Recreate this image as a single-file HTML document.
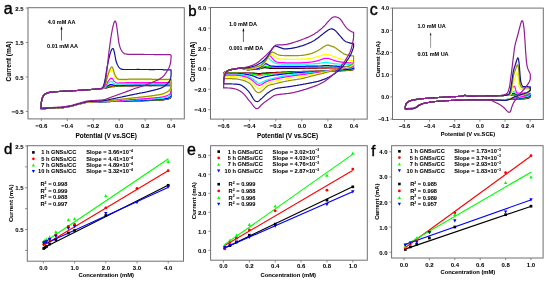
<!DOCTYPE html>
<html><head><meta charset="utf-8"><style>
html,body{margin:0;padding:0;background:#fff;width:550px;height:282px;overflow:hidden}
svg{display:block;font-family:"Liberation Sans", sans-serif;will-change:transform}
text{stroke:#000;stroke-width:0.04px}
</style></head><body>
<svg width="550" height="282" viewBox="0 0 550 282">
<rect width="550" height="282" fill="#fff"/>
<g fill="none" stroke-width="1.20" stroke-linejoin="round">
<path d="M41.0 108.6L41.2 103.9L41.5 101.6L41.7 100.4L41.8 100.2L42.0 99.0L42.2 98.2L42.4 97.7L42.5 97.4L43.1 96.2L43.8 95.2L44.5 94.6L45.2 94.1L45.9 93.7L46.6 93.3L47.3 93.0L48.0 92.8L48.7 92.6L49.4 92.4L50.1 92.3L50.8 92.2L51.5 92.1L52.2 92.0L52.9 92.0L53.6 91.9L54.3 91.9L55.0 91.8L55.7 91.7L56.4 91.7L57.1 91.6L57.8 91.6L58.5 91.5L59.2 91.5L59.9 91.4L60.6 91.4L61.3 91.3L62.0 91.3L62.7 91.2L63.4 91.2L64.1 91.2L64.8 91.1L65.5 91.1L66.2 91.1L66.9 91.1L67.6 91.0L68.3 91.0L69.0 91.0L69.7 90.9L70.4 90.9L71.1 90.8L71.8 90.8L72.5 90.8L73.2 90.7L73.9 90.7L74.6 90.6L75.3 90.6L76.0 90.6L76.7 90.5L77.4 90.5L78.1 90.4L78.8 90.4L79.5 90.3L80.2 90.3L80.9 90.2L81.6 90.2L82.3 90.1L83.0 90.1L83.7 90.1L84.4 90.0L85.1 90.0L85.8 89.9L86.5 89.9L87.2 89.8L87.9 89.8L88.6 89.7L89.3 89.7L90.0 89.6L90.7 89.5L91.4 89.5L92.1 89.4L92.8 89.4L93.5 89.3L94.2 89.2L94.9 89.2L95.6 89.1L96.3 89.1L97.0 89.0L97.7 88.9L98.4 88.9L99.1 88.8L99.8 88.8L100.5 88.7L101.2 88.7L101.9 88.6L102.6 88.5L103.3 88.5L104.0 88.4L104.7 88.2L105.4 88.1L106.1 87.9L106.8 87.8L107.5 87.6L108.2 87.4L108.9 87.2L109.6 87.0L110.3 86.9L111.0 86.8L111.7 86.7L112.4 86.7L113.1 86.6L113.8 86.6L114.5 86.6L115.2 86.5L115.9 86.5L116.6 86.4L117.3 86.3L118.0 86.3L118.7 86.2L119.4 86.1L120.1 86.1L120.8 86.1L121.5 86.0L122.2 86.0L122.9 86.0L123.6 85.9L124.3 85.9L125.0 85.9L125.7 85.9L126.4 85.9L127.1 85.9L127.8 85.8L128.5 85.8L129.2 85.8L129.9 85.8L130.6 85.8L131.3 85.8L132.0 85.8L132.7 85.8L133.4 85.8L134.1 85.7L134.8 85.7L135.5 85.7L136.2 85.7L136.9 85.7L137.6 85.7L138.3 85.7L139.0 85.7L139.7 85.7L140.4 85.7L141.1 85.7L141.8 85.7L142.5 85.7L143.2 85.7L143.9 85.7L144.6 85.7L145.3 85.7L146.0 85.7L146.7 85.7L147.4 85.7L148.1 85.7L148.8 85.7L149.5 85.7L150.2 85.7L150.9 85.7L151.6 85.7L152.3 85.7L153.0 85.7L153.7 85.7L154.4 85.7L155.1 85.7L155.8 85.6L156.5 85.6L157.2 85.6L157.9 85.6L158.6 85.6L159.3 85.6L160.0 85.6L160.7 85.6L161.4 85.6L162.1 85.6L162.8 85.6L163.5 85.6L164.2 85.6L164.9 85.6L165.6 85.6L166.3 85.6L167.0 85.6L167.7 85.6L168.4 85.6L169.1 85.6L169.6 85.6L169.8 85.6L169.8 85.6L170.1 85.6L170.3 85.6L170.5 85.6L170.6 85.6L170.8 85.6L171.1 85.6L171.1 96.1L170.8 97.3L170.6 97.7L170.5 97.8L170.3 98.0L170.1 98.2L169.8 98.4L169.8 98.4L169.6 98.5L169.1 98.7L168.4 99.0L167.7 99.1L167.0 99.2L166.3 99.4L165.6 99.5L164.9 99.6L164.2 99.7L163.5 99.8L162.8 99.9L162.1 99.9L161.4 100.0L160.7 100.0L160.0 100.1L159.3 100.1L158.6 100.2L157.9 100.2L157.2 100.2L156.5 100.3L155.8 100.3L155.1 100.3L154.4 100.4L153.7 100.4L153.0 100.4L152.3 100.4L151.6 100.5L150.9 100.5L150.2 100.5L149.5 100.5L148.8 100.6L148.1 100.6L147.4 100.6L146.7 100.6L146.0 100.7L145.3 100.7L144.6 100.7L143.9 100.7L143.2 100.8L142.5 100.8L141.8 100.8L141.1 100.8L140.4 100.8L139.7 100.9L139.0 100.9L138.3 100.9L137.6 100.9L136.9 100.9L136.2 101.0L135.5 101.0L134.8 101.0L134.1 101.0L133.4 101.0L132.7 101.0L132.0 101.0L131.3 101.1L130.6 101.1L129.9 101.1L129.2 101.1L128.5 101.1L127.8 101.1L127.1 101.2L126.4 101.2L125.7 101.2L125.0 101.2L124.3 101.2L123.6 101.2L122.9 101.3L122.2 101.3L121.5 101.3L120.8 101.3L120.1 101.3L119.4 101.3L118.7 101.4L118.0 101.4L117.3 101.4L116.6 101.4L115.9 101.4L115.2 101.4L114.5 101.5L113.8 101.5L113.1 101.5L112.4 101.5L111.7 101.5L111.0 101.5L110.3 101.6L109.6 101.6L108.9 101.6L108.2 101.6L107.5 101.6L106.8 101.6L106.1 101.7L105.4 101.7L104.7 101.7L104.0 101.7L103.3 101.7L102.6 101.8L101.9 101.8L101.2 101.8L100.5 101.8L99.8 101.9L99.1 101.9L98.4 101.9L97.7 101.9L97.0 101.9L96.3 102.0L95.6 102.0L94.9 102.0L94.2 102.0L93.5 102.1L92.8 102.1L92.1 102.1L91.4 102.1L90.7 102.2L90.0 102.2L89.3 102.2L88.6 102.3L87.9 102.3L87.2 102.4L86.5 102.4L85.8 102.5L85.1 102.7L84.4 102.8L83.7 102.9L83.0 103.1L82.3 103.3L81.6 103.4L80.9 103.6L80.2 103.7L79.5 103.9L78.8 104.1L78.1 104.3L77.4 104.5L76.7 104.7L76.0 104.9L75.3 105.1L74.6 105.3L73.9 105.5L73.2 105.7L72.5 105.9L71.8 106.1L71.1 106.3L70.4 106.4L69.7 106.5L69.0 106.7L68.3 106.8L67.6 106.9L66.9 107.1L66.2 107.2L65.5 107.3L64.8 107.4L64.1 107.5L63.4 107.6L62.7 107.7L62.0 107.8L61.3 107.9L60.6 107.9L59.9 108.0L59.2 108.0L58.5 108.1L57.8 108.1L57.1 108.1L56.4 108.2L55.7 108.2L55.0 108.2L54.3 108.2L53.6 108.3L52.9 108.3L52.2 108.3L51.5 108.3L50.8 108.4L50.1 108.4L49.4 108.4L48.7 108.4L48.0 108.5L47.3 108.5L46.6 108.5L45.9 108.6L45.2 108.6L44.5 108.6L43.8 108.6L43.1 108.6L42.5 108.6L42.4 108.6L42.2 108.6L42.0 108.6L41.8 108.6L41.7 108.6L41.5 108.6L41.2 108.6L41.0 108.6Z" stroke="#000000"/>
<path d="M41.0 108.6L41.2 103.9L41.5 101.6L41.7 100.4L41.8 100.2L42.0 99.0L42.2 98.2L42.4 97.7L42.5 97.4L43.1 96.2L43.8 95.2L44.5 94.6L45.2 94.1L45.9 93.7L46.6 93.3L47.3 93.0L48.0 92.8L48.7 92.6L49.4 92.4L50.1 92.3L50.8 92.2L51.5 92.1L52.2 92.0L52.9 92.0L53.6 91.9L54.3 91.9L55.0 91.8L55.7 91.7L56.4 91.7L57.1 91.6L57.8 91.6L58.5 91.5L59.2 91.5L59.9 91.4L60.6 91.4L61.3 91.3L62.0 91.3L62.7 91.2L63.4 91.2L64.1 91.2L64.8 91.1L65.5 91.1L66.2 91.1L66.9 91.1L67.6 91.0L68.3 91.0L69.0 91.0L69.7 90.9L70.4 90.9L71.1 90.8L71.8 90.8L72.5 90.8L73.2 90.7L73.9 90.7L74.6 90.6L75.3 90.6L76.0 90.6L76.7 90.5L77.4 90.5L78.1 90.4L78.8 90.4L79.5 90.3L80.2 90.3L80.9 90.2L81.6 90.2L82.3 90.1L83.0 90.1L83.7 90.1L84.4 90.0L85.1 90.0L85.8 89.9L86.5 89.9L87.2 89.8L87.9 89.8L88.6 89.7L89.3 89.7L90.0 89.6L90.7 89.5L91.4 89.5L92.1 89.4L92.8 89.4L93.5 89.3L94.2 89.2L94.9 89.2L95.6 89.1L96.3 89.1L97.0 89.0L97.7 88.9L98.4 88.9L99.1 88.8L99.8 88.8L100.5 88.7L101.2 88.7L101.9 88.6L102.6 88.5L103.3 88.4L104.0 88.3L104.7 88.1L105.4 87.9L106.1 87.7L106.8 87.4L107.5 87.2L108.2 87.0L108.9 86.7L109.6 86.5L110.3 86.4L111.0 86.3L111.7 86.2L112.4 86.2L113.1 86.3L113.8 86.3L114.5 86.3L115.2 86.3L115.9 86.3L116.6 86.2L117.3 86.2L118.0 86.1L118.7 86.0L119.4 86.0L120.1 85.9L120.8 85.9L121.5 85.9L122.2 85.8L122.9 85.8L123.6 85.8L124.3 85.8L125.0 85.7L125.7 85.7L126.4 85.7L127.1 85.7L127.8 85.7L128.5 85.7L129.2 85.7L129.9 85.6L130.6 85.6L131.3 85.6L132.0 85.6L132.7 85.6L133.4 85.6L134.1 85.6L134.8 85.6L135.5 85.6L136.2 85.6L136.9 85.6L137.6 85.6L138.3 85.5L139.0 85.5L139.7 85.5L140.4 85.5L141.1 85.5L141.8 85.5L142.5 85.5L143.2 85.5L143.9 85.5L144.6 85.5L145.3 85.5L146.0 85.5L146.7 85.5L147.4 85.5L148.1 85.5L148.8 85.5L149.5 85.6L150.2 85.6L150.9 85.6L151.6 85.6L152.3 85.5L153.0 85.5L153.7 85.5L154.4 85.5L155.1 85.5L155.8 85.5L156.5 85.5L157.2 85.5L157.9 85.5L158.6 85.5L159.3 85.5L160.0 85.5L160.7 85.5L161.4 85.5L162.1 85.5L162.8 85.5L163.5 85.5L164.2 85.5L164.9 85.5L165.6 85.5L166.3 85.5L167.0 85.5L167.7 85.5L168.4 85.5L169.1 85.5L169.6 85.5L169.8 85.5L169.8 85.5L170.1 85.5L170.3 85.5L170.5 85.5L170.6 85.5L170.8 85.5L171.1 85.5L171.1 95.8L170.8 97.0L170.6 97.4L170.5 97.6L170.3 97.7L170.1 97.9L169.8 98.1L169.8 98.2L169.6 98.3L169.1 98.5L168.4 98.7L167.7 98.9L167.0 99.0L166.3 99.1L165.6 99.3L164.9 99.4L164.2 99.5L163.5 99.6L162.8 99.7L162.1 99.8L161.4 99.8L160.7 99.9L160.0 99.9L159.3 100.0L158.6 100.0L157.9 100.0L157.2 100.1L156.5 100.1L155.8 100.1L155.1 100.2L154.4 100.2L153.7 100.2L153.0 100.3L152.3 100.3L151.6 100.3L150.9 100.4L150.2 100.4L149.5 100.4L148.8 100.4L148.1 100.5L147.4 100.5L146.7 100.5L146.0 100.5L145.3 100.6L144.6 100.6L143.9 100.6L143.2 100.6L142.5 100.7L141.8 100.7L141.1 100.7L140.4 100.7L139.7 100.8L139.0 100.8L138.3 100.8L137.6 100.8L136.9 100.8L136.2 100.8L135.5 100.9L134.8 100.9L134.1 100.9L133.4 100.9L132.7 100.9L132.0 101.0L131.3 101.0L130.6 101.0L129.9 101.0L129.2 101.0L128.5 101.0L127.8 101.1L127.1 101.1L126.4 101.1L125.7 101.1L125.0 101.1L124.3 101.2L123.6 101.2L122.9 101.2L122.2 101.2L121.5 101.2L120.8 101.2L120.1 101.3L119.4 101.3L118.7 101.3L118.0 101.3L117.3 101.3L116.6 101.4L115.9 101.4L115.2 101.4L114.5 101.4L113.8 101.4L113.1 101.4L112.4 101.5L111.7 101.5L111.0 101.5L110.3 101.5L109.6 101.5L108.9 101.6L108.2 101.6L107.5 101.6L106.8 101.6L106.1 101.6L105.4 101.7L104.7 101.7L104.0 101.7L103.3 101.7L102.6 101.7L101.9 101.8L101.2 101.8L100.5 101.8L99.8 101.8L99.1 101.9L98.4 101.9L97.7 101.9L97.0 101.9L96.3 102.0L95.6 102.0L94.9 102.0L94.2 102.0L93.5 102.1L92.8 102.1L92.1 102.1L91.4 102.1L90.7 102.1L90.0 102.2L89.3 102.2L88.6 102.2L87.9 102.3L87.2 102.3L86.5 102.4L85.8 102.5L85.1 102.7L84.4 102.8L83.7 102.9L83.0 103.1L82.3 103.3L81.6 103.4L80.9 103.6L80.2 103.7L79.5 103.9L78.8 104.1L78.1 104.3L77.4 104.5L76.7 104.7L76.0 104.9L75.3 105.1L74.6 105.3L73.9 105.5L73.2 105.7L72.5 105.9L71.8 106.1L71.1 106.3L70.4 106.4L69.7 106.5L69.0 106.7L68.3 106.8L67.6 106.9L66.9 107.1L66.2 107.2L65.5 107.3L64.8 107.4L64.1 107.5L63.4 107.6L62.7 107.7L62.0 107.8L61.3 107.9L60.6 107.9L59.9 108.0L59.2 108.0L58.5 108.1L57.8 108.1L57.1 108.1L56.4 108.2L55.7 108.2L55.0 108.2L54.3 108.2L53.6 108.3L52.9 108.3L52.2 108.3L51.5 108.3L50.8 108.4L50.1 108.4L49.4 108.4L48.7 108.4L48.0 108.5L47.3 108.5L46.6 108.5L45.9 108.6L45.2 108.6L44.5 108.6L43.8 108.6L43.1 108.6L42.5 108.6L42.4 108.6L42.2 108.6L42.0 108.6L41.8 108.6L41.7 108.6L41.5 108.6L41.2 108.6L41.0 108.6Z" stroke="#ff0000"/>
<path d="M41.0 108.6L41.2 103.9L41.5 101.6L41.7 100.4L41.8 100.2L42.0 99.0L42.2 98.2L42.4 97.7L42.5 97.4L43.1 96.2L43.8 95.2L44.5 94.6L45.2 94.1L45.9 93.7L46.6 93.3L47.3 93.0L48.0 92.8L48.7 92.6L49.4 92.4L50.1 92.3L50.8 92.2L51.5 92.1L52.2 92.0L52.9 92.0L53.6 91.9L54.3 91.9L55.0 91.8L55.7 91.7L56.4 91.7L57.1 91.6L57.8 91.6L58.5 91.5L59.2 91.5L59.9 91.4L60.6 91.4L61.3 91.3L62.0 91.3L62.7 91.2L63.4 91.2L64.1 91.2L64.8 91.1L65.5 91.1L66.2 91.1L66.9 91.1L67.6 91.0L68.3 91.0L69.0 91.0L69.7 90.9L70.4 90.9L71.1 90.8L71.8 90.8L72.5 90.8L73.2 90.7L73.9 90.7L74.6 90.6L75.3 90.6L76.0 90.6L76.7 90.5L77.4 90.5L78.1 90.4L78.8 90.4L79.5 90.3L80.2 90.3L80.9 90.2L81.6 90.2L82.3 90.1L83.0 90.1L83.7 90.1L84.4 90.0L85.1 90.0L85.8 89.9L86.5 89.9L87.2 89.8L87.9 89.8L88.6 89.7L89.3 89.7L90.0 89.6L90.7 89.5L91.4 89.5L92.1 89.4L92.8 89.4L93.5 89.3L94.2 89.2L94.9 89.2L95.6 89.1L96.3 89.1L97.0 89.0L97.7 88.9L98.4 88.9L99.1 88.8L99.8 88.8L100.5 88.7L101.2 88.7L101.9 88.6L102.6 88.5L103.3 88.4L104.0 88.2L104.7 87.9L105.4 87.6L106.1 87.3L106.8 87.0L107.5 86.6L108.2 86.3L108.9 86.0L109.6 85.8L110.3 85.6L111.0 85.5L111.7 85.5L112.4 85.6L113.1 85.8L113.8 85.8L114.5 85.9L115.2 86.0L115.9 86.1L116.6 86.0L117.3 86.0L118.0 85.9L118.7 85.9L119.4 85.8L120.1 85.8L120.8 85.7L121.5 85.7L122.2 85.7L122.9 85.7L123.6 85.6L124.3 85.6L125.0 85.6L125.7 85.6L126.4 85.6L127.1 85.5L127.8 85.5L128.5 85.5L129.2 85.5L129.9 85.5L130.6 85.5L131.3 85.5L132.0 85.5L132.7 85.4L133.4 85.4L134.1 85.4L134.8 85.4L135.5 85.4L136.2 85.4L136.9 85.4L137.6 85.4L138.3 85.4L139.0 85.4L139.7 85.4L140.4 85.4L141.1 85.4L141.8 85.4L142.5 85.4L143.2 85.4L143.9 85.4L144.6 85.4L145.3 85.4L146.0 85.4L146.7 85.4L147.4 85.4L148.1 85.4L148.8 85.4L149.5 85.4L150.2 85.4L150.9 85.4L151.6 85.4L152.3 85.4L153.0 85.4L153.7 85.4L154.4 85.4L155.1 85.4L155.8 85.4L156.5 85.3L157.2 85.3L157.9 85.3L158.6 85.3L159.3 85.3L160.0 85.3L160.7 85.3L161.4 85.3L162.1 85.3L162.8 85.3L163.5 85.3L164.2 85.3L164.9 85.3L165.6 85.3L166.3 85.3L167.0 85.3L167.7 85.3L168.4 85.3L169.1 85.3L169.6 85.3L169.8 85.3L169.8 85.3L170.1 85.3L170.3 85.3L170.5 85.3L170.6 85.3L170.8 85.3L171.1 85.3L171.1 95.3L170.8 96.5L170.6 97.0L170.5 97.1L170.3 97.3L170.1 97.5L169.8 97.7L169.8 97.8L169.6 97.9L169.1 98.1L168.4 98.4L167.7 98.5L167.0 98.7L166.3 98.8L165.6 99.0L164.9 99.1L164.2 99.2L163.5 99.3L162.8 99.4L162.1 99.5L161.4 99.5L160.7 99.6L160.0 99.7L159.3 99.7L158.6 99.7L157.9 99.8L157.2 99.8L156.5 99.9L155.8 99.9L155.1 99.9L154.4 100.0L153.7 100.0L153.0 100.0L152.3 100.1L151.6 100.1L150.9 100.1L150.2 100.2L149.5 100.2L148.8 100.2L148.1 100.3L147.4 100.3L146.7 100.3L146.0 100.4L145.3 100.4L144.6 100.4L143.9 100.4L143.2 100.5L142.5 100.5L141.8 100.5L141.1 100.5L140.4 100.6L139.7 100.6L139.0 100.6L138.3 100.6L137.6 100.6L136.9 100.7L136.2 100.7L135.5 100.7L134.8 100.7L134.1 100.7L133.4 100.8L132.7 100.8L132.0 100.8L131.3 100.8L130.6 100.9L129.9 100.9L129.2 100.9L128.5 100.9L127.8 100.9L127.1 101.0L126.4 101.0L125.7 101.0L125.0 101.0L124.3 101.0L123.6 101.1L122.9 101.1L122.2 101.1L121.5 101.1L120.8 101.2L120.1 101.2L119.4 101.2L118.7 101.2L118.0 101.2L117.3 101.3L116.6 101.3L115.9 101.3L115.2 101.3L114.5 101.3L113.8 101.4L113.1 101.4L112.4 101.4L111.7 101.4L111.0 101.4L110.3 101.5L109.6 101.5L108.9 101.5L108.2 101.5L107.5 101.6L106.8 101.6L106.1 101.6L105.4 101.6L104.7 101.7L104.0 101.7L103.3 101.7L102.6 101.7L101.9 101.7L101.2 101.8L100.5 101.8L99.8 101.8L99.1 101.8L98.4 101.9L97.7 101.9L97.0 101.9L96.3 101.9L95.6 102.0L94.9 102.0L94.2 102.0L93.5 102.0L92.8 102.1L92.1 102.1L91.4 102.1L90.7 102.1L90.0 102.2L89.3 102.2L88.6 102.2L87.9 102.3L87.2 102.3L86.5 102.4L85.8 102.5L85.1 102.6L84.4 102.8L83.7 102.9L83.0 103.1L82.3 103.2L81.6 103.4L80.9 103.6L80.2 103.7L79.5 103.9L78.8 104.1L78.1 104.3L77.4 104.4L76.7 104.7L76.0 104.9L75.3 105.1L74.6 105.3L73.9 105.5L73.2 105.7L72.5 105.9L71.8 106.1L71.1 106.2L70.4 106.4L69.7 106.5L69.0 106.7L68.3 106.8L67.6 106.9L66.9 107.1L66.2 107.2L65.5 107.3L64.8 107.4L64.1 107.5L63.4 107.6L62.7 107.7L62.0 107.8L61.3 107.9L60.6 107.9L59.9 108.0L59.2 108.0L58.5 108.1L57.8 108.1L57.1 108.1L56.4 108.2L55.7 108.2L55.0 108.2L54.3 108.2L53.6 108.3L52.9 108.3L52.2 108.3L51.5 108.3L50.8 108.3L50.1 108.4L49.4 108.4L48.7 108.4L48.0 108.5L47.3 108.5L46.6 108.5L45.9 108.5L45.2 108.6L44.5 108.6L43.8 108.6L43.1 108.6L42.5 108.6L42.4 108.6L42.2 108.6L42.0 108.6L41.8 108.6L41.7 108.6L41.5 108.6L41.2 108.6L41.0 108.6Z" stroke="#00ff00"/>
<path d="M41.0 108.6L41.2 103.9L41.5 101.6L41.7 100.4L41.8 100.2L42.0 99.0L42.2 98.2L42.4 97.7L42.5 97.4L43.1 96.2L43.8 95.2L44.5 94.6L45.2 94.1L45.9 93.7L46.6 93.3L47.3 93.0L48.0 92.8L48.7 92.6L49.4 92.4L50.1 92.3L50.8 92.2L51.5 92.1L52.2 92.0L52.9 92.0L53.6 91.9L54.3 91.9L55.0 91.8L55.7 91.7L56.4 91.7L57.1 91.6L57.8 91.6L58.5 91.5L59.2 91.5L59.9 91.4L60.6 91.4L61.3 91.3L62.0 91.3L62.7 91.2L63.4 91.2L64.1 91.2L64.8 91.1L65.5 91.1L66.2 91.1L66.9 91.1L67.6 91.0L68.3 91.0L69.0 91.0L69.7 90.9L70.4 90.9L71.1 90.8L71.8 90.8L72.5 90.8L73.2 90.7L73.9 90.7L74.6 90.6L75.3 90.6L76.0 90.6L76.7 90.5L77.4 90.5L78.1 90.4L78.8 90.4L79.5 90.3L80.2 90.3L80.9 90.2L81.6 90.2L82.3 90.1L83.0 90.1L83.7 90.1L84.4 90.0L85.1 90.0L85.8 89.9L86.5 89.9L87.2 89.8L87.9 89.8L88.6 89.7L89.3 89.7L90.0 89.6L90.7 89.5L91.4 89.5L92.1 89.4L92.8 89.4L93.5 89.3L94.2 89.2L94.9 89.2L95.6 89.1L96.3 89.1L97.0 89.0L97.7 88.9L98.4 88.9L99.1 88.8L99.8 88.8L100.5 88.7L101.2 88.7L101.9 88.6L102.6 88.5L103.3 88.3L104.0 88.1L104.7 87.7L105.4 87.3L106.1 86.8L106.8 86.4L107.5 86.0L108.2 85.6L108.9 85.2L109.6 84.9L110.3 84.6L111.0 84.5L111.7 84.5L112.4 84.7L113.1 85.0L113.8 85.2L114.5 85.3L115.2 85.5L115.9 85.6L116.6 85.6L117.3 85.6L118.0 85.6L118.7 85.5L119.4 85.5L120.1 85.5L120.8 85.4L121.5 85.4L122.2 85.4L122.9 85.3L123.6 85.3L124.3 85.3L125.0 85.3L125.7 85.3L126.4 85.2L127.1 85.2L127.8 85.2L128.5 85.2L129.2 85.2L129.9 85.2L130.6 85.2L131.3 85.2L132.0 85.1L132.7 85.1L133.4 85.1L134.1 85.1L134.8 85.1L135.5 85.1L136.2 85.1L136.9 85.1L137.6 85.1L138.3 85.1L139.0 85.1L139.7 85.1L140.4 85.1L141.1 85.1L141.8 85.1L142.5 85.1L143.2 85.1L143.9 85.1L144.6 85.1L145.3 85.1L146.0 85.1L146.7 85.1L147.4 85.1L148.1 85.1L148.8 85.1L149.5 85.1L150.2 85.1L150.9 85.1L151.6 85.1L152.3 85.1L153.0 85.1L153.7 85.1L154.4 85.1L155.1 85.1L155.8 85.1L156.5 85.0L157.2 85.0L157.9 85.0L158.6 85.0L159.3 85.0L160.0 85.0L160.7 85.0L161.4 85.0L162.1 85.0L162.8 85.0L163.5 85.0L164.2 85.0L164.9 85.0L165.6 85.0L166.3 85.0L167.0 85.0L167.7 85.0L168.4 85.0L169.1 85.0L169.6 85.0L169.8 85.0L169.8 85.0L170.1 85.0L170.3 85.0L170.5 85.0L170.6 85.0L170.8 85.0L171.1 85.0L171.1 94.7L170.8 96.0L170.6 96.5L170.5 96.6L170.3 96.8L170.1 97.0L169.8 97.2L169.8 97.3L169.6 97.4L169.1 97.6L168.4 97.9L167.7 98.1L167.0 98.3L166.3 98.4L165.6 98.6L164.9 98.7L164.2 98.9L163.5 99.0L162.8 99.1L162.1 99.1L161.4 99.2L160.7 99.3L160.0 99.3L159.3 99.4L158.6 99.4L157.9 99.5L157.2 99.5L156.5 99.6L155.8 99.6L155.1 99.7L154.4 99.7L153.7 99.7L153.0 99.8L152.3 99.8L151.6 99.8L150.9 99.9L150.2 99.9L149.5 99.9L148.8 100.0L148.1 100.0L147.4 100.0L146.7 100.1L146.0 100.1L145.3 100.1L144.6 100.2L143.9 100.2L143.2 100.2L142.5 100.3L141.8 100.3L141.1 100.3L140.4 100.3L139.7 100.4L139.0 100.4L138.3 100.4L137.6 100.4L136.9 100.5L136.2 100.5L135.5 100.5L134.8 100.5L134.1 100.6L133.4 100.6L132.7 100.6L132.0 100.6L131.3 100.7L130.6 100.7L129.9 100.7L129.2 100.7L128.5 100.8L127.8 100.8L127.1 100.8L126.4 100.8L125.7 100.9L125.0 100.9L124.3 100.9L123.6 100.9L122.9 101.0L122.2 101.0L121.5 101.0L120.8 101.0L120.1 101.1L119.4 101.1L118.7 101.1L118.0 101.1L117.3 101.2L116.6 101.2L115.9 101.2L115.2 101.2L114.5 101.3L113.8 101.3L113.1 101.3L112.4 101.3L111.7 101.4L111.0 101.4L110.3 101.4L109.6 101.4L108.9 101.5L108.2 101.5L107.5 101.5L106.8 101.6L106.1 101.6L105.4 101.6L104.7 101.6L104.0 101.7L103.3 101.7L102.6 101.7L101.9 101.7L101.2 101.7L100.5 101.8L99.8 101.8L99.1 101.8L98.4 101.8L97.7 101.9L97.0 101.9L96.3 101.9L95.6 101.9L94.9 102.0L94.2 102.0L93.5 102.0L92.8 102.0L92.1 102.1L91.4 102.1L90.7 102.1L90.0 102.1L89.3 102.2L88.6 102.2L87.9 102.2L87.2 102.3L86.5 102.4L85.8 102.5L85.1 102.6L84.4 102.8L83.7 102.9L83.0 103.1L82.3 103.2L81.6 103.4L80.9 103.6L80.2 103.7L79.5 103.9L78.8 104.1L78.1 104.2L77.4 104.4L76.7 104.6L76.0 104.9L75.3 105.1L74.6 105.3L73.9 105.5L73.2 105.7L72.5 105.9L71.8 106.1L71.1 106.2L70.4 106.4L69.7 106.5L69.0 106.7L68.3 106.8L67.6 106.9L66.9 107.0L66.2 107.2L65.5 107.3L64.8 107.4L64.1 107.5L63.4 107.6L62.7 107.7L62.0 107.8L61.3 107.9L60.6 107.9L59.9 108.0L59.2 108.0L58.5 108.0L57.8 108.1L57.1 108.1L56.4 108.1L55.7 108.2L55.0 108.2L54.3 108.2L53.6 108.2L52.9 108.3L52.2 108.3L51.5 108.3L50.8 108.3L50.1 108.4L49.4 108.4L48.7 108.4L48.0 108.4L47.3 108.5L46.6 108.5L45.9 108.5L45.2 108.6L44.5 108.6L43.8 108.6L43.1 108.6L42.5 108.6L42.4 108.6L42.2 108.6L42.0 108.6L41.8 108.6L41.7 108.6L41.5 108.6L41.2 108.6L41.0 108.6Z" stroke="#0000ff"/>
<path d="M41.0 108.6L41.2 103.9L41.5 101.6L41.7 100.4L41.8 100.2L42.0 99.0L42.2 98.2L42.4 97.7L42.5 97.4L43.1 96.2L43.8 95.2L44.5 94.6L45.2 94.1L45.9 93.7L46.6 93.3L47.3 93.0L48.0 92.8L48.7 92.6L49.4 92.4L50.1 92.3L50.8 92.2L51.5 92.1L52.2 92.0L52.9 92.0L53.6 91.9L54.3 91.9L55.0 91.8L55.7 91.7L56.4 91.7L57.1 91.6L57.8 91.6L58.5 91.5L59.2 91.5L59.9 91.4L60.6 91.4L61.3 91.3L62.0 91.3L62.7 91.2L63.4 91.2L64.1 91.2L64.8 91.1L65.5 91.1L66.2 91.1L66.9 91.1L67.6 91.0L68.3 91.0L69.0 91.0L69.7 90.9L70.4 90.9L71.1 90.8L71.8 90.8L72.5 90.8L73.2 90.7L73.9 90.7L74.6 90.6L75.3 90.6L76.0 90.6L76.7 90.5L77.4 90.5L78.1 90.4L78.8 90.4L79.5 90.3L80.2 90.3L80.9 90.2L81.6 90.2L82.3 90.1L83.0 90.1L83.7 90.1L84.4 90.0L85.1 90.0L85.8 89.9L86.5 89.9L87.2 89.8L87.9 89.8L88.6 89.7L89.3 89.7L90.0 89.6L90.7 89.5L91.4 89.5L92.1 89.4L92.8 89.4L93.5 89.3L94.2 89.2L94.9 89.2L95.6 89.1L96.3 89.1L97.0 89.0L97.7 88.9L98.4 88.9L99.1 88.8L99.8 88.8L100.5 88.7L101.2 88.7L101.9 88.6L102.6 88.5L103.3 88.4L104.0 88.2L104.7 87.8L105.4 87.1L106.1 86.2L106.8 85.2L107.5 84.3L108.2 83.5L108.9 82.8L109.6 82.2L110.3 81.8L111.0 81.5L111.7 81.6L112.4 82.1L113.1 82.9L113.8 83.4L114.5 83.7L115.2 84.0L115.9 84.2L116.6 84.3L117.3 84.3L118.0 84.2L118.7 84.2L119.4 84.1L120.1 84.1L120.8 84.0L121.5 84.0L122.2 84.0L122.9 84.0L123.6 83.9L124.3 83.9L125.0 83.9L125.7 83.9L126.4 83.9L127.1 83.8L127.8 83.8L128.5 83.8L129.2 83.8L129.9 83.8L130.6 83.8L131.3 83.8L132.0 83.8L132.7 83.8L133.4 83.8L134.1 83.7L134.8 83.7L135.5 83.7L136.2 83.7L136.9 83.7L137.6 83.7L138.3 83.7L139.0 83.7L139.7 83.7L140.4 83.7L141.1 83.7L141.8 83.7L142.5 83.7L143.2 83.7L143.9 83.7L144.6 83.7L145.3 83.7L146.0 83.7L146.7 83.7L147.4 83.8L148.1 83.8L148.8 83.8L149.5 83.8L150.2 83.8L150.9 83.8L151.6 83.8L152.3 83.8L153.0 83.8L153.7 83.8L154.4 83.7L155.1 83.7L155.8 83.7L156.5 83.7L157.2 83.7L157.9 83.7L158.6 83.7L159.3 83.7L160.0 83.7L160.7 83.7L161.4 83.7L162.1 83.7L162.8 83.7L163.5 83.7L164.2 83.7L164.9 83.7L165.6 83.7L166.3 83.7L167.0 83.7L167.7 83.7L168.4 83.7L169.1 83.7L169.6 83.7L169.8 83.7L169.8 83.7L170.1 83.7L170.3 83.7L170.5 83.7L170.6 83.7L170.8 83.7L171.1 83.7L171.1 93.1L170.8 94.4L170.6 95.0L170.5 95.1L170.3 95.3L170.1 95.6L169.8 95.8L169.8 95.9L169.6 96.0L169.1 96.3L168.4 96.6L167.7 96.9L167.0 97.1L166.3 97.3L165.6 97.5L164.9 97.7L164.2 97.8L163.5 98.0L162.8 98.1L162.1 98.2L161.4 98.3L160.7 98.4L160.0 98.4L159.3 98.5L158.6 98.6L157.9 98.6L157.2 98.7L156.5 98.7L155.8 98.8L155.1 98.8L154.4 98.9L153.7 98.9L153.0 99.0L152.3 99.0L151.6 99.1L150.9 99.1L150.2 99.2L149.5 99.2L148.8 99.3L148.1 99.3L147.4 99.4L146.7 99.4L146.0 99.4L145.3 99.5L144.6 99.5L143.9 99.6L143.2 99.6L142.5 99.6L141.8 99.7L141.1 99.7L140.4 99.7L139.7 99.8L139.0 99.8L138.3 99.8L137.6 99.9L136.9 99.9L136.2 99.9L135.5 100.0L134.8 100.0L134.1 100.0L133.4 100.1L132.7 100.1L132.0 100.1L131.3 100.2L130.6 100.2L129.9 100.3L129.2 100.3L128.5 100.3L127.8 100.4L127.1 100.4L126.4 100.4L125.7 100.5L125.0 100.5L124.3 100.5L123.6 100.6L122.9 100.6L122.2 100.6L121.5 100.7L120.8 100.7L120.1 100.8L119.4 100.8L118.7 100.8L118.0 100.9L117.3 100.9L116.6 100.9L115.9 101.0L115.2 101.0L114.5 101.0L113.8 101.1L113.1 101.1L112.4 101.1L111.7 101.2L111.0 101.2L110.3 101.2L109.6 101.3L108.9 101.3L108.2 101.4L107.5 101.4L106.8 101.4L106.1 101.5L105.4 101.5L104.7 101.5L104.0 101.6L103.3 101.6L102.6 101.6L101.9 101.6L101.2 101.7L100.5 101.7L99.8 101.7L99.1 101.7L98.4 101.8L97.7 101.8L97.0 101.8L96.3 101.8L95.6 101.9L94.9 101.9L94.2 101.9L93.5 101.9L92.8 102.0L92.1 102.0L91.4 102.0L90.7 102.0L90.0 102.1L89.3 102.1L88.6 102.1L87.9 102.2L87.2 102.3L86.5 102.3L85.8 102.5L85.1 102.6L84.4 102.7L83.7 102.9L83.0 103.0L82.3 103.2L81.6 103.4L80.9 103.5L80.2 103.7L79.5 103.9L78.8 104.0L78.1 104.2L77.4 104.4L76.7 104.6L76.0 104.8L75.3 105.0L74.6 105.2L73.9 105.5L73.2 105.7L72.5 105.8L71.8 106.0L71.1 106.2L70.4 106.4L69.7 106.5L69.0 106.6L68.3 106.8L67.6 106.9L66.9 107.0L66.2 107.1L65.5 107.3L64.8 107.4L64.1 107.5L63.4 107.6L62.7 107.7L62.0 107.7L61.3 107.8L60.6 107.9L59.9 107.9L59.2 108.0L58.5 108.0L57.8 108.0L57.1 108.1L56.4 108.1L55.7 108.1L55.0 108.2L54.3 108.2L53.6 108.2L52.9 108.2L52.2 108.3L51.5 108.3L50.8 108.3L50.1 108.3L49.4 108.4L48.7 108.4L48.0 108.4L47.3 108.4L46.6 108.5L45.9 108.5L45.2 108.5L44.5 108.5L43.8 108.5L43.1 108.5L42.5 108.6L42.4 108.6L42.2 108.6L42.0 108.6L41.8 108.6L41.7 108.6L41.5 108.6L41.2 108.6L41.0 108.6Z" stroke="#00ffff"/>
<path d="M41.0 108.6L41.2 103.9L41.5 101.6L41.7 100.4L41.8 100.2L42.0 99.0L42.2 98.2L42.4 97.7L42.5 97.4L43.1 96.2L43.8 95.2L44.5 94.6L45.2 94.1L45.9 93.7L46.6 93.3L47.3 93.0L48.0 92.8L48.7 92.6L49.4 92.4L50.1 92.3L50.8 92.2L51.5 92.1L52.2 92.0L52.9 92.0L53.6 91.9L54.3 91.9L55.0 91.8L55.7 91.7L56.4 91.7L57.1 91.6L57.8 91.6L58.5 91.5L59.2 91.5L59.9 91.4L60.6 91.4L61.3 91.3L62.0 91.3L62.7 91.2L63.4 91.2L64.1 91.2L64.8 91.1L65.5 91.1L66.2 91.1L66.9 91.1L67.6 91.0L68.3 91.0L69.0 91.0L69.7 90.9L70.4 90.9L71.1 90.8L71.8 90.8L72.5 90.8L73.2 90.7L73.9 90.7L74.6 90.6L75.3 90.6L76.0 90.6L76.7 90.5L77.4 90.5L78.1 90.4L78.8 90.4L79.5 90.3L80.2 90.3L80.9 90.2L81.6 90.2L82.3 90.1L83.0 90.1L83.7 90.1L84.4 90.0L85.1 90.0L85.8 89.9L86.5 89.9L87.2 89.8L87.9 89.8L88.6 89.7L89.3 89.7L90.0 89.6L90.7 89.5L91.4 89.5L92.1 89.4L92.8 89.4L93.5 89.3L94.2 89.2L94.9 89.2L95.6 89.1L96.3 89.1L97.0 89.0L97.7 88.9L98.4 88.9L99.1 88.8L99.8 88.8L100.5 88.7L101.2 88.7L101.9 88.6L102.6 88.5L103.3 88.4L104.0 88.1L104.7 87.5L105.4 86.4L106.1 85.2L106.8 83.7L107.5 82.4L108.2 81.3L108.9 80.3L109.6 79.4L110.3 78.7L111.0 78.3L111.7 78.2L112.4 78.7L113.1 79.8L113.8 80.9L114.5 81.6L115.2 82.1L115.9 82.5L116.6 82.8L117.3 83.0L118.0 83.0L118.7 83.0L119.4 82.9L120.1 82.9L120.8 82.9L121.5 82.9L122.2 82.9L122.9 82.8L123.6 82.8L124.3 82.8L125.0 82.8L125.7 82.7L126.4 82.7L127.1 82.7L127.8 82.7L128.5 82.7L129.2 82.7L129.9 82.7L130.6 82.7L131.3 82.7L132.0 82.6L132.7 82.6L133.4 82.6L134.1 82.6L134.8 82.6L135.5 82.6L136.2 82.6L136.9 82.6L137.6 82.6L138.3 82.6L139.0 82.6L139.7 82.6L140.4 82.6L141.1 82.6L141.8 82.6L142.5 82.6L143.2 82.6L143.9 82.6L144.6 82.6L145.3 82.6L146.0 82.6L146.7 82.6L147.4 82.6L148.1 82.6L148.8 82.6L149.5 82.7L150.2 82.7L150.9 82.7L151.6 82.7L152.3 82.7L153.0 82.7L153.7 82.7L154.4 82.7L155.1 82.7L155.8 82.6L156.5 82.6L157.2 82.6L157.9 82.6L158.6 82.6L159.3 82.6L160.0 82.6L160.7 82.6L161.4 82.6L162.1 82.6L162.8 82.6L163.5 82.6L164.2 82.6L164.9 82.6L165.6 82.6L166.3 82.6L167.0 82.6L167.7 82.6L168.4 82.6L169.1 82.6L169.6 82.6L169.8 82.6L169.8 82.6L170.1 82.6L170.3 82.6L170.5 82.6L170.6 82.6L170.8 82.6L171.1 82.6L171.1 91.0L170.8 92.4L170.6 93.1L170.5 93.3L170.3 93.5L170.1 93.8L169.8 94.1L169.8 94.1L169.6 94.3L169.1 94.6L168.4 95.0L167.7 95.3L167.0 95.6L166.3 95.8L165.6 96.1L164.9 96.3L164.2 96.5L163.5 96.7L162.8 96.8L162.1 97.0L161.4 97.1L160.7 97.2L160.0 97.3L159.3 97.4L158.6 97.5L157.9 97.5L157.2 97.6L156.5 97.7L155.8 97.7L155.1 97.8L154.4 97.9L153.7 97.9L153.0 98.0L152.3 98.1L151.6 98.1L150.9 98.2L150.2 98.2L149.5 98.3L148.8 98.4L148.1 98.4L147.4 98.5L146.7 98.5L146.0 98.6L145.3 98.6L144.6 98.7L143.9 98.8L143.2 98.8L142.5 98.8L141.8 98.9L141.1 98.9L140.4 99.0L139.7 99.0L139.0 99.1L138.3 99.1L137.6 99.2L136.9 99.2L136.2 99.2L135.5 99.3L134.8 99.3L134.1 99.4L133.4 99.4L132.7 99.5L132.0 99.5L131.3 99.6L130.6 99.6L129.9 99.7L129.2 99.7L128.5 99.8L127.8 99.8L127.1 99.9L126.4 99.9L125.7 100.0L125.0 100.0L124.3 100.1L123.6 100.1L122.9 100.2L122.2 100.2L121.5 100.3L120.8 100.3L120.1 100.4L119.4 100.4L118.7 100.5L118.0 100.5L117.3 100.5L116.6 100.6L115.9 100.6L115.2 100.7L114.5 100.7L113.8 100.8L113.1 100.8L112.4 100.9L111.7 100.9L111.0 101.0L110.3 101.0L109.6 101.1L108.9 101.1L108.2 101.2L107.5 101.2L106.8 101.3L106.1 101.3L105.4 101.4L104.7 101.4L104.0 101.5L103.3 101.5L102.6 101.5L101.9 101.6L101.2 101.6L100.5 101.6L99.8 101.6L99.1 101.7L98.4 101.7L97.7 101.7L97.0 101.7L96.3 101.8L95.6 101.8L94.9 101.8L94.2 101.8L93.5 101.9L92.8 101.9L92.1 101.9L91.4 101.9L90.7 102.0L90.0 102.0L89.3 102.0L88.6 102.1L87.9 102.1L87.2 102.2L86.5 102.3L85.8 102.4L85.1 102.5L84.4 102.7L83.7 102.8L83.0 103.0L82.3 103.2L81.6 103.3L80.9 103.5L80.2 103.7L79.5 103.8L78.8 104.0L78.1 104.2L77.4 104.4L76.7 104.6L76.0 104.8L75.3 105.0L74.6 105.2L73.9 105.4L73.2 105.6L72.5 105.8L71.8 106.0L71.1 106.2L70.4 106.3L69.7 106.4L69.0 106.6L68.3 106.7L67.6 106.8L66.9 107.0L66.2 107.1L65.5 107.2L64.8 107.3L64.1 107.4L63.4 107.5L62.7 107.6L62.0 107.7L61.3 107.8L60.6 107.8L59.9 107.9L59.2 107.9L58.5 108.0L57.8 108.0L57.1 108.0L56.4 108.1L55.7 108.1L55.0 108.1L54.3 108.1L53.6 108.2L52.9 108.2L52.2 108.2L51.5 108.2L50.8 108.3L50.1 108.3L49.4 108.3L48.7 108.3L48.0 108.4L47.3 108.4L46.6 108.4L45.9 108.5L45.2 108.5L44.5 108.5L43.8 108.5L43.1 108.5L42.5 108.5L42.4 108.5L42.2 108.5L42.0 108.5L41.8 108.6L41.7 108.6L41.5 108.6L41.2 108.6L41.0 108.6Z" stroke="#ff00ff"/>
<path d="M41.0 108.6L41.2 103.9L41.5 101.6L41.7 100.4L41.8 100.2L42.0 99.0L42.2 98.2L42.4 97.7L42.5 97.4L43.1 96.2L43.8 95.2L44.5 94.6L45.2 94.1L45.9 93.7L46.6 93.3L47.3 93.0L48.0 92.8L48.7 92.6L49.4 92.4L50.1 92.3L50.8 92.2L51.5 92.1L52.2 92.0L52.9 92.0L53.6 91.9L54.3 91.9L55.0 91.8L55.7 91.7L56.4 91.7L57.1 91.6L57.8 91.6L58.5 91.5L59.2 91.5L59.9 91.4L60.6 91.4L61.3 91.3L62.0 91.3L62.7 91.2L63.4 91.2L64.1 91.2L64.8 91.1L65.5 91.1L66.2 91.1L66.9 91.1L67.6 91.0L68.3 91.0L69.0 91.0L69.7 90.9L70.4 90.9L71.1 90.8L71.8 90.8L72.5 90.8L73.2 90.7L73.9 90.7L74.6 90.6L75.3 90.6L76.0 90.6L76.7 90.5L77.4 90.5L78.1 90.4L78.8 90.4L79.5 90.3L80.2 90.3L80.9 90.2L81.6 90.2L82.3 90.1L83.0 90.1L83.7 90.1L84.4 90.0L85.1 90.0L85.8 89.9L86.5 89.9L87.2 89.8L87.9 89.8L88.6 89.7L89.3 89.7L90.0 89.6L90.7 89.5L91.4 89.5L92.1 89.4L92.8 89.4L93.5 89.3L94.2 89.2L94.9 89.2L95.6 89.1L96.3 89.1L97.0 89.0L97.7 88.9L98.4 88.9L99.1 88.8L99.8 88.8L100.5 88.7L101.2 88.7L101.9 88.6L102.6 88.5L103.3 88.3L104.0 87.8L104.7 86.8L105.4 85.0L106.1 82.8L106.8 80.1L107.5 77.8L108.2 75.7L108.9 73.8L109.6 72.2L110.3 70.9L111.0 69.9L111.7 69.6L112.4 70.1L113.1 71.9L113.8 74.2L114.5 76.0L115.2 77.2L115.9 78.1L116.6 78.9L117.3 79.4L118.0 79.7L118.7 79.8L119.4 79.9L120.1 79.9L120.8 79.9L121.5 79.9L122.2 79.9L122.9 79.8L123.6 79.8L124.3 79.8L125.0 79.8L125.7 79.8L126.4 79.8L127.1 79.7L127.8 79.7L128.5 79.7L129.2 79.7L129.9 79.7L130.6 79.7L131.3 79.7L132.0 79.7L132.7 79.7L133.4 79.7L134.1 79.7L134.8 79.6L135.5 79.6L136.2 79.6L136.9 79.6L137.6 79.6L138.3 79.6L139.0 79.6L139.7 79.6L140.4 79.7L141.1 79.7L141.8 79.7L142.5 79.7L143.2 79.7L143.9 79.7L144.6 79.7L145.3 79.7L146.0 79.7L146.7 79.7L147.4 79.7L148.1 79.7L148.8 79.7L149.5 79.7L150.2 79.7L150.9 79.9L151.6 79.9L152.3 79.8L153.0 79.8L153.7 79.8L154.4 79.8L155.1 79.8L155.8 79.8L156.5 79.8L157.2 79.8L157.9 79.8L158.6 79.8L159.3 79.8L160.0 79.8L160.7 79.8L161.4 79.8L162.1 79.8L162.8 79.8L163.5 79.8L164.2 79.8L164.9 79.8L165.6 79.8L166.3 79.8L167.0 79.8L167.7 79.8L168.4 79.8L169.1 79.8L169.6 79.8L169.8 79.8L169.8 79.8L170.1 79.8L170.3 79.8L170.5 79.8L170.6 79.8L170.8 79.8L171.1 79.8L171.1 86.8L170.8 88.3L170.6 89.2L170.5 89.4L170.3 89.7L170.1 90.1L169.8 90.4L169.8 90.5L169.6 90.7L169.1 91.2L168.4 91.7L167.7 92.1L167.0 92.4L166.3 92.8L165.6 93.2L164.9 93.5L164.2 93.8L163.5 94.0L162.8 94.3L162.1 94.4L161.4 94.6L160.7 94.8L160.0 94.9L159.3 95.1L158.6 95.2L157.9 95.3L157.2 95.4L156.5 95.5L155.8 95.6L155.1 95.7L154.4 95.8L153.7 95.9L153.0 96.0L152.3 96.1L151.6 96.1L150.9 96.2L150.2 96.3L149.5 96.4L148.8 96.5L148.1 96.6L147.4 96.7L146.7 96.8L146.0 96.8L145.3 96.9L144.6 97.0L143.9 97.1L143.2 97.1L142.5 97.2L141.8 97.3L141.1 97.3L140.4 97.4L139.7 97.5L139.0 97.5L138.3 97.6L137.6 97.7L136.9 97.7L136.2 97.8L135.5 97.9L134.8 97.9L134.1 98.0L133.4 98.1L132.7 98.2L132.0 98.3L131.3 98.3L130.6 98.4L129.9 98.5L129.2 98.6L128.5 98.6L127.8 98.7L127.1 98.8L126.4 98.9L125.7 98.9L125.0 99.0L124.3 99.1L123.6 99.2L122.9 99.2L122.2 99.3L121.5 99.4L120.8 99.5L120.1 99.5L119.4 99.6L118.7 99.7L118.0 99.8L117.3 99.8L116.6 99.9L115.9 100.0L115.2 100.1L114.5 100.1L113.8 100.2L113.1 100.3L112.4 100.3L111.7 100.4L111.0 100.5L110.3 100.6L109.6 100.6L108.9 100.7L108.2 100.8L107.5 100.9L106.8 101.0L106.1 101.1L105.4 101.1L104.7 101.2L104.0 101.2L103.3 101.3L102.6 101.3L101.9 101.4L101.2 101.4L100.5 101.4L99.8 101.4L99.1 101.5L98.4 101.5L97.7 101.5L97.0 101.6L96.3 101.6L95.6 101.6L94.9 101.6L94.2 101.7L93.5 101.7L92.8 101.7L92.1 101.8L91.4 101.8L90.7 101.8L90.0 101.8L89.3 101.9L88.6 101.9L87.9 102.0L87.2 102.1L86.5 102.1L85.8 102.3L85.1 102.4L84.4 102.6L83.7 102.7L83.0 102.9L82.3 103.1L81.6 103.2L80.9 103.4L80.2 103.6L79.5 103.7L78.8 103.9L78.1 104.1L77.4 104.3L76.7 104.5L76.0 104.7L75.3 104.9L74.6 105.1L73.9 105.3L73.2 105.5L72.5 105.7L71.8 105.9L71.1 106.1L70.4 106.2L69.7 106.4L69.0 106.5L68.3 106.6L67.6 106.7L66.9 106.9L66.2 107.0L65.5 107.1L64.8 107.2L64.1 107.3L63.4 107.4L62.7 107.5L62.0 107.6L61.3 107.7L60.6 107.7L59.9 107.8L59.2 107.8L58.5 107.9L57.8 107.9L57.1 107.9L56.4 108.0L55.7 108.0L55.0 108.0L54.3 108.0L53.6 108.1L52.9 108.1L52.2 108.1L51.5 108.1L50.8 108.2L50.1 108.2L49.4 108.2L48.7 108.3L48.0 108.3L47.3 108.3L46.6 108.3L45.9 108.4L45.2 108.4L44.5 108.4L43.8 108.4L43.1 108.5L42.5 108.5L42.4 108.5L42.2 108.5L42.0 108.5L41.8 108.5L41.7 108.5L41.5 108.5L41.2 108.6L41.0 108.6Z" stroke="#ffff00"/>
<path d="M41.0 108.6L41.2 103.9L41.5 101.6L41.7 100.4L41.8 100.2L42.0 99.0L42.2 98.2L42.4 97.7L42.5 97.4L43.1 96.2L43.8 95.2L44.5 94.6L45.2 94.1L45.9 93.7L46.6 93.3L47.3 93.0L48.0 92.8L48.7 92.6L49.4 92.4L50.1 92.3L50.8 92.2L51.5 92.1L52.2 92.0L52.9 92.0L53.6 91.9L54.3 91.9L55.0 91.8L55.7 91.7L56.4 91.7L57.1 91.6L57.8 91.6L58.5 91.5L59.2 91.5L59.9 91.4L60.6 91.4L61.3 91.3L62.0 91.3L62.7 91.2L63.4 91.2L64.1 91.2L64.8 91.1L65.5 91.1L66.2 91.1L66.9 91.1L67.6 91.0L68.3 91.0L69.0 91.0L69.7 90.9L70.4 90.9L71.1 90.8L71.8 90.8L72.5 90.8L73.2 90.7L73.9 90.7L74.6 90.6L75.3 90.6L76.0 90.6L76.7 90.5L77.4 90.5L78.1 90.4L78.8 90.4L79.5 90.3L80.2 90.3L80.9 90.2L81.6 90.2L82.3 90.1L83.0 90.1L83.7 90.1L84.4 90.0L85.1 90.0L85.8 89.9L86.5 89.9L87.2 89.8L87.9 89.8L88.6 89.7L89.3 89.7L90.0 89.6L90.7 89.5L91.4 89.5L92.1 89.4L92.8 89.4L93.5 89.3L94.2 89.2L94.9 89.2L95.6 89.1L96.3 89.1L97.0 89.0L97.7 88.9L98.4 88.9L99.1 88.8L99.8 88.8L100.5 88.7L101.2 88.7L101.9 88.6L102.6 88.5L103.3 88.2L104.0 87.7L104.7 86.5L105.4 84.6L106.1 82.2L106.8 79.2L107.5 76.5L108.2 74.2L108.9 72.0L109.6 70.2L110.3 68.7L111.0 67.5L111.7 66.9L112.4 67.2L113.1 68.8L113.8 71.3L114.5 73.7L115.2 75.3L115.9 76.6L116.6 77.7L117.3 78.5L118.0 79.0L118.7 79.2L119.4 79.3L120.1 79.4L120.8 79.4L121.5 79.4L122.2 79.4L122.9 79.4L123.6 79.3L124.3 79.3L125.0 79.3L125.7 79.3L126.4 79.3L127.1 79.3L127.8 79.3L128.5 79.2L129.2 79.2L129.9 79.2L130.6 79.2L131.3 79.2L132.0 79.2L132.7 79.2L133.4 79.2L134.1 79.2L134.8 79.2L135.5 79.2L136.2 79.2L136.9 79.2L137.6 79.2L138.3 79.2L139.0 79.2L139.7 79.2L140.4 79.2L141.1 79.2L141.8 79.2L142.5 79.2L143.2 79.2L143.9 79.2L144.6 79.2L145.3 79.2L146.0 79.2L146.7 79.2L147.4 79.2L148.1 79.2L148.8 79.2L149.5 79.2L150.2 79.2L150.9 79.2L151.6 79.2L152.3 79.4L153.0 79.4L153.7 79.4L154.4 79.4L155.1 79.4L155.8 79.4L156.5 79.4L157.2 79.3L157.9 79.3L158.6 79.3L159.3 79.3L160.0 79.3L160.7 79.3L161.4 79.3L162.1 79.3L162.8 79.3L163.5 79.3L164.2 79.3L164.9 79.3L165.6 79.3L166.3 79.3L167.0 79.3L167.7 79.3L168.4 79.3L169.1 79.3L169.6 79.3L169.8 79.3L169.8 79.3L170.1 79.3L170.3 79.3L170.5 79.3L170.6 79.3L170.8 79.3L171.1 79.3L171.1 86.0L170.8 87.6L170.6 88.4L170.5 88.7L170.3 89.0L170.1 89.4L169.8 89.8L169.8 89.8L169.6 90.0L169.1 90.5L168.4 91.1L167.7 91.5L167.0 91.9L166.3 92.3L165.6 92.6L164.9 93.0L164.2 93.3L163.5 93.6L162.8 93.8L162.1 94.0L161.4 94.2L160.7 94.3L160.0 94.5L159.3 94.6L158.6 94.8L157.9 94.9L157.2 95.0L156.5 95.1L155.8 95.2L155.1 95.3L154.4 95.4L153.7 95.5L153.0 95.6L152.3 95.7L151.6 95.8L150.9 95.9L150.2 96.0L149.5 96.1L148.8 96.2L148.1 96.3L147.4 96.3L146.7 96.4L146.0 96.5L145.3 96.6L144.6 96.7L143.9 96.8L143.2 96.8L142.5 96.9L141.8 97.0L141.1 97.1L140.4 97.1L139.7 97.2L139.0 97.3L138.3 97.3L137.6 97.4L136.9 97.5L136.2 97.5L135.5 97.6L134.8 97.7L134.1 97.8L133.4 97.9L132.7 97.9L132.0 98.0L131.3 98.1L130.6 98.2L129.9 98.3L129.2 98.4L128.5 98.4L127.8 98.5L127.1 98.6L126.4 98.7L125.7 98.8L125.0 98.8L124.3 98.9L123.6 99.0L122.9 99.1L122.2 99.2L121.5 99.2L120.8 99.3L120.1 99.4L119.4 99.5L118.7 99.5L118.0 99.6L117.3 99.7L116.6 99.8L115.9 99.9L115.2 99.9L114.5 100.0L113.8 100.1L113.1 100.2L112.4 100.2L111.7 100.3L111.0 100.4L110.3 100.5L109.6 100.6L108.9 100.7L108.2 100.8L107.5 100.9L106.8 100.9L106.1 101.0L105.4 101.1L104.7 101.1L104.0 101.2L103.3 101.2L102.6 101.3L101.9 101.3L101.2 101.4L100.5 101.4L99.8 101.4L99.1 101.4L98.4 101.5L97.7 101.5L97.0 101.5L96.3 101.6L95.6 101.6L94.9 101.6L94.2 101.6L93.5 101.7L92.8 101.7L92.1 101.7L91.4 101.8L90.7 101.8L90.0 101.8L89.3 101.9L88.6 101.9L87.9 102.0L87.2 102.0L86.5 102.1L85.8 102.2L85.1 102.4L84.4 102.5L83.7 102.7L83.0 102.9L82.3 103.0L81.6 103.2L80.9 103.4L80.2 103.6L79.5 103.7L78.8 103.9L78.1 104.1L77.4 104.3L76.7 104.5L76.0 104.7L75.3 104.9L74.6 105.1L73.9 105.3L73.2 105.5L72.5 105.7L71.8 105.9L71.1 106.1L70.4 106.2L69.7 106.3L69.0 106.5L68.3 106.6L67.6 106.7L66.9 106.9L66.2 107.0L65.5 107.1L64.8 107.2L64.1 107.3L63.4 107.4L62.7 107.5L62.0 107.6L61.3 107.7L60.6 107.7L59.9 107.8L59.2 107.8L58.5 107.8L57.8 107.9L57.1 107.9L56.4 107.9L55.7 108.0L55.0 108.0L54.3 108.0L53.6 108.1L52.9 108.1L52.2 108.1L51.5 108.1L50.8 108.2L50.1 108.2L49.4 108.2L48.7 108.2L48.0 108.3L47.3 108.3L46.6 108.3L45.9 108.4L45.2 108.4L44.5 108.4L43.8 108.4L43.1 108.4L42.5 108.5L42.4 108.5L42.2 108.5L42.0 108.5L41.8 108.5L41.7 108.5L41.5 108.5L41.2 108.6L41.0 108.6Z" stroke="#959500"/>
<path d="M41.0 108.6L41.2 103.9L41.5 101.6L41.7 100.4L41.8 100.2L42.0 99.0L42.2 98.2L42.4 97.7L42.5 97.4L43.1 96.2L43.8 95.2L44.5 94.6L45.2 94.1L45.9 93.7L46.6 93.3L47.3 93.0L48.0 92.8L48.7 92.6L49.4 92.4L50.1 92.3L50.8 92.2L51.5 92.1L52.2 92.0L52.9 92.0L53.6 91.9L54.3 91.9L55.0 91.8L55.7 91.7L56.4 91.7L57.1 91.6L57.8 91.6L58.5 91.5L59.2 91.5L59.9 91.4L60.6 91.4L61.3 91.3L62.0 91.3L62.7 91.2L63.4 91.2L64.1 91.2L64.8 91.1L65.5 91.1L66.2 91.1L66.9 91.1L67.6 91.0L68.3 91.0L69.0 91.0L69.7 90.9L70.4 90.9L71.1 90.8L71.8 90.8L72.5 90.8L73.2 90.7L73.9 90.7L74.6 90.6L75.3 90.6L76.0 90.6L76.7 90.5L77.4 90.5L78.1 90.4L78.8 90.4L79.5 90.3L80.2 90.3L80.9 90.2L81.6 90.2L82.3 90.1L83.0 90.1L83.7 90.1L84.4 90.0L85.1 90.0L85.8 89.9L86.5 89.9L87.2 89.8L87.9 89.8L88.6 89.7L89.3 89.7L90.0 89.6L90.7 89.5L91.4 89.5L92.1 89.4L92.8 89.4L93.5 89.3L94.2 89.3L94.9 89.2L95.6 89.1L96.3 89.1L97.0 89.0L97.7 88.9L98.4 88.9L99.1 88.8L99.8 88.7L100.5 88.6L101.2 88.5L101.9 88.1L102.6 87.5L103.3 86.4L104.0 84.3L104.7 81.3L105.4 77.7L106.1 73.4L106.8 69.0L107.5 65.2L108.2 61.8L108.9 58.5L109.6 55.7L110.3 53.1L111.0 51.1L111.7 49.5L112.4 48.5L113.1 48.5L113.8 49.9L114.5 52.9L115.2 56.7L115.9 60.5L116.6 62.8L117.3 64.5L118.0 65.8L118.7 67.0L119.4 67.9L120.1 68.5L120.8 68.9L121.5 69.2L122.2 69.3L122.9 69.4L123.6 69.5L124.3 69.5L125.0 69.5L125.7 69.5L126.4 69.5L127.1 69.5L127.8 69.5L128.5 69.5L129.2 69.5L129.9 69.5L130.6 69.5L131.3 69.5L132.0 69.5L132.7 69.5L133.4 69.5L134.1 69.5L134.8 69.5L135.5 69.5L136.2 69.5L136.9 69.4L137.6 69.4L138.3 69.4L139.0 69.4L139.7 69.5L140.4 69.5L141.1 69.5L141.8 69.5L142.5 69.5L143.2 69.5L143.9 69.5L144.6 69.5L145.3 69.5L146.0 69.5L146.7 69.5L147.4 69.5L148.1 69.5L148.8 69.5L149.5 69.6L150.2 69.6L150.9 69.6L151.6 69.6L152.3 69.6L153.0 69.6L153.7 69.6L154.4 69.6L155.1 69.5L155.8 69.5L156.5 69.5L157.2 69.5L157.9 69.5L158.6 69.5L159.3 69.5L160.0 69.5L160.7 69.5L161.4 69.5L162.1 69.5L162.8 69.7L163.5 69.9L164.2 69.9L164.9 69.9L165.6 69.9L166.3 69.9L167.0 69.9L167.7 69.9L168.4 69.9L169.1 69.9L169.6 69.9L169.8 69.9L169.8 69.9L170.1 69.9L170.3 69.9L170.5 69.9L170.6 69.9L170.8 69.9L171.1 69.9L171.1 75.0L170.8 77.2L170.6 78.4L170.5 78.8L170.3 79.3L170.1 80.0L169.8 80.5L169.8 80.6L169.6 80.9L169.1 81.7L168.4 82.5L167.7 83.3L167.0 84.0L166.3 84.6L165.6 85.2L164.9 85.9L164.2 86.4L163.5 86.8L162.8 87.2L162.1 87.6L161.4 87.9L160.7 88.2L160.0 88.5L159.3 88.7L158.6 88.9L157.9 89.1L157.2 89.3L156.5 89.5L155.8 89.7L155.1 89.9L154.4 90.1L153.7 90.2L153.0 90.4L152.3 90.6L151.6 90.7L150.9 90.9L150.2 91.1L149.5 91.2L148.8 91.4L148.1 91.6L147.4 91.7L146.7 91.9L146.0 92.0L145.3 92.2L144.6 92.3L143.9 92.5L143.2 92.6L142.5 92.7L141.8 92.9L141.1 93.0L140.4 93.1L139.7 93.2L139.0 93.4L138.3 93.5L137.6 93.6L136.9 93.8L136.2 93.9L135.5 94.0L134.8 94.2L134.1 94.3L133.4 94.5L132.7 94.6L132.0 94.8L131.3 94.9L130.6 95.1L129.9 95.2L129.2 95.4L128.5 95.5L127.8 95.7L127.1 95.8L126.4 96.0L125.7 96.1L125.0 96.3L124.3 96.4L123.6 96.6L122.9 96.7L122.2 96.9L121.5 97.0L120.8 97.2L120.1 97.3L119.4 97.5L118.7 97.6L118.0 97.7L117.3 97.9L116.6 98.0L115.9 98.2L115.2 98.3L114.5 98.5L113.8 98.6L113.1 98.8L112.4 98.9L111.7 99.0L111.0 99.2L110.3 99.3L109.6 99.5L108.9 99.7L108.2 99.8L107.5 100.0L106.8 100.2L106.1 100.3L105.4 100.4L104.7 100.5L104.0 100.6L103.3 100.7L102.6 100.8L101.9 100.8L101.2 100.9L100.5 100.9L99.8 100.9L99.1 101.0L98.4 101.0L97.7 101.0L97.0 101.1L96.3 101.1L95.6 101.1L94.9 101.2L94.2 101.2L93.5 101.2L92.8 101.3L92.1 101.3L91.4 101.3L90.7 101.4L90.0 101.4L89.3 101.5L88.6 101.5L87.9 101.6L87.2 101.7L86.5 101.8L85.8 101.9L85.1 102.1L84.4 102.2L83.7 102.4L83.0 102.6L82.3 102.8L81.6 103.0L80.9 103.2L80.2 103.4L79.5 103.5L78.8 103.7L78.1 103.9L77.4 104.1L76.7 104.3L76.0 104.5L75.3 104.7L74.6 104.9L73.9 105.1L73.2 105.3L72.5 105.5L71.8 105.7L71.1 105.8L70.4 106.0L69.7 106.1L69.0 106.2L68.3 106.4L67.6 106.5L66.9 106.6L66.2 106.7L65.5 106.9L64.8 107.0L64.1 107.1L63.4 107.2L62.7 107.2L62.0 107.3L61.3 107.4L60.6 107.5L59.9 107.5L59.2 107.6L58.5 107.6L57.8 107.6L57.1 107.7L56.4 107.7L55.7 107.7L55.0 107.8L54.3 107.8L53.6 107.8L52.9 107.8L52.2 107.9L51.5 107.9L50.8 107.9L50.1 108.0L49.4 108.0L48.7 108.0L48.0 108.0L47.3 108.1L46.6 108.1L45.9 108.1L45.2 108.2L44.5 108.2L43.8 108.2L43.1 108.3L42.5 108.3L42.4 108.3L42.2 108.4L42.0 108.4L41.8 108.4L41.7 108.4L41.5 108.4L41.2 108.5L41.0 108.6Z" stroke="#141490"/>
<path d="M41.0 108.6L41.2 103.9L41.5 101.6L41.7 100.4L41.8 100.2L42.0 99.0L42.2 98.2L42.4 97.7L42.5 97.4L43.1 96.2L43.8 95.2L44.5 94.6L45.2 94.1L45.9 93.7L46.6 93.3L47.3 93.0L48.0 92.8L48.7 92.6L49.4 92.4L50.1 92.3L50.8 92.2L51.5 92.1L52.2 92.0L52.9 92.0L53.6 91.9L54.3 91.9L55.0 91.8L55.7 91.7L56.4 91.7L57.1 91.6L57.8 91.6L58.5 91.5L59.2 91.5L59.9 91.4L60.6 91.4L61.3 91.3L62.0 91.3L62.7 91.2L63.4 91.2L64.1 91.2L64.8 91.1L65.5 91.1L66.2 91.1L66.9 91.1L67.6 91.0L68.3 91.0L69.0 91.0L69.7 90.9L70.4 90.9L71.1 90.8L71.8 90.8L72.5 90.8L73.2 90.7L73.9 90.7L74.6 90.6L75.3 90.6L76.0 90.6L76.7 90.5L77.4 90.5L78.1 90.4L78.8 90.4L79.5 90.3L80.2 90.3L80.9 90.2L81.6 90.2L82.3 90.1L83.0 90.1L83.7 90.1L84.4 90.0L85.1 90.0L85.8 89.9L86.5 89.9L87.2 89.8L87.9 89.8L88.6 89.7L89.3 89.7L90.0 89.6L90.7 89.5L91.4 89.5L92.1 89.4L92.8 89.4L93.5 89.3L94.2 89.3L94.9 89.2L95.6 89.1L96.3 89.1L97.0 89.0L97.7 88.9L98.4 88.9L99.1 88.8L99.8 88.8L100.5 88.7L101.2 88.6L101.9 88.4L102.6 88.1L103.3 87.5L104.0 86.5L104.7 84.7L105.4 81.5L106.1 77.1L106.8 71.6L107.5 65.5L108.2 58.5L108.9 52.3L109.6 46.8L110.3 41.8L111.0 37.0L111.7 32.9L112.4 29.0L113.1 25.8L113.8 23.3L114.5 21.5L115.2 21.0L115.9 22.1L116.6 25.4L117.3 30.5L118.0 36.3L118.7 41.8L119.4 45.1L120.1 47.5L120.8 49.2L121.5 50.5L122.2 51.6L122.9 52.5L123.6 53.1L124.3 53.6L125.0 53.8L125.7 54.0L126.4 54.2L127.1 54.2L127.8 54.3L128.5 54.4L129.2 54.4L129.9 54.4L130.6 54.4L131.3 54.4L132.0 54.4L132.7 54.4L133.4 54.4L134.1 54.4L134.8 54.4L135.5 54.4L136.2 54.4L136.9 54.4L137.6 54.4L138.3 54.4L139.0 54.4L139.7 54.4L140.4 54.4L141.1 54.4L141.8 54.4L142.5 54.4L143.2 54.4L143.9 54.4L144.6 54.5L145.3 54.5L146.0 54.5L146.7 54.5L147.4 54.5L148.1 54.5L148.8 54.5L149.5 54.5L150.2 54.5L150.9 54.5L151.6 54.5L152.3 54.5L153.0 54.5L153.7 54.5L154.4 54.6L155.1 54.6L155.8 54.6L156.5 54.6L157.2 54.6L157.9 54.6L158.6 54.6L159.3 54.6L160.0 54.6L160.7 54.6L161.4 54.6L162.1 54.6L162.8 54.6L163.5 54.6L164.2 54.6L164.9 54.6L165.6 54.6L166.3 54.6L167.0 54.6L167.7 54.6L168.4 54.6L169.1 54.6L169.6 54.6L169.8 54.7L169.8 54.7L170.1 54.7L170.3 54.7L170.5 54.8L170.6 54.8L170.8 55.1L171.1 55.3L171.1 57.5L170.8 60.5L170.6 62.4L170.5 63.0L170.3 63.7L170.1 64.7L169.8 65.5L169.8 65.7L169.6 66.2L169.1 67.4L168.4 68.8L167.7 70.1L167.0 71.2L166.3 72.3L165.6 73.4L164.9 74.4L164.2 75.3L163.5 76.0L162.8 76.7L162.1 77.3L161.4 77.8L160.7 78.3L160.0 78.8L159.3 79.2L158.6 79.6L157.9 79.9L157.2 80.2L156.5 80.5L155.8 80.8L155.1 81.2L154.4 81.5L153.7 81.8L153.0 82.1L152.3 82.4L151.6 82.7L150.9 82.9L150.2 83.2L149.5 83.5L148.8 83.8L148.1 84.1L147.4 84.3L146.7 84.6L146.0 84.8L145.3 85.1L144.6 85.3L143.9 85.6L143.2 85.8L142.5 86.0L141.8 86.2L141.1 86.5L140.4 86.7L139.7 86.9L139.0 87.1L138.3 87.3L137.6 87.6L136.9 87.8L136.2 88.0L135.5 88.2L134.8 88.5L134.1 88.7L133.4 89.0L132.7 89.3L132.0 89.5L131.3 89.8L130.6 90.1L129.9 90.3L129.2 90.6L128.5 90.9L127.8 91.1L127.1 91.4L126.4 91.7L125.7 91.9L125.0 92.2L124.3 92.5L123.6 92.7L122.9 93.0L122.2 93.2L121.5 93.5L120.8 93.7L120.1 94.0L119.4 94.2L118.7 94.5L118.0 94.7L117.3 95.0L116.6 95.2L115.9 95.5L115.2 95.7L114.5 96.0L113.8 96.2L113.1 96.5L112.4 96.7L111.7 97.0L111.0 97.2L110.3 97.5L109.6 97.8L108.9 98.1L108.2 98.4L107.5 98.7L106.8 98.9L106.1 99.2L105.4 99.4L104.7 99.5L104.0 99.7L103.3 99.8L102.6 99.9L101.9 100.0L101.2 100.1L100.5 100.1L99.8 100.2L99.1 100.2L98.4 100.3L97.7 100.3L97.0 100.3L96.3 100.4L95.6 100.4L94.9 100.5L94.2 100.5L93.5 100.6L92.8 100.6L92.1 100.6L91.4 100.7L90.7 100.7L90.0 100.8L89.3 100.9L88.6 100.9L87.9 101.0L87.2 101.1L86.5 101.2L85.8 101.4L85.1 101.6L84.4 101.8L83.7 102.0L83.0 102.2L82.3 102.4L81.6 102.6L80.9 102.9L80.2 103.0L79.5 103.2L78.8 103.4L78.1 103.6L77.4 103.8L76.7 104.0L76.0 104.2L75.3 104.4L74.6 104.6L73.9 104.8L73.2 105.0L72.5 105.2L71.8 105.3L71.1 105.5L70.4 105.6L69.7 105.8L69.0 105.9L68.3 106.0L67.6 106.1L66.9 106.2L66.2 106.4L65.5 106.5L64.8 106.6L64.1 106.7L63.4 106.8L62.7 106.8L62.0 106.9L61.3 107.0L60.6 107.1L59.9 107.1L59.2 107.2L58.5 107.2L57.8 107.2L57.1 107.3L56.4 107.3L55.7 107.3L55.0 107.4L54.3 107.4L53.6 107.4L52.9 107.5L52.2 107.5L51.5 107.5L50.8 107.6L50.1 107.6L49.4 107.6L48.7 107.7L48.0 107.7L47.3 107.7L46.6 107.7L45.9 107.8L45.2 107.8L44.5 107.9L43.8 107.9L43.1 108.0L42.5 108.1L42.4 108.1L42.2 108.1L42.0 108.2L41.8 108.3L41.7 108.3L41.5 108.3L41.2 108.4L41.0 108.6Z" stroke="#941c94"/>
</g>
<rect x="28.00" y="7.70" width="156.30" height="111.20" fill="none" stroke="#707070" stroke-width="1"/>
<line x1="41.32" y1="118.90" x2="41.32" y2="121.10" stroke="#707070" stroke-width="0.8"/>
<text x="41.32" y="128.22" font-size="6.00" font-weight="bold" text-anchor="middle" >−0.6</text>
<line x1="67.28" y1="118.90" x2="67.28" y2="121.10" stroke="#707070" stroke-width="0.8"/>
<text x="67.28" y="128.22" font-size="6.00" font-weight="bold" text-anchor="middle" >−0.4</text>
<line x1="93.24" y1="118.90" x2="93.24" y2="121.10" stroke="#707070" stroke-width="0.8"/>
<text x="93.24" y="128.22" font-size="6.00" font-weight="bold" text-anchor="middle" >−0.2</text>
<line x1="119.20" y1="118.90" x2="119.20" y2="121.10" stroke="#707070" stroke-width="0.8"/>
<text x="119.20" y="128.22" font-size="6.00" font-weight="bold" text-anchor="middle" >0.0</text>
<line x1="145.16" y1="118.90" x2="145.16" y2="121.10" stroke="#707070" stroke-width="0.8"/>
<text x="145.16" y="128.22" font-size="6.00" font-weight="bold" text-anchor="middle" >0.2</text>
<line x1="171.12" y1="118.90" x2="171.12" y2="121.10" stroke="#707070" stroke-width="0.8"/>
<text x="171.12" y="128.22" font-size="6.00" font-weight="bold" text-anchor="middle" >0.4</text>
<line x1="28.00" y1="8.00" x2="25.80" y2="8.00" stroke="#707070" stroke-width="0.8"/>
<text x="23.60" y="10.52" font-size="6.00" font-weight="bold" text-anchor="end" >2.5</text>
<line x1="28.00" y1="42.50" x2="25.80" y2="42.50" stroke="#707070" stroke-width="0.8"/>
<text x="23.60" y="45.02" font-size="6.00" font-weight="bold" text-anchor="end" >1.5</text>
<line x1="28.00" y1="77.00" x2="25.80" y2="77.00" stroke="#707070" stroke-width="0.8"/>
<text x="23.60" y="79.52" font-size="6.00" font-weight="bold" text-anchor="end" >0.5</text>
<line x1="28.00" y1="111.50" x2="25.80" y2="111.50" stroke="#707070" stroke-width="0.8"/>
<text x="23.60" y="114.02" font-size="6.00" font-weight="bold" text-anchor="end" >−0.5</text>
<text x="106.20" y="138.20" font-size="6.45" font-weight="bold" text-anchor="middle" >Potential (V vs.SCE)</text>
<text x="0.00" y="0.00" font-size="6.50" font-weight="bold" text-anchor="middle" transform="translate(11.0,61.4) rotate(-90)">Current (mA)</text>
<text x="61.60" y="23.50" font-size="5.50" font-weight="bold" text-anchor="middle" >4.0 mM AA</text>
<text x="62.60" y="48.40" font-size="5.50" font-weight="bold" text-anchor="middle" >0.01 mM AA</text>
<line x1="61.5" y1="29" x2="61.5" y2="40.5" stroke="#000" stroke-width="0.6"/>
<path d="M61.5 26.2 L62.5 29.6 L60.5 29.6Z" fill="#000"/>
<text x="3.80" y="14.30" font-size="16.00" font-weight="normal" text-anchor="start" style="stroke-width:0.4px">a</text>
<g fill="none" stroke-width="1.20" stroke-linejoin="round">
<path d="M223.6 72.8L223.8 72.5L224.1 72.4L224.3 72.3L224.3 72.3L224.6 72.3L224.8 72.2L225.0 72.1L225.1 72.1L225.7 71.7L226.4 71.3L227.1 71.0L227.8 70.7L228.5 70.4L229.2 70.2L229.9 69.9L230.6 69.8L231.3 69.6L232.0 69.4L232.7 69.3L233.4 69.2L234.1 69.1L234.8 68.9L235.5 68.8L236.2 68.7L236.9 68.6L237.6 68.4L238.3 68.3L239.0 68.3L239.7 68.2L240.4 68.2L241.1 68.3L241.8 68.3L242.5 68.4L243.2 68.5L243.9 68.6L244.6 68.8L245.3 68.9L246.0 69.0L246.7 69.2L247.4 69.3L248.1 69.4L248.8 69.4L249.5 69.5L250.2 69.5L250.9 69.5L251.6 69.5L252.3 69.4L253.0 69.4L253.7 69.4L254.4 69.3L255.1 69.3L255.8 69.2L256.5 69.1L257.2 69.1L257.9 69.0L258.6 68.9L259.3 68.8L260.0 68.6L260.7 68.5L261.4 68.3L262.1 68.2L262.8 68.0L263.5 67.8L264.2 67.7L264.9 67.6L265.6 67.7L266.3 67.8L267.0 67.9L267.7 68.0L268.4 68.1L269.1 68.2L269.8 68.3L270.5 68.3L271.2 68.4L271.9 68.4L272.6 68.4L273.3 68.4L274.0 68.4L274.7 68.4L275.4 68.4L276.1 68.4L276.8 68.4L277.5 68.4L278.2 68.4L278.9 68.4L279.6 68.4L280.3 68.4L281.0 68.4L281.7 68.4L282.4 68.4L283.1 68.4L283.8 68.4L284.5 68.4L285.2 68.4L285.9 68.4L286.6 68.4L287.3 68.4L288.0 68.4L288.7 68.4L289.4 68.4L290.1 68.4L290.8 68.4L291.5 68.4L292.2 68.4L292.9 68.4L293.6 68.3L294.3 68.3L295.0 68.3L295.7 68.3L296.4 68.3L297.1 68.3L297.8 68.3L298.5 68.3L299.2 68.3L299.9 68.3L300.6 68.3L301.3 68.3L302.0 68.3L302.7 68.3L303.4 68.3L304.1 68.3L304.8 68.3L305.5 68.2L306.2 68.2L306.9 68.2L307.6 68.2L308.3 68.2L309.0 68.2L309.7 68.2L310.4 68.2L311.1 68.2L311.8 68.2L312.5 68.1L313.2 68.1L313.9 68.1L314.6 68.1L315.3 68.1L316.0 68.1L316.7 68.1L317.4 68.1L318.1 68.0L318.8 68.0L319.5 68.0L320.2 68.0L320.9 68.0L321.6 68.0L322.3 67.9L323.0 67.9L323.7 67.9L324.4 67.8L325.1 67.8L325.8 67.8L326.5 67.8L327.2 67.7L327.9 67.7L328.6 67.7L329.3 67.7L330.0 67.7L330.7 67.7L331.4 67.7L332.1 67.7L332.8 67.7L333.5 67.7L334.2 67.7L334.9 67.7L335.6 67.7L336.3 67.8L337.0 67.8L337.7 67.8L338.4 67.8L339.1 67.8L339.8 67.8L340.5 67.8L341.2 67.8L341.9 67.8L342.6 67.8L343.3 67.8L344.0 67.9L344.7 67.9L345.4 67.9L346.1 67.9L346.8 67.9L347.5 67.9L348.2 67.9L348.9 67.9L349.6 67.9L350.3 67.9L351.0 68.0L351.7 68.0L352.1 68.0L352.4 68.0L352.4 68.0L352.6 68.0L352.9 68.0L353.1 68.0L353.1 68.0L353.4 68.0L353.6 68.0L353.6 69.5L353.4 69.6L353.1 69.6L353.1 69.6L352.9 69.7L352.6 69.8L352.4 69.8L352.4 69.8L352.1 69.9L351.7 70.0L351.0 70.2L350.3 70.3L349.6 70.3L348.9 70.4L348.2 70.4L347.5 70.5L346.8 70.5L346.1 70.5L345.4 70.6L344.7 70.6L344.0 70.6L343.3 70.7L342.6 70.7L341.9 70.7L341.2 70.7L340.5 70.8L339.8 70.8L339.1 70.8L338.4 70.8L337.7 70.8L337.0 70.8L336.3 70.9L335.6 70.9L334.9 70.9L334.2 70.9L333.5 70.9L332.8 70.9L332.1 71.0L331.4 71.0L330.7 71.0L330.0 71.0L329.3 71.0L328.6 71.0L327.9 71.0L327.2 71.1L326.5 71.1L325.8 71.1L325.1 71.1L324.4 71.1L323.7 71.1L323.0 71.1L322.3 71.1L321.6 71.2L320.9 71.2L320.2 71.2L319.5 71.2L318.8 71.2L318.1 71.2L317.4 71.2L316.7 71.2L316.0 71.2L315.3 71.2L314.6 71.3L313.9 71.3L313.2 71.3L312.5 71.3L311.8 71.3L311.1 71.3L310.4 71.3L309.7 71.3L309.0 71.3L308.3 71.3L307.6 71.4L306.9 71.4L306.2 71.4L305.5 71.4L304.8 71.4L304.1 71.4L303.4 71.4L302.7 71.4L302.0 71.5L301.3 71.5L300.6 71.5L299.9 71.5L299.2 71.5L298.5 71.5L297.8 71.6L297.1 71.6L296.4 71.6L295.7 71.6L295.0 71.7L294.3 71.7L293.6 71.7L292.9 71.7L292.2 71.8L291.5 71.8L290.8 71.8L290.1 71.9L289.4 71.9L288.7 71.9L288.0 71.9L287.3 72.0L286.6 72.0L285.9 72.0L285.2 72.1L284.5 72.1L283.8 72.1L283.1 72.2L282.4 72.2L281.7 72.2L281.0 72.3L280.3 72.3L279.6 72.3L278.9 72.3L278.2 72.4L277.5 72.4L276.8 72.4L276.1 72.4L275.4 72.5L274.7 72.5L274.0 72.5L273.3 72.5L272.6 72.6L271.9 72.6L271.2 72.6L270.5 72.7L269.8 72.7L269.1 72.8L268.4 72.8L267.7 72.8L267.0 72.9L266.3 72.9L265.6 73.0L264.9 73.0L264.2 73.1L263.5 73.2L262.8 73.2L262.1 73.3L261.4 73.4L260.7 73.5L260.0 73.6L259.3 73.7L258.6 73.7L257.9 73.6L257.2 73.5L256.5 73.4L255.8 73.3L255.1 73.3L254.4 73.2L253.7 73.2L253.0 73.2L252.3 73.1L251.6 73.1L250.9 73.1L250.2 73.1L249.5 73.1L248.8 73.1L248.1 73.1L247.4 73.1L246.7 73.1L246.0 73.1L245.3 73.0L244.6 73.0L243.9 73.0L243.2 73.0L242.5 73.0L241.8 73.0L241.1 73.0L240.4 73.0L239.7 73.0L239.0 73.0L238.3 73.0L237.6 73.0L236.9 73.0L236.2 73.0L235.5 72.9L234.8 72.9L234.1 72.9L233.4 72.9L232.7 72.9L232.0 72.9L231.3 72.9L230.6 72.9L229.9 72.9L229.2 72.9L228.5 72.9L227.8 72.9L227.1 72.8L226.4 72.8L225.7 72.8L225.1 72.8L225.0 72.8L224.8 72.8L224.6 72.8L224.3 72.8L224.3 72.8L224.1 72.8L223.8 72.8L223.6 72.8Z" stroke="#000000"/>
<path d="M223.6 72.9L223.8 72.6L224.1 72.4L224.3 72.4L224.3 72.4L224.6 72.3L224.8 72.2L225.0 72.1L225.1 72.1L225.7 71.7L226.4 71.4L227.1 71.0L227.8 70.7L228.5 70.4L229.2 70.2L229.9 69.9L230.6 69.8L231.3 69.6L232.0 69.4L232.7 69.3L233.4 69.2L234.1 69.1L234.8 68.9L235.5 68.8L236.2 68.7L236.9 68.6L237.6 68.4L238.3 68.3L239.0 68.3L239.7 68.2L240.4 68.2L241.1 68.3L241.8 68.4L242.5 68.6L243.2 68.8L243.9 69.0L244.6 69.2L245.3 69.4L246.0 69.5L246.7 69.7L247.4 69.8L248.1 69.8L248.8 69.8L249.5 69.8L250.2 69.7L250.9 69.7L251.6 69.6L252.3 69.6L253.0 69.5L253.7 69.4L254.4 69.4L255.1 69.3L255.8 69.2L256.5 69.1L257.2 69.0L257.9 68.9L258.6 68.8L259.3 68.7L260.0 68.5L260.7 68.2L261.4 67.9L262.1 67.5L262.8 67.2L263.5 66.9L264.2 66.8L264.9 66.7L265.6 66.7L266.3 66.8L267.0 67.0L267.7 67.1L268.4 67.3L269.1 67.4L269.8 67.5L270.5 67.5L271.2 67.5L271.9 67.6L272.6 67.6L273.3 67.6L274.0 67.6L274.7 67.6L275.4 67.7L276.1 67.7L276.8 67.7L277.5 67.7L278.2 67.7L278.9 67.7L279.6 67.7L280.3 67.7L281.0 67.7L281.7 67.7L282.4 67.7L283.1 67.7L283.8 67.7L284.5 67.7L285.2 67.7L285.9 67.7L286.6 67.7L287.3 67.7L288.0 67.7L288.7 67.7L289.4 67.7L290.1 67.7L290.8 67.7L291.5 67.7L292.2 67.7L292.9 67.7L293.6 67.7L294.3 67.7L295.0 67.7L295.7 67.7L296.4 67.7L297.1 67.7L297.8 67.7L298.5 67.7L299.2 67.8L299.9 67.8L300.6 67.8L301.3 67.8L302.0 67.8L302.7 67.8L303.4 67.8L304.1 67.8L304.8 67.8L305.5 67.8L306.2 67.8L306.9 67.8L307.6 67.8L308.3 67.8L309.0 67.8L309.7 67.8L310.4 67.8L311.1 67.8L311.8 67.8L312.5 67.8L313.2 67.8L313.9 67.8L314.6 67.8L315.3 67.8L316.0 67.8L316.7 67.8L317.4 67.8L318.1 67.8L318.8 67.8L319.5 67.8L320.2 67.8L320.9 67.8L321.6 67.8L322.3 67.8L323.0 67.8L323.7 67.8L324.4 67.8L325.1 67.8L325.8 67.8L326.5 67.8L327.2 67.8L327.9 67.8L328.6 67.8L329.3 67.8L330.0 67.8L330.7 67.8L331.4 67.8L332.1 67.8L332.8 67.8L333.5 67.8L334.2 67.8L334.9 67.8L335.6 67.8L336.3 67.8L337.0 67.8L337.7 67.8L338.4 67.8L339.1 67.8L339.8 67.8L340.5 67.8L341.2 67.8L341.9 67.8L342.6 67.8L343.3 67.8L344.0 67.8L344.7 67.8L345.4 67.8L346.1 67.8L346.8 67.8L347.5 67.8L348.2 67.8L348.9 67.8L349.6 67.8L350.3 67.8L351.0 67.8L351.7 67.8L352.1 67.8L352.4 67.8L352.4 67.8L352.6 67.8L352.9 67.8L353.1 67.8L353.1 67.8L353.4 67.8L353.6 67.8L353.6 69.3L353.4 69.4L353.1 69.5L353.1 69.5L352.9 69.5L352.6 69.6L352.4 69.7L352.4 69.7L352.1 69.7L351.7 69.8L351.0 70.0L350.3 70.1L349.6 70.2L348.9 70.2L348.2 70.3L347.5 70.3L346.8 70.3L346.1 70.4L345.4 70.4L344.7 70.5L344.0 70.5L343.3 70.5L342.6 70.6L341.9 70.6L341.2 70.6L340.5 70.6L339.8 70.7L339.1 70.7L338.4 70.7L337.7 70.7L337.0 70.8L336.3 70.8L335.6 70.8L334.9 70.8L334.2 70.8L333.5 70.9L332.8 70.9L332.1 70.9L331.4 70.9L330.7 70.9L330.0 71.0L329.3 71.0L328.6 71.0L327.9 71.0L327.2 71.0L326.5 71.1L325.8 71.1L325.1 71.1L324.4 71.1L323.7 71.1L323.0 71.2L322.3 71.2L321.6 71.2L320.9 71.2L320.2 71.2L319.5 71.2L318.8 71.2L318.1 71.3L317.4 71.3L316.7 71.3L316.0 71.3L315.3 71.3L314.6 71.3L313.9 71.3L313.2 71.4L312.5 71.4L311.8 71.4L311.1 71.4L310.4 71.4L309.7 71.4L309.0 71.4L308.3 71.5L307.6 71.5L306.9 71.5L306.2 71.5L305.5 71.5L304.8 71.5L304.1 71.5L303.4 71.6L302.7 71.6L302.0 71.6L301.3 71.6L300.6 71.6L299.9 71.7L299.2 71.7L298.5 71.7L297.8 71.7L297.1 71.8L296.4 71.8L295.7 71.8L295.0 71.8L294.3 71.9L293.6 71.9L292.9 71.9L292.2 72.0L291.5 72.0L290.8 72.0L290.1 72.1L289.4 72.1L288.7 72.1L288.0 72.2L287.3 72.2L286.6 72.3L285.9 72.3L285.2 72.3L284.5 72.4L283.8 72.4L283.1 72.5L282.4 72.5L281.7 72.5L281.0 72.6L280.3 72.6L279.6 72.6L278.9 72.7L278.2 72.7L277.5 72.7L276.8 72.8L276.1 72.8L275.4 72.8L274.7 72.9L274.0 72.9L273.3 72.9L272.6 73.0L271.9 73.0L271.2 73.1L270.5 73.1L269.8 73.2L269.1 73.2L268.4 73.3L267.7 73.3L267.0 73.4L266.3 73.5L265.6 73.5L264.9 73.6L264.2 73.7L263.5 73.7L262.8 73.8L262.1 73.9L261.4 74.0L260.7 74.2L260.0 74.3L259.3 74.3L258.6 74.3L257.9 74.2L257.2 74.1L256.5 74.0L255.8 73.9L255.1 73.8L254.4 73.7L253.7 73.6L253.0 73.6L252.3 73.5L251.6 73.5L250.9 73.4L250.2 73.4L249.5 73.4L248.8 73.3L248.1 73.3L247.4 73.3L246.7 73.3L246.0 73.2L245.3 73.2L244.6 73.2L243.9 73.2L243.2 73.2L242.5 73.2L241.8 73.1L241.1 73.1L240.4 73.1L239.7 73.1L239.0 73.1L238.3 73.1L237.6 73.1L236.9 73.1L236.2 73.0L235.5 73.0L234.8 73.0L234.1 73.0L233.4 73.0L232.7 73.0L232.0 73.0L231.3 73.0L230.6 73.0L229.9 73.0L229.2 73.0L228.5 73.0L227.8 72.9L227.1 72.9L226.4 72.9L225.7 72.9L225.1 72.9L225.0 72.9L224.8 72.9L224.6 72.9L224.3 72.9L224.3 72.9L224.1 72.9L223.8 72.9L223.6 72.9Z" stroke="#ff0000"/>
<path d="M223.6 73.1L223.8 72.7L224.1 72.5L224.3 72.5L224.3 72.4L224.6 72.3L224.8 72.2L225.0 72.2L225.1 72.1L225.7 71.7L226.4 71.4L227.1 71.0L227.8 70.7L228.5 70.4L229.2 70.2L229.9 69.9L230.6 69.8L231.3 69.6L232.0 69.4L232.7 69.3L233.4 69.2L234.1 69.1L234.8 68.9L235.5 68.8L236.2 68.7L236.9 68.6L237.6 68.4L238.3 68.3L239.0 68.3L239.7 68.2L240.4 68.2L241.1 68.3L241.8 68.4L242.5 68.6L243.2 68.7L243.9 68.9L244.6 69.1L245.3 69.3L246.0 69.5L246.7 69.6L247.4 69.7L248.1 69.7L248.8 69.7L249.5 69.7L250.2 69.6L250.9 69.6L251.6 69.5L252.3 69.5L253.0 69.4L253.7 69.3L254.4 69.3L255.1 69.2L255.8 69.1L256.5 69.0L257.2 68.9L257.9 68.7L258.6 68.6L259.3 68.4L260.0 68.2L260.7 67.9L261.4 67.5L262.1 67.1L262.8 66.7L263.5 66.4L264.2 66.1L264.9 66.0L265.6 66.0L266.3 66.1L267.0 66.3L267.7 66.5L268.4 66.6L269.1 66.8L269.8 66.9L270.5 66.9L271.2 67.0L271.9 67.0L272.6 67.0L273.3 67.1L274.0 67.1L274.7 67.1L275.4 67.1L276.1 67.2L276.8 67.2L277.5 67.2L278.2 67.2L278.9 67.2L279.6 67.2L280.3 67.2L281.0 67.2L281.7 67.2L282.4 67.2L283.1 67.2L283.8 67.2L284.5 67.2L285.2 67.2L285.9 67.2L286.6 67.2L287.3 67.2L288.0 67.2L288.7 67.2L289.4 67.2L290.1 67.2L290.8 67.2L291.5 67.2L292.2 67.2L292.9 67.2L293.6 67.1L294.3 67.1L295.0 67.1L295.7 67.1L296.4 67.1L297.1 67.1L297.8 67.1L298.5 67.1L299.2 67.1L299.9 67.1L300.6 67.1L301.3 67.1L302.0 67.1L302.7 67.1L303.4 67.1L304.1 67.1L304.8 67.1L305.5 67.1L306.2 67.1L306.9 67.1L307.6 67.0L308.3 67.0L309.0 67.0L309.7 67.0L310.4 67.0L311.1 67.0L311.8 67.0L312.5 67.0L313.2 67.0L313.9 67.0L314.6 67.0L315.3 67.0L316.0 67.0L316.7 67.0L317.4 67.0L318.1 67.0L318.8 67.0L319.5 67.0L320.2 67.0L320.9 67.0L321.6 67.0L322.3 67.0L323.0 67.0L323.7 67.0L324.4 67.0L325.1 67.0L325.8 67.0L326.5 67.0L327.2 67.0L327.9 67.0L328.6 67.0L329.3 67.0L330.0 67.0L330.7 67.1L331.4 67.1L332.1 67.1L332.8 67.1L333.5 67.1L334.2 67.1L334.9 67.1L335.6 67.1L336.3 67.1L337.0 67.1L337.7 67.1L338.4 67.1L339.1 67.1L339.8 67.2L340.5 67.2L341.2 67.2L341.9 67.2L342.6 67.2L343.3 67.2L344.0 67.2L344.7 67.2L345.4 67.2L346.1 67.3L346.8 67.3L347.5 67.3L348.2 67.3L348.9 67.3L349.6 67.3L350.3 67.3L351.0 67.3L351.7 67.4L352.1 67.4L352.4 67.4L352.4 67.4L352.6 67.4L352.9 67.4L353.1 67.4L353.1 67.4L353.4 67.4L353.6 67.4L353.6 68.9L353.4 69.0L353.1 69.1L353.1 69.1L352.9 69.2L352.6 69.2L352.4 69.3L352.4 69.3L352.1 69.4L351.7 69.5L351.0 69.6L350.3 69.8L349.6 69.8L348.9 69.9L348.2 69.9L347.5 70.0L346.8 70.0L346.1 70.1L345.4 70.1L344.7 70.2L344.0 70.2L343.3 70.2L342.6 70.3L341.9 70.3L341.2 70.4L340.5 70.4L339.8 70.4L339.1 70.5L338.4 70.5L337.7 70.5L337.0 70.6L336.3 70.6L335.6 70.6L334.9 70.7L334.2 70.7L333.5 70.7L332.8 70.7L332.1 70.8L331.4 70.8L330.7 70.8L330.0 70.8L329.3 70.9L328.6 70.9L327.9 71.0L327.2 71.0L326.5 71.0L325.8 71.1L325.1 71.1L324.4 71.1L323.7 71.2L323.0 71.2L322.3 71.2L321.6 71.3L320.9 71.3L320.2 71.3L319.5 71.3L318.8 71.4L318.1 71.4L317.4 71.4L316.7 71.4L316.0 71.5L315.3 71.5L314.6 71.5L313.9 71.5L313.2 71.5L312.5 71.6L311.8 71.6L311.1 71.6L310.4 71.6L309.7 71.7L309.0 71.7L308.3 71.7L307.6 71.7L306.9 71.7L306.2 71.8L305.5 71.8L304.8 71.8L304.1 71.8L303.4 71.9L302.7 71.9L302.0 71.9L301.3 71.9L300.6 72.0L299.9 72.0L299.2 72.0L298.5 72.1L297.8 72.1L297.1 72.1L296.4 72.2L295.7 72.2L295.0 72.2L294.3 72.3L293.6 72.3L292.9 72.4L292.2 72.4L291.5 72.5L290.8 72.5L290.1 72.5L289.4 72.6L288.7 72.6L288.0 72.7L287.3 72.7L286.6 72.8L285.9 72.8L285.2 72.9L284.5 72.9L283.8 73.0L283.1 73.1L282.4 73.1L281.7 73.2L281.0 73.2L280.3 73.3L279.6 73.3L278.9 73.4L278.2 73.4L277.5 73.5L276.8 73.5L276.1 73.6L275.4 73.6L274.7 73.7L274.0 73.7L273.3 73.8L272.6 73.9L271.9 73.9L271.2 74.0L270.5 74.1L269.8 74.1L269.1 74.2L268.4 74.3L267.7 74.4L267.0 74.5L266.3 74.6L265.6 74.7L264.9 74.8L264.2 74.9L263.5 75.0L262.8 75.1L262.1 75.3L261.4 75.5L260.7 75.6L260.0 75.7L259.3 75.8L258.6 75.7L257.9 75.6L257.2 75.4L256.5 75.2L255.8 75.0L255.1 74.9L254.4 74.7L253.7 74.6L253.0 74.5L252.3 74.3L251.6 74.2L250.9 74.1L250.2 74.1L249.5 74.0L248.8 73.9L248.1 73.8L247.4 73.8L246.7 73.7L246.0 73.6L245.3 73.6L244.6 73.5L243.9 73.5L243.2 73.5L242.5 73.4L241.8 73.4L241.1 73.4L240.4 73.3L239.7 73.3L239.0 73.3L238.3 73.3L237.6 73.3L236.9 73.2L236.2 73.2L235.5 73.2L234.8 73.2L234.1 73.2L233.4 73.2L232.7 73.2L232.0 73.2L231.3 73.2L230.6 73.2L229.9 73.2L229.2 73.1L228.5 73.1L227.8 73.1L227.1 73.1L226.4 73.1L225.7 73.1L225.1 73.1L225.0 73.1L224.8 73.1L224.6 73.1L224.3 73.1L224.3 73.1L224.1 73.1L223.8 73.1L223.6 73.1Z" stroke="#00ff00"/>
<path d="M223.6 73.4L223.8 73.0L224.1 72.7L224.3 72.6L224.3 72.6L224.6 72.5L224.8 72.3L225.0 72.2L225.1 72.2L225.7 71.8L226.4 71.4L227.1 71.0L227.8 70.7L228.5 70.4L229.2 70.2L229.9 69.9L230.6 69.8L231.3 69.6L232.0 69.4L232.7 69.3L233.4 69.2L234.1 69.1L234.8 68.9L235.5 68.8L236.2 68.7L236.9 68.6L237.6 68.4L238.3 68.3L239.0 68.3L239.7 68.2L240.4 68.2L241.1 68.3L241.8 68.4L242.5 68.5L243.2 68.7L243.9 68.9L244.6 69.1L245.3 69.2L246.0 69.4L246.7 69.5L247.4 69.6L248.1 69.6L248.8 69.6L249.5 69.6L250.2 69.5L250.9 69.5L251.6 69.4L252.3 69.3L253.0 69.3L253.7 69.2L254.4 69.1L255.1 69.0L255.8 68.9L256.5 68.7L257.2 68.6L257.9 68.4L258.6 68.1L259.3 67.9L260.0 67.5L260.7 67.1L261.4 66.6L262.1 66.1L262.8 65.4L263.5 64.8L264.2 64.2L264.9 63.9L265.6 63.7L266.3 63.8L267.0 64.1L267.7 64.5L268.4 64.9L269.1 65.3L269.8 65.6L270.5 65.8L271.2 66.0L271.9 66.1L272.6 66.1L273.3 66.2L274.0 66.2L274.7 66.3L275.4 66.3L276.1 66.3L276.8 66.3L277.5 66.4L278.2 66.4L278.9 66.4L279.6 66.4L280.3 66.4L281.0 66.4L281.7 66.4L282.4 66.4L283.1 66.4L283.8 66.4L284.5 66.4L285.2 66.4L285.9 66.4L286.6 66.4L287.3 66.4L288.0 66.4L288.7 66.4L289.4 66.4L290.1 66.4L290.8 66.4L291.5 66.4L292.2 66.4L292.9 66.4L293.6 66.3L294.3 66.3L295.0 66.3L295.7 66.3L296.4 66.3L297.1 66.3L297.8 66.3L298.5 66.3L299.2 66.3L299.9 66.3L300.6 66.3L301.3 66.3L302.0 66.3L302.7 66.3L303.4 66.3L304.1 66.3L304.8 66.3L305.5 66.3L306.2 66.2L306.9 66.2L307.6 66.2L308.3 66.2L309.0 66.2L309.7 66.2L310.4 66.2L311.1 66.2L311.8 66.2L312.5 66.2L313.2 66.2L313.9 66.1L314.6 66.1L315.3 66.1L316.0 66.1L316.7 66.1L317.4 66.1L318.1 66.0L318.8 66.0L319.5 66.0L320.2 66.0L320.9 66.0L321.6 65.9L322.3 65.8L323.0 65.8L323.7 65.7L324.4 65.7L325.1 65.6L325.8 65.6L326.5 65.6L327.2 65.6L327.9 65.7L328.6 65.7L329.3 65.7L330.0 65.8L330.7 65.8L331.4 65.9L332.1 65.9L332.8 65.9L333.5 66.0L334.2 66.0L334.9 66.1L335.6 66.1L336.3 66.2L337.0 66.2L337.7 66.3L338.4 66.3L339.1 66.4L339.8 66.4L340.5 66.4L341.2 66.4L341.9 66.5L342.6 66.5L343.3 66.5L344.0 66.6L344.7 66.6L345.4 66.6L346.1 66.6L346.8 66.7L347.5 66.7L348.2 66.7L348.9 66.7L349.6 66.7L350.3 66.7L351.0 66.8L351.7 66.8L352.1 66.8L352.4 66.8L352.4 66.8L352.6 66.8L352.9 66.8L353.1 66.8L353.1 66.8L353.4 66.8L353.6 66.8L353.6 68.2L353.4 68.3L353.1 68.4L353.1 68.4L352.9 68.5L352.6 68.6L352.4 68.7L352.4 68.7L352.1 68.8L351.7 68.9L351.0 69.0L350.3 69.2L349.6 69.2L348.9 69.3L348.2 69.4L347.5 69.4L346.8 69.5L346.1 69.5L345.4 69.6L344.7 69.6L344.0 69.7L343.3 69.7L342.6 69.8L341.9 69.9L341.2 69.9L340.5 70.0L339.8 70.0L339.1 70.1L338.4 70.2L337.7 70.2L337.0 70.3L336.3 70.3L335.6 70.3L334.9 70.4L334.2 70.4L333.5 70.5L332.8 70.5L332.1 70.5L331.4 70.6L330.7 70.6L330.0 70.7L329.3 70.7L328.6 70.8L327.9 70.8L327.2 70.9L326.5 71.0L325.8 71.0L325.1 71.1L324.4 71.2L323.7 71.2L323.0 71.3L322.3 71.3L321.6 71.4L320.9 71.4L320.2 71.5L319.5 71.5L318.8 71.6L318.1 71.6L317.4 71.6L316.7 71.7L316.0 71.7L315.3 71.8L314.6 71.8L313.9 71.8L313.2 71.9L312.5 71.9L311.8 71.9L311.1 72.0L310.4 72.0L309.7 72.0L309.0 72.1L308.3 72.1L307.6 72.1L306.9 72.2L306.2 72.2L305.5 72.2L304.8 72.3L304.1 72.3L303.4 72.4L302.7 72.4L302.0 72.4L301.3 72.5L300.6 72.5L299.9 72.6L299.2 72.6L298.5 72.7L297.8 72.7L297.1 72.8L296.4 72.8L295.7 72.9L295.0 72.9L294.3 73.0L293.6 73.0L292.9 73.1L292.2 73.2L291.5 73.2L290.8 73.3L290.1 73.4L289.4 73.4L288.7 73.5L288.0 73.6L287.3 73.6L286.6 73.7L285.9 73.8L285.2 73.9L284.5 73.9L283.8 74.0L283.1 74.1L282.4 74.2L281.7 74.3L281.0 74.3L280.3 74.4L279.6 74.5L278.9 74.6L278.2 74.7L277.5 74.8L276.8 74.8L276.1 74.9L275.4 75.0L274.7 75.1L274.0 75.2L273.3 75.3L272.6 75.4L271.9 75.5L271.2 75.6L270.5 75.7L269.8 75.8L269.1 76.0L268.4 76.1L267.7 76.2L267.0 76.4L266.3 76.5L265.6 76.6L264.9 76.8L264.2 77.0L263.5 77.2L262.8 77.4L262.1 77.7L261.4 77.9L260.7 78.1L260.0 78.3L259.3 78.3L258.6 78.2L257.9 78.0L257.2 77.7L256.5 77.4L255.8 77.1L255.1 76.8L254.4 76.5L253.7 76.2L253.0 76.0L252.3 75.7L251.6 75.5L250.9 75.3L250.2 75.2L249.5 75.0L248.8 74.9L248.1 74.7L247.4 74.6L246.7 74.5L246.0 74.4L245.3 74.2L244.6 74.2L243.9 74.1L243.2 74.0L242.5 73.9L241.8 73.9L241.1 73.8L240.4 73.7L239.7 73.7L239.0 73.7L238.3 73.6L237.6 73.6L236.9 73.6L236.2 73.6L235.5 73.5L234.8 73.5L234.1 73.5L233.4 73.5L232.7 73.5L232.0 73.5L231.3 73.5L230.6 73.5L229.9 73.5L229.2 73.5L228.5 73.5L227.8 73.5L227.1 73.4L226.4 73.4L225.7 73.4L225.1 73.4L225.0 73.4L224.8 73.4L224.6 73.4L224.3 73.4L224.3 73.4L224.1 73.4L223.8 73.4L223.6 73.4Z" stroke="#0000ff"/>
<path d="M223.6 74.1L223.8 73.4L224.1 73.0L224.3 72.9L224.3 72.8L224.6 72.7L224.8 72.5L225.0 72.4L225.1 72.3L225.7 71.8L226.4 71.4L227.1 71.0L227.8 70.7L228.5 70.4L229.2 70.2L229.9 69.9L230.6 69.8L231.3 69.6L232.0 69.4L232.7 69.3L233.4 69.2L234.1 69.1L234.8 68.9L235.5 68.8L236.2 68.7L236.9 68.6L237.6 68.4L238.3 68.3L239.0 68.3L239.7 68.2L240.4 68.2L241.1 68.3L241.8 68.4L242.5 68.5L243.2 68.6L243.9 68.7L244.6 68.9L245.3 69.0L246.0 69.1L246.7 69.2L247.4 69.3L248.1 69.3L248.8 69.3L249.5 69.2L250.2 69.2L250.9 69.1L251.6 69.0L252.3 68.8L253.0 68.7L253.7 68.6L254.4 68.4L255.1 68.3L255.8 68.1L256.5 67.9L257.2 67.6L257.9 67.3L258.6 67.0L259.3 66.6L260.0 66.0L260.7 65.3L261.4 64.5L262.1 63.6L262.8 62.7L263.5 61.6L264.2 60.6L264.9 59.8L265.6 59.0L266.3 58.5L267.0 58.1L267.7 58.0L268.4 58.1L269.1 58.5L269.8 59.1L270.5 59.8L271.2 60.5L271.9 61.1L272.6 61.7L273.3 62.3L274.0 62.7L274.7 63.0L275.4 63.2L276.1 63.4L276.8 63.6L277.5 63.7L278.2 63.8L278.9 63.9L279.6 64.0L280.3 64.0L281.0 64.0L281.7 64.1L282.4 64.1L283.1 64.1L283.8 64.1L284.5 64.1L285.2 64.2L285.9 64.2L286.6 64.2L287.3 64.2L288.0 64.2L288.7 64.2L289.4 64.2L290.1 64.2L290.8 64.2L291.5 64.2L292.2 64.2L292.9 64.2L293.6 64.2L294.3 64.2L295.0 64.2L295.7 64.2L296.4 64.2L297.1 64.2L297.8 64.2L298.5 64.2L299.2 64.2L299.9 64.2L300.6 64.2L301.3 64.2L302.0 64.2L302.7 64.2L303.4 64.2L304.1 64.2L304.8 64.1L305.5 64.1L306.2 64.1L306.9 64.1L307.6 64.1L308.3 64.1L309.0 64.0L309.7 64.0L310.4 64.0L311.1 64.0L311.8 63.9L312.5 63.9L313.2 63.9L313.9 63.8L314.6 63.8L315.3 63.7L316.0 63.7L316.7 63.6L317.4 63.6L318.1 63.5L318.8 63.4L319.5 63.3L320.2 63.1L320.9 63.0L321.6 62.9L322.3 62.7L323.0 62.6L323.7 62.5L324.4 62.4L325.1 62.3L325.8 62.3L326.5 62.4L327.2 62.5L327.9 62.6L328.6 62.7L329.3 62.8L330.0 63.0L330.7 63.2L331.4 63.3L332.1 63.4L332.8 63.5L333.5 63.6L334.2 63.7L334.9 63.8L335.6 63.8L336.3 63.9L337.0 63.9L337.7 64.0L338.4 64.0L339.1 64.0L339.8 64.1L340.5 64.1L341.2 64.1L341.9 64.1L342.6 64.1L343.3 64.1L344.0 64.1L344.7 64.2L345.4 64.2L346.1 64.2L346.8 64.2L347.5 64.3L348.2 64.3L348.9 64.4L349.6 64.4L350.3 64.5L351.0 64.5L351.7 64.6L352.1 64.6L352.4 64.7L352.4 64.7L352.6 64.7L352.9 64.7L353.1 64.7L353.1 64.7L353.4 64.8L353.6 64.8L353.6 66.8L353.4 67.0L353.1 67.1L353.1 67.1L352.9 67.2L352.6 67.4L352.4 67.5L352.4 67.5L352.1 67.6L351.7 67.7L351.0 67.8L350.3 68.0L349.6 68.0L348.9 68.1L348.2 68.2L347.5 68.3L346.8 68.3L346.1 68.4L345.4 68.5L344.7 68.5L344.0 68.6L343.3 68.7L342.6 68.8L341.9 68.9L341.2 69.0L340.5 69.2L339.8 69.3L339.1 69.4L338.4 69.4L337.7 69.5L337.0 69.6L336.3 69.7L335.6 69.7L334.9 69.8L334.2 69.9L333.5 69.9L332.8 70.0L332.1 70.1L331.4 70.1L330.7 70.2L330.0 70.3L329.3 70.4L328.6 70.5L327.9 70.6L327.2 70.7L326.5 70.9L325.8 71.0L325.1 71.1L324.4 71.2L323.7 71.3L323.0 71.5L322.3 71.6L321.6 71.6L320.9 71.7L320.2 71.8L319.5 71.9L318.8 72.0L318.1 72.0L317.4 72.1L316.7 72.2L316.0 72.2L315.3 72.3L314.6 72.4L313.9 72.4L313.2 72.5L312.5 72.6L311.8 72.6L311.1 72.7L310.4 72.8L309.7 72.8L309.0 72.9L308.3 72.9L307.6 73.0L306.9 73.1L306.2 73.1L305.5 73.2L304.8 73.2L304.1 73.3L303.4 73.4L302.7 73.4L302.0 73.5L301.3 73.6L300.6 73.6L299.9 73.7L299.2 73.8L298.5 73.9L297.8 74.0L297.1 74.0L296.4 74.1L295.7 74.2L295.0 74.3L294.3 74.4L293.6 74.5L292.9 74.6L292.2 74.7L291.5 74.8L290.8 74.9L290.1 75.0L289.4 75.1L288.7 75.2L288.0 75.3L287.3 75.4L286.6 75.6L285.9 75.7L285.2 75.8L284.5 75.9L283.8 76.1L283.1 76.2L282.4 76.3L281.7 76.5L281.0 76.6L280.3 76.7L279.6 76.9L278.9 77.0L278.2 77.2L277.5 77.3L276.8 77.5L276.1 77.6L275.4 77.8L274.7 77.9L274.0 78.1L273.3 78.3L272.6 78.4L271.9 78.6L271.2 78.8L270.5 79.0L269.8 79.2L269.1 79.4L268.4 79.7L267.7 79.9L267.0 80.1L266.3 80.3L265.6 80.6L264.9 80.9L264.2 81.2L263.5 81.5L262.8 82.0L262.1 82.4L261.4 82.8L260.7 83.1L260.0 83.3L259.3 83.3L258.6 83.1L257.9 82.8L257.2 82.4L256.5 81.8L255.8 81.2L255.1 80.6L254.4 80.0L253.7 79.5L253.0 79.0L252.3 78.6L251.6 78.1L250.9 77.8L250.2 77.4L249.5 77.1L248.8 76.8L248.1 76.5L247.4 76.2L246.7 76.0L246.0 75.8L245.3 75.6L244.6 75.4L243.9 75.2L243.2 75.0L242.5 74.9L241.8 74.8L241.1 74.6L240.4 74.6L239.7 74.5L239.0 74.4L238.3 74.3L237.6 74.3L236.9 74.2L236.2 74.2L235.5 74.2L234.8 74.2L234.1 74.2L233.4 74.1L232.7 74.1L232.0 74.1L231.3 74.1L230.6 74.1L229.9 74.1L229.2 74.1L228.5 74.1L227.8 74.1L227.1 74.1L226.4 74.1L225.7 74.1L225.1 74.1L225.0 74.1L224.8 74.1L224.6 74.1L224.3 74.1L224.3 74.1L224.1 74.1L223.8 74.1L223.6 74.1Z" stroke="#00ffff"/>
<path d="M223.6 75.1L223.8 74.1L224.1 73.5L224.3 73.3L224.3 73.2L224.6 73.0L224.8 72.7L225.0 72.6L225.1 72.5L225.7 71.9L226.4 71.4L227.1 71.0L227.8 70.7L228.5 70.4L229.2 70.2L229.9 69.9L230.6 69.8L231.3 69.6L232.0 69.4L232.7 69.3L233.4 69.2L234.1 69.1L234.8 68.9L235.5 68.8L236.2 68.7L236.9 68.6L237.6 68.4L238.3 68.3L239.0 68.3L239.7 68.2L240.4 68.2L241.1 68.3L241.8 68.3L242.5 68.4L243.2 68.5L243.9 68.6L244.6 68.7L245.3 68.9L246.0 69.0L246.7 69.0L247.4 69.1L248.1 69.1L248.8 69.1L249.5 69.0L250.2 68.9L250.9 68.9L251.6 68.7L252.3 68.6L253.0 68.5L253.7 68.4L254.4 68.2L255.1 68.1L255.8 67.9L256.5 67.8L257.2 67.6L257.9 67.4L258.6 67.2L259.3 67.0L260.0 66.7L260.7 66.2L261.4 65.7L262.1 65.0L262.8 64.2L263.5 63.3L264.2 62.3L264.9 61.2L265.6 60.1L266.3 59.0L267.0 57.8L267.7 56.8L268.4 56.1L269.1 55.8L269.8 55.8L270.5 56.2L271.2 56.9L271.9 57.8L272.6 58.7L273.3 59.6L274.0 60.3L274.7 60.9L275.4 61.4L276.1 61.7L276.8 62.0L277.5 62.2L278.2 62.3L278.9 62.5L279.6 62.6L280.3 62.6L281.0 62.6L281.7 62.7L282.4 62.7L283.1 62.7L283.8 62.7L284.5 62.7L285.2 62.8L285.9 62.8L286.6 62.8L287.3 62.8L288.0 62.8L288.7 62.8L289.4 62.8L290.1 62.8L290.8 62.8L291.5 62.8L292.2 62.8L292.9 62.8L293.6 62.8L294.3 62.8L295.0 62.8L295.7 62.8L296.4 62.8L297.1 62.8L297.8 62.8L298.5 62.8L299.2 62.8L299.9 62.8L300.6 62.8L301.3 62.8L302.0 62.8L302.7 62.7L303.4 62.7L304.1 62.7L304.8 62.6L305.5 62.6L306.2 62.5L306.9 62.5L307.6 62.4L308.3 62.4L309.0 62.3L309.7 62.2L310.4 62.2L311.1 62.1L311.8 62.0L312.5 61.9L313.2 61.7L313.9 61.6L314.6 61.4L315.3 61.3L316.0 61.1L316.7 60.9L317.4 60.8L318.1 60.6L318.8 60.4L319.5 60.1L320.2 59.9L320.9 59.6L321.6 59.3L322.3 59.1L323.0 58.8L323.7 58.6L324.4 58.4L325.1 58.3L325.8 58.3L326.5 58.3L327.2 58.4L327.9 58.4L328.6 58.5L329.3 58.7L330.0 58.9L330.7 59.2L331.4 59.5L332.1 59.7L332.8 60.0L333.5 60.2L334.2 60.4L334.9 60.7L335.6 60.9L336.3 61.1L337.0 61.3L337.7 61.4L338.4 61.6L339.1 61.7L339.8 61.8L340.5 61.9L341.2 62.1L341.9 62.2L342.6 62.2L343.3 62.3L344.0 62.4L344.7 62.5L345.4 62.5L346.1 62.6L346.8 62.6L347.5 62.7L348.2 62.8L348.9 62.8L349.6 62.8L350.3 62.9L351.0 62.9L351.7 63.0L352.1 63.0L352.4 63.0L352.4 63.0L352.6 63.0L352.9 63.0L353.1 63.0L353.1 63.0L353.4 63.0L353.6 63.0L353.6 65.8L353.4 66.0L353.1 66.3L353.1 66.3L352.9 66.5L352.6 66.6L352.4 66.7L352.4 66.8L352.1 66.9L351.7 67.0L351.0 67.2L350.3 67.4L349.6 67.5L348.9 67.6L348.2 67.7L347.5 67.8L346.8 67.9L346.1 68.0L345.4 68.1L344.7 68.1L344.0 68.2L343.3 68.4L342.6 68.5L341.9 68.6L341.2 68.7L340.5 68.8L339.8 69.0L339.1 69.1L338.4 69.2L337.7 69.3L337.0 69.4L336.3 69.6L335.6 69.7L334.9 69.8L334.2 69.9L333.5 70.0L332.8 70.1L332.1 70.2L331.4 70.3L330.7 70.4L330.0 70.6L329.3 70.7L328.6 70.8L327.9 70.9L327.2 71.1L326.5 71.2L325.8 71.3L325.1 71.5L324.4 71.6L323.7 71.7L323.0 71.9L322.3 72.0L321.6 72.1L320.9 72.2L320.2 72.3L319.5 72.4L318.8 72.5L318.1 72.6L317.4 72.7L316.7 72.8L316.0 72.9L315.3 72.9L314.6 73.0L313.9 73.1L313.2 73.2L312.5 73.3L311.8 73.4L311.1 73.5L310.4 73.6L309.7 73.7L309.0 73.7L308.3 73.8L307.6 73.9L306.9 74.0L306.2 74.1L305.5 74.2L304.8 74.3L304.1 74.4L303.4 74.4L302.7 74.5L302.0 74.6L301.3 74.7L300.6 74.8L299.9 74.9L299.2 75.0L298.5 75.1L297.8 75.1L297.1 75.2L296.4 75.3L295.7 75.4L295.0 75.5L294.3 75.6L293.6 75.7L292.9 75.8L292.2 75.9L291.5 76.0L290.8 76.1L290.1 76.2L289.4 76.3L288.7 76.4L288.0 76.5L287.3 76.7L286.6 76.8L285.9 76.9L285.2 77.0L284.5 77.2L283.8 77.3L283.1 77.4L282.4 77.6L281.7 77.7L281.0 77.9L280.3 78.0L279.6 78.1L278.9 78.3L278.2 78.4L277.5 78.6L276.8 78.8L276.1 78.9L275.4 79.1L274.7 79.2L274.0 79.4L273.3 79.6L272.6 79.7L271.9 79.9L271.2 80.0L270.5 80.2L269.8 80.5L269.1 80.7L268.4 80.9L267.7 81.2L267.0 81.5L266.3 81.8L265.6 82.1L264.9 82.5L264.2 82.9L263.5 83.3L262.8 83.8L262.1 84.3L261.4 84.7L260.7 85.0L260.0 85.3L259.3 85.3L258.6 85.2L257.9 84.9L257.2 84.5L256.5 84.0L255.8 83.4L255.1 82.8L254.4 82.1L253.7 81.5L253.0 80.8L252.3 80.3L251.6 79.7L250.9 79.3L250.2 78.8L249.5 78.4L248.8 78.1L248.1 77.8L247.4 77.5L246.7 77.2L246.0 77.0L245.3 76.8L244.6 76.6L243.9 76.4L243.2 76.2L242.5 76.1L241.8 75.9L241.1 75.8L240.4 75.7L239.7 75.6L239.0 75.5L238.3 75.4L237.6 75.3L236.9 75.3L236.2 75.2L235.5 75.2L234.8 75.2L234.1 75.2L233.4 75.2L232.7 75.1L232.0 75.1L231.3 75.1L230.6 75.1L229.9 75.1L229.2 75.1L228.5 75.1L227.8 75.1L227.1 75.1L226.4 75.1L225.7 75.1L225.1 75.1L225.0 75.1L224.8 75.1L224.6 75.1L224.3 75.1L224.3 75.1L224.1 75.1L223.8 75.1L223.6 75.1Z" stroke="#ff00ff"/>
<path d="M223.6 76.6L223.8 75.1L224.1 74.3L224.3 73.9L224.3 73.8L224.6 73.4L224.8 73.1L225.0 72.9L225.1 72.7L225.7 72.1L226.4 71.5L227.1 71.1L227.8 70.7L228.5 70.4L229.2 70.2L229.9 69.9L230.6 69.8L231.3 69.6L232.0 69.4L232.7 69.3L233.4 69.2L234.1 69.1L234.8 68.9L235.5 68.8L236.2 68.7L236.9 68.6L237.6 68.4L238.3 68.3L239.0 68.3L239.7 68.2L240.4 68.2L241.1 68.3L241.8 68.3L242.5 68.4L243.2 68.5L243.9 68.6L244.6 68.7L245.3 68.8L246.0 68.9L246.7 68.9L247.4 69.0L248.1 69.0L248.8 69.0L249.5 68.9L250.2 68.8L250.9 68.7L251.6 68.6L252.3 68.5L253.0 68.3L253.7 68.2L254.4 68.0L255.1 67.9L255.8 67.7L256.5 67.5L257.2 67.4L257.9 67.2L258.6 66.9L259.3 66.7L260.0 66.4L260.7 66.1L261.4 65.7L262.1 65.3L262.8 64.8L263.5 64.2L264.2 63.6L264.9 62.8L265.6 61.8L266.3 60.8L267.0 59.7L267.7 58.5L268.4 57.3L269.1 56.2L269.8 55.2L270.5 54.6L271.2 54.4L271.9 54.5L272.6 54.8L273.3 55.3L274.0 56.0L274.7 56.6L275.4 57.1L276.1 57.6L276.8 58.1L277.5 58.4L278.2 58.7L278.9 58.9L279.6 59.0L280.3 59.1L281.0 59.1L281.7 59.2L282.4 59.2L283.1 59.2L283.8 59.2L284.5 59.2L285.2 59.3L285.9 59.3L286.6 59.3L287.3 59.3L288.0 59.3L288.7 59.3L289.4 59.3L290.1 59.3L290.8 59.3L291.5 59.3L292.2 59.3L292.9 59.3L293.6 59.3L294.3 59.3L295.0 59.3L295.7 59.3L296.4 59.3L297.1 59.2L297.8 59.2L298.5 59.2L299.2 59.2L299.9 59.2L300.6 59.2L301.3 59.2L302.0 59.1L302.7 59.1L303.4 59.0L304.1 59.0L304.8 58.9L305.5 58.8L306.2 58.8L306.9 58.7L307.6 58.6L308.3 58.5L309.0 58.4L309.7 58.3L310.4 58.2L311.1 58.1L311.8 58.0L312.5 57.9L313.2 57.7L313.9 57.6L314.6 57.4L315.3 57.2L316.0 57.0L316.7 56.9L317.4 56.7L318.1 56.5L318.8 56.3L319.5 56.0L320.2 55.8L320.9 55.6L321.6 55.3L322.3 55.1L323.0 54.9L323.7 54.6L324.4 54.5L325.1 54.4L325.8 54.4L326.5 54.4L327.2 54.5L327.9 54.6L328.6 54.7L329.3 55.0L330.0 55.2L330.7 55.4L331.4 55.7L332.1 55.9L332.8 56.2L333.5 56.4L334.2 56.7L334.9 57.0L335.6 57.2L336.3 57.5L337.0 57.8L337.7 58.0L338.4 58.3L339.1 58.5L339.8 58.7L340.5 58.9L341.2 59.1L341.9 59.2L342.6 59.4L343.3 59.5L344.0 59.6L344.7 59.8L345.4 59.8L346.1 59.9L346.8 60.0L347.5 60.1L348.2 60.1L348.9 60.2L349.6 60.3L350.3 60.3L351.0 60.4L351.7 60.4L352.1 60.5L352.4 60.5L352.4 60.5L352.6 60.5L352.9 60.5L353.1 60.6L353.1 60.6L353.4 60.6L353.6 60.6L353.6 64.3L353.4 64.7L353.1 65.0L353.1 65.0L352.9 65.3L352.6 65.5L352.4 65.6L352.4 65.7L352.1 65.8L351.7 66.0L351.0 66.3L350.3 66.6L349.6 66.8L348.9 66.9L348.2 67.1L347.5 67.2L346.8 67.3L346.1 67.4L345.4 67.5L344.7 67.6L344.0 67.7L343.3 67.8L342.6 67.9L341.9 68.1L341.2 68.2L340.5 68.4L339.8 68.5L339.1 68.7L338.4 68.9L337.7 69.0L337.0 69.2L336.3 69.4L335.6 69.5L334.9 69.7L334.2 69.9L333.5 70.1L332.8 70.3L332.1 70.4L331.4 70.6L330.7 70.8L330.0 71.0L329.3 71.1L328.6 71.3L327.9 71.4L327.2 71.5L326.5 71.7L325.8 71.8L325.1 72.0L324.4 72.1L323.7 72.3L323.0 72.4L322.3 72.6L321.6 72.7L320.9 72.9L320.2 73.0L319.5 73.1L318.8 73.3L318.1 73.4L317.4 73.5L316.7 73.6L316.0 73.8L315.3 73.9L314.6 74.0L313.9 74.1L313.2 74.3L312.5 74.4L311.8 74.5L311.1 74.6L310.4 74.8L309.7 74.9L309.0 75.0L308.3 75.2L307.6 75.3L306.9 75.4L306.2 75.6L305.5 75.7L304.8 75.8L304.1 75.9L303.4 76.1L302.7 76.2L302.0 76.3L301.3 76.4L300.6 76.5L299.9 76.6L299.2 76.7L298.5 76.8L297.8 76.9L297.1 77.0L296.4 77.1L295.7 77.2L295.0 77.3L294.3 77.4L293.6 77.5L292.9 77.6L292.2 77.7L291.5 77.8L290.8 77.9L290.1 78.0L289.4 78.1L288.7 78.2L288.0 78.4L287.3 78.5L286.6 78.6L285.9 78.7L285.2 78.9L284.5 79.0L283.8 79.2L283.1 79.3L282.4 79.4L281.7 79.6L281.0 79.7L280.3 79.9L279.6 80.0L278.9 80.2L278.2 80.3L277.5 80.5L276.8 80.7L276.1 80.8L275.4 81.0L274.7 81.2L274.0 81.3L273.3 81.5L272.6 81.6L271.9 81.8L271.2 82.0L270.5 82.2L269.8 82.4L269.1 82.6L268.4 82.9L267.7 83.2L267.0 83.5L266.3 83.9L265.6 84.4L264.9 84.9L264.2 85.5L263.5 86.0L262.8 86.6L262.1 87.1L261.4 87.5L260.7 87.9L260.0 88.2L259.3 88.4L258.6 88.3L257.9 88.1L257.2 87.8L256.5 87.3L255.8 86.7L255.1 86.0L254.4 85.2L253.7 84.4L253.0 83.6L252.3 82.8L251.6 82.1L250.9 81.5L250.2 80.9L249.5 80.5L248.8 80.1L248.1 79.7L247.4 79.4L246.7 79.1L246.0 78.8L245.3 78.6L244.6 78.4L243.9 78.1L243.2 78.0L242.5 77.8L241.8 77.6L241.1 77.5L240.4 77.4L239.7 77.3L239.0 77.1L238.3 77.0L237.6 76.9L236.9 76.9L236.2 76.8L235.5 76.8L234.8 76.7L234.1 76.7L233.4 76.7L232.7 76.7L232.0 76.7L231.3 76.6L230.6 76.6L229.9 76.6L229.2 76.6L228.5 76.6L227.8 76.6L227.1 76.6L226.4 76.6L225.7 76.6L225.1 76.6L225.0 76.6L224.8 76.6L224.6 76.6L224.3 76.6L224.3 76.6L224.1 76.6L223.8 76.6L223.6 76.6Z" stroke="#ffff00"/>
<path d="M223.6 78.6L223.8 76.5L224.1 75.3L224.3 74.7L224.3 74.6L224.6 74.0L224.8 73.6L225.0 73.3L225.1 73.1L225.7 72.3L226.4 71.6L227.1 71.1L227.8 70.7L228.5 70.4L229.2 70.2L229.9 69.9L230.6 69.8L231.3 69.6L232.0 69.4L232.7 69.3L233.4 69.2L234.1 69.1L234.8 68.9L235.5 68.8L236.2 68.7L236.9 68.6L237.6 68.4L238.3 68.3L239.0 68.3L239.7 68.2L240.4 68.2L241.1 68.2L241.8 68.2L242.5 68.3L243.2 68.3L243.9 68.3L244.6 68.4L245.3 68.4L246.0 68.5L246.7 68.5L247.4 68.5L248.1 68.5L248.8 68.5L249.5 68.4L250.2 68.3L250.9 68.2L251.6 68.0L252.3 67.9L253.0 67.7L253.7 67.5L254.4 67.3L255.1 67.2L255.8 67.0L256.5 66.8L257.2 66.6L257.9 66.4L258.6 66.1L259.3 65.9L260.0 65.6L260.7 65.3L261.4 64.9L262.1 64.4L262.8 64.0L263.5 63.4L264.2 62.8L264.9 62.0L265.6 61.0L266.3 60.0L267.0 59.0L267.7 57.9L268.4 56.8L269.1 55.7L269.8 54.6L270.5 53.6L271.2 52.7L271.9 52.2L272.6 52.1L273.3 52.3L274.0 52.6L274.7 53.0L275.4 53.4L276.1 53.8L276.8 54.2L277.5 54.5L278.2 54.8L278.9 55.0L279.6 55.2L280.3 55.3L281.0 55.4L281.7 55.4L282.4 55.5L283.1 55.5L283.8 55.5L284.5 55.6L285.2 55.6L285.9 55.6L286.6 55.7L287.3 55.7L288.0 55.7L288.7 55.7L289.4 55.7L290.1 55.7L290.8 55.7L291.5 55.7L292.2 55.7L292.9 55.7L293.6 55.7L294.3 55.7L295.0 55.6L295.7 55.6L296.4 55.6L297.1 55.6L297.8 55.6L298.5 55.6L299.2 55.5L299.9 55.5L300.6 55.5L301.3 55.4L302.0 55.4L302.7 55.3L303.4 55.2L304.1 55.1L304.8 55.0L305.5 54.9L306.2 54.7L306.9 54.6L307.6 54.4L308.3 54.3L309.0 54.1L309.7 54.0L310.4 53.8L311.1 53.6L311.8 53.4L312.5 53.1L313.2 52.8L313.9 52.5L314.6 52.2L315.3 51.9L316.0 51.5L316.7 51.2L317.4 50.8L318.1 50.4L318.8 50.0L319.5 49.6L320.2 49.2L320.9 48.7L321.6 48.3L322.3 47.8L323.0 47.3L323.7 46.8L324.4 46.4L325.1 45.9L325.8 45.5L326.5 45.2L327.2 45.1L327.9 45.1L328.6 45.2L329.3 45.4L330.0 45.6L330.7 45.8L331.4 46.1L332.1 46.3L332.8 46.6L333.5 46.9L334.2 47.1L334.9 47.5L335.6 47.9L336.3 48.4L337.0 48.9L337.7 49.5L338.4 50.1L339.1 50.6L339.8 51.1L340.5 51.6L341.2 52.1L341.9 52.6L342.6 53.1L343.3 53.5L344.0 53.9L344.7 54.2L345.4 54.4L346.1 54.6L346.8 54.8L347.5 55.0L348.2 55.2L348.9 55.3L349.6 55.4L350.3 55.5L351.0 55.7L351.7 55.8L352.1 55.8L352.4 55.9L352.4 55.9L352.6 55.9L352.9 55.9L353.1 55.9L353.1 55.9L353.4 56.0L353.6 56.0L353.6 62.2L353.4 62.8L353.1 63.3L353.1 63.3L352.9 63.7L352.6 64.0L352.4 64.2L352.4 64.2L352.1 64.4L351.7 64.7L351.0 65.1L350.3 65.5L349.6 65.7L348.9 65.9L348.2 66.1L347.5 66.3L346.8 66.4L346.1 66.5L345.4 66.6L344.7 66.8L344.0 66.9L343.3 67.0L342.6 67.2L341.9 67.4L341.2 67.6L340.5 67.7L339.8 67.9L339.1 68.1L338.4 68.4L337.7 68.6L337.0 68.9L336.3 69.1L335.6 69.4L334.9 69.7L334.2 69.9L333.5 70.2L332.8 70.5L332.1 70.7L331.4 71.0L330.7 71.3L330.0 71.5L329.3 71.7L328.6 71.9L327.9 72.0L327.2 72.2L326.5 72.4L325.8 72.6L325.1 72.7L324.4 72.9L323.7 73.1L323.0 73.3L322.3 73.4L321.6 73.6L320.9 73.8L320.2 74.0L319.5 74.1L318.8 74.3L318.1 74.5L317.4 74.6L316.7 74.8L316.0 75.0L315.3 75.2L314.6 75.3L313.9 75.5L313.2 75.7L312.5 75.9L311.8 76.0L311.1 76.2L310.4 76.4L309.7 76.6L309.0 76.8L308.3 77.0L307.6 77.2L306.9 77.4L306.2 77.5L305.5 77.7L304.8 77.9L304.1 78.1L303.4 78.3L302.7 78.4L302.0 78.6L301.3 78.7L300.6 78.9L299.9 79.0L299.2 79.1L298.5 79.2L297.8 79.3L297.1 79.4L296.4 79.5L295.7 79.6L295.0 79.7L294.3 79.8L293.6 79.9L292.9 80.0L292.2 80.1L291.5 80.2L290.8 80.4L290.1 80.5L289.4 80.6L288.7 80.7L288.0 80.9L287.3 81.0L286.6 81.1L285.9 81.3L285.2 81.4L284.5 81.5L283.8 81.7L283.1 81.8L282.4 82.0L281.7 82.1L281.0 82.3L280.3 82.4L279.6 82.6L278.9 82.8L278.2 82.9L277.5 83.1L276.8 83.3L276.1 83.5L275.4 83.7L274.7 83.8L274.0 84.0L273.3 84.2L272.6 84.3L271.9 84.4L271.2 84.6L270.5 84.8L269.8 85.0L269.1 85.2L268.4 85.5L267.7 85.8L267.0 86.3L266.3 86.8L265.6 87.5L264.9 88.2L264.2 89.0L263.5 89.7L262.8 90.3L262.1 90.9L261.4 91.4L260.7 91.9L260.0 92.2L259.3 92.5L258.6 92.6L257.9 92.5L257.2 92.2L256.5 91.7L255.8 91.2L255.1 90.4L254.4 89.5L253.7 88.4L253.0 87.3L252.3 86.3L251.6 85.4L250.9 84.5L250.2 83.8L249.5 83.3L248.8 82.8L248.1 82.4L247.4 82.0L246.7 81.7L246.0 81.4L245.3 81.1L244.6 80.8L243.9 80.6L243.2 80.4L242.5 80.2L241.8 80.0L241.1 79.8L240.4 79.7L239.7 79.5L239.0 79.4L238.3 79.2L237.6 79.1L236.9 79.0L236.2 78.9L235.5 78.9L234.8 78.8L234.1 78.8L233.4 78.8L232.7 78.8L232.0 78.7L231.3 78.7L230.6 78.7L229.9 78.7L229.2 78.7L228.5 78.7L227.8 78.7L227.1 78.6L226.4 78.6L225.7 78.6L225.1 78.6L225.0 78.6L224.8 78.6L224.6 78.6L224.3 78.6L224.3 78.6L224.1 78.6L223.8 78.6L223.6 78.6Z" stroke="#959500"/>
<path d="M223.6 83.7L223.8 80.0L224.1 77.8L224.3 76.8L224.3 76.5L224.6 75.6L224.8 74.8L225.0 74.4L225.1 74.1L225.7 72.7L226.4 71.8L227.1 71.2L227.8 70.7L228.5 70.4L229.2 70.1L229.9 69.9L230.6 69.8L231.3 69.6L232.0 69.4L232.7 69.3L233.4 69.2L234.1 69.1L234.8 68.9L235.5 68.8L236.2 68.7L236.9 68.6L237.6 68.5L238.3 68.4L239.0 68.3L239.7 68.2L240.4 68.2L241.1 68.1L241.8 68.1L242.5 68.0L243.2 68.0L243.9 67.9L244.6 67.9L245.3 67.8L246.0 67.8L246.7 67.7L247.4 67.7L248.1 67.6L248.8 67.5L249.5 67.4L250.2 67.2L250.9 67.0L251.6 66.9L252.3 66.7L253.0 66.5L253.7 66.2L254.4 66.0L255.1 65.8L255.8 65.5L256.5 65.2L257.2 64.9L257.9 64.5L258.6 64.1L259.3 63.7L260.0 63.3L260.7 62.8L261.4 62.4L262.1 61.9L262.8 61.3L263.5 60.7L264.2 60.1L264.9 59.4L265.6 58.7L266.3 57.8L267.0 57.0L267.7 56.0L268.4 55.0L269.1 53.9L269.8 52.8L270.5 51.7L271.2 50.5L271.9 49.4L272.6 48.4L273.3 47.5L274.0 46.8L274.7 46.3L275.4 46.1L276.1 46.2L276.8 46.3L277.5 46.6L278.2 46.9L278.9 47.2L279.6 47.4L280.3 47.7L281.0 47.9L281.7 48.2L282.4 48.4L283.1 48.6L283.8 48.8L284.5 48.9L285.2 48.9L285.9 48.9L286.6 48.8L287.3 48.8L288.0 48.7L288.7 48.6L289.4 48.6L290.1 48.5L290.8 48.4L291.5 48.3L292.2 48.2L292.9 48.1L293.6 47.9L294.3 47.8L295.0 47.6L295.7 47.5L296.4 47.3L297.1 47.2L297.8 47.0L298.5 46.8L299.2 46.6L299.9 46.4L300.6 46.2L301.3 46.0L302.0 45.8L302.7 45.6L303.4 45.3L304.1 45.1L304.8 44.8L305.5 44.6L306.2 44.3L306.9 44.0L307.6 43.7L308.3 43.4L309.0 43.1L309.7 42.8L310.4 42.5L311.1 42.2L311.8 41.8L312.5 41.5L313.2 41.1L313.9 40.7L314.6 40.2L315.3 39.8L316.0 39.3L316.7 38.8L317.4 38.3L318.1 37.8L318.8 37.2L319.5 36.7L320.2 36.1L320.9 35.6L321.6 35.0L322.3 34.4L323.0 33.9L323.7 33.3L324.4 32.8L325.1 32.2L325.8 31.7L326.5 31.2L327.2 30.7L327.9 30.2L328.6 29.8L329.3 29.5L330.0 29.2L330.7 29.0L331.4 28.9L332.1 28.9L332.8 29.1L333.5 29.4L334.2 29.8L334.9 30.3L335.6 30.9L336.3 31.6L337.0 32.4L337.7 33.2L338.4 34.0L339.1 34.8L339.8 35.6L340.5 36.4L341.2 37.2L341.9 38.0L342.6 38.8L343.3 39.6L344.0 40.3L344.7 40.9L345.4 41.3L346.1 41.7L346.8 42.0L347.5 42.2L348.2 42.5L348.9 42.7L349.6 42.9L350.3 43.1L351.0 43.2L351.7 43.3L352.1 43.4L352.4 43.5L352.4 43.5L352.6 43.5L352.9 43.5L353.1 43.6L353.1 43.6L353.4 43.6L353.6 43.6L353.6 46.5L353.4 47.4L353.1 48.2L353.1 48.2L352.9 49.0L352.6 49.8L352.4 50.4L352.4 50.5L352.1 51.2L351.7 52.3L351.0 53.9L350.3 55.4L349.6 56.6L348.9 57.8L348.2 58.8L347.5 59.8L346.8 60.8L346.1 61.9L345.4 62.9L344.7 63.9L344.0 64.8L343.3 65.6L342.6 66.5L341.9 67.2L341.2 68.0L340.5 68.7L339.8 69.4L339.1 70.0L338.4 70.7L337.7 71.2L337.0 71.8L336.3 72.3L335.6 72.9L334.9 73.4L334.2 73.9L333.5 74.3L332.8 74.8L332.1 75.2L331.4 75.7L330.7 76.1L330.0 76.5L329.3 76.9L328.6 77.3L327.9 77.6L327.2 77.9L326.5 78.3L325.8 78.6L325.1 78.9L324.4 79.1L323.7 79.4L323.0 79.6L322.3 79.9L321.6 80.1L320.9 80.4L320.2 80.6L319.5 80.9L318.8 81.1L318.1 81.3L317.4 81.5L316.7 81.6L316.0 81.8L315.3 81.9L314.6 82.1L313.9 82.2L313.2 82.4L312.5 82.5L311.8 82.6L311.1 82.8L310.4 82.9L309.7 83.1L309.0 83.2L308.3 83.3L307.6 83.5L306.9 83.6L306.2 83.7L305.5 83.9L304.8 84.0L304.1 84.1L303.4 84.2L302.7 84.4L302.0 84.5L301.3 84.6L300.6 84.7L299.9 84.9L299.2 85.0L298.5 85.1L297.8 85.2L297.1 85.4L296.4 85.5L295.7 85.6L295.0 85.7L294.3 85.8L293.6 85.9L292.9 86.0L292.2 86.2L291.5 86.3L290.8 86.4L290.1 86.5L289.4 86.6L288.7 86.7L288.0 86.8L287.3 86.9L286.6 87.0L285.9 87.1L285.2 87.2L284.5 87.3L283.8 87.3L283.1 87.4L282.4 87.5L281.7 87.6L281.0 87.7L280.3 87.8L279.6 87.8L278.9 88.0L278.2 88.1L277.5 88.2L276.8 88.4L276.1 88.5L275.4 88.7L274.7 89.0L274.0 89.2L273.3 89.5L272.6 89.9L271.9 90.3L271.2 90.7L270.5 91.1L269.8 91.5L269.1 92.0L268.4 92.4L267.7 92.9L267.0 93.5L266.3 94.1L265.6 94.8L264.9 95.4L264.2 96.1L263.5 96.8L262.8 97.4L262.1 98.1L261.4 98.7L260.7 99.3L260.0 99.9L259.3 100.6L258.6 101.2L257.9 101.5L257.2 101.6L256.5 101.5L255.8 101.3L255.1 100.9L254.4 100.2L253.7 99.4L253.0 98.3L252.3 97.1L251.6 95.9L250.9 94.6L250.2 93.5L249.5 92.5L248.8 91.6L248.1 90.8L247.4 90.1L246.7 89.4L246.0 88.7L245.3 88.1L244.6 87.5L243.9 86.9L243.2 86.4L242.5 85.9L241.8 85.5L241.1 85.1L240.4 84.8L239.7 84.6L239.0 84.4L238.3 84.3L237.6 84.3L236.9 84.2L236.2 84.2L235.5 84.1L234.8 84.1L234.1 84.1L233.4 84.0L232.7 84.0L232.0 84.0L231.3 83.9L230.6 83.9L229.9 83.9L229.2 83.9L228.5 83.9L227.8 83.8L227.1 83.8L226.4 83.8L225.7 83.8L225.1 83.8L225.0 83.8L224.8 83.8L224.6 83.7L224.3 83.7L224.3 83.7L224.1 83.7L223.8 83.7L223.6 83.7Z" stroke="#141490"/>
<path d="M223.6 87.9L223.8 82.8L224.1 79.9L224.3 78.5L224.3 78.1L224.6 76.9L224.8 75.8L225.0 75.2L225.1 74.9L225.7 73.1L226.4 72.0L227.1 71.3L227.8 70.8L228.5 70.4L229.2 70.1L229.9 69.9L230.6 69.8L231.3 69.6L232.0 69.4L232.7 69.3L233.4 69.2L234.1 69.1L234.8 68.9L235.5 68.8L236.2 68.7L236.9 68.6L237.6 68.5L238.3 68.4L239.0 68.3L239.7 68.2L240.4 68.1L241.1 68.0L241.8 67.9L242.5 67.8L243.2 67.7L243.9 67.6L244.6 67.5L245.3 67.3L246.0 67.2L246.7 67.0L247.4 66.9L248.1 66.7L248.8 66.5L249.5 66.3L250.2 66.1L250.9 65.9L251.6 65.7L252.3 65.4L253.0 65.1L253.7 64.8L254.4 64.5L255.1 64.1L255.8 63.7L256.5 63.3L257.2 62.8L257.9 62.3L258.6 61.7L259.3 61.2L260.0 60.6L260.7 60.0L261.4 59.4L262.1 58.8L262.8 58.2L263.5 57.6L264.2 56.9L264.9 56.3L265.6 55.6L266.3 55.0L267.0 54.3L267.7 53.6L268.4 52.9L269.1 52.2L269.8 51.4L270.5 50.6L271.2 49.8L271.9 48.9L272.6 48.1L273.3 47.3L274.0 46.5L274.7 45.9L275.4 45.4L276.1 45.1L276.8 45.0L277.5 44.9L278.2 44.9L278.9 44.9L279.6 44.9L280.3 44.9L281.0 44.9L281.7 44.9L282.4 44.8L283.1 44.8L283.8 44.7L284.5 44.6L285.2 44.6L285.9 44.5L286.6 44.4L287.3 44.2L288.0 44.1L288.7 43.9L289.4 43.7L290.1 43.6L290.8 43.4L291.5 43.2L292.2 42.9L292.9 42.7L293.6 42.5L294.3 42.2L295.0 42.0L295.7 41.8L296.4 41.5L297.1 41.3L297.8 41.1L298.5 40.8L299.2 40.6L299.9 40.3L300.6 40.1L301.3 39.8L302.0 39.6L302.7 39.3L303.4 39.0L304.1 38.8L304.8 38.5L305.5 38.2L306.2 37.9L306.9 37.6L307.6 37.4L308.3 37.1L309.0 36.8L309.7 36.4L310.4 36.1L311.1 35.7L311.8 35.4L312.5 35.0L313.2 34.6L313.9 34.2L314.6 33.7L315.3 33.3L316.0 32.8L316.7 32.4L317.4 31.9L318.1 31.4L318.8 30.8L319.5 30.3L320.2 29.7L320.9 29.1L321.6 28.5L322.3 27.9L323.0 27.2L323.7 26.5L324.4 25.8L325.1 25.1L325.8 24.3L326.5 23.5L327.2 22.7L327.9 21.9L328.6 21.1L329.3 20.3L330.0 19.6L330.7 18.9L331.4 18.3L332.1 17.8L332.8 17.3L333.5 17.0L334.2 16.8L334.9 16.8L335.6 16.8L336.3 17.0L337.0 17.2L337.7 17.5L338.4 17.8L339.1 18.2L339.8 18.7L340.5 19.4L341.2 20.3L341.9 21.3L342.6 22.4L343.3 23.5L344.0 24.5L344.7 25.6L345.4 26.5L346.1 27.4L346.8 28.2L347.5 28.9L348.2 29.5L348.9 30.0L349.6 30.5L350.3 31.0L351.0 31.3L351.7 31.7L352.1 31.9L352.4 32.0L352.4 32.0L352.6 32.1L352.9 32.2L353.1 32.3L353.1 32.3L353.4 32.3L353.6 32.4L353.6 37.4L353.4 39.0L353.1 40.4L353.1 40.4L352.9 41.8L352.6 43.2L352.4 44.2L352.4 44.4L352.1 45.5L351.7 47.1L351.0 49.5L350.3 51.5L349.6 53.1L348.9 54.4L348.2 55.6L347.5 56.7L346.8 57.9L346.1 59.1L345.4 60.3L344.7 61.4L344.0 62.4L343.3 63.2L342.6 64.1L341.9 64.9L341.2 65.8L340.5 66.6L339.8 67.5L339.1 68.4L338.4 69.2L337.7 70.0L337.0 70.8L336.3 71.6L335.6 72.4L334.9 73.1L334.2 73.8L333.5 74.4L332.8 75.0L332.1 75.6L331.4 76.1L330.7 76.7L330.0 77.2L329.3 77.8L328.6 78.4L327.9 79.0L327.2 79.6L326.5 80.1L325.8 80.6L325.1 81.1L324.4 81.5L323.7 81.9L323.0 82.3L322.3 82.6L321.6 83.0L320.9 83.4L320.2 83.7L319.5 84.1L318.8 84.4L318.1 84.8L317.4 85.1L316.7 85.3L316.0 85.6L315.3 85.9L314.6 86.2L313.9 86.4L313.2 86.7L312.5 86.9L311.8 87.2L311.1 87.4L310.4 87.7L309.7 87.9L309.0 88.1L308.3 88.4L307.6 88.6L306.9 88.8L306.2 89.1L305.5 89.3L304.8 89.5L304.1 89.7L303.4 89.9L302.7 90.1L302.0 90.3L301.3 90.5L300.6 90.7L299.9 90.9L299.2 91.1L298.5 91.3L297.8 91.5L297.1 91.6L296.4 91.8L295.7 92.0L295.0 92.2L294.3 92.3L293.6 92.5L292.9 92.7L292.2 92.8L291.5 92.9L290.8 93.1L290.1 93.2L289.4 93.3L288.7 93.4L288.0 93.5L287.3 93.5L286.6 93.6L285.9 93.7L285.2 93.8L284.5 93.9L283.8 93.9L283.1 94.0L282.4 94.1L281.7 94.1L281.0 94.2L280.3 94.3L279.6 94.4L278.9 94.5L278.2 94.6L277.5 94.7L276.8 94.8L276.1 95.0L275.4 95.2L274.7 95.4L274.0 95.6L273.3 96.0L272.6 96.4L271.9 96.9L271.2 97.4L270.5 97.9L269.8 98.4L269.1 99.0L268.4 99.5L267.7 100.0L267.0 100.4L266.3 100.9L265.6 101.4L264.9 102.0L264.2 102.5L263.5 103.1L262.8 103.7L262.1 104.3L261.4 104.9L260.7 105.7L260.0 106.5L259.3 107.3L258.6 107.9L257.9 108.5L257.2 108.7L256.5 108.7L255.8 108.5L255.1 107.9L254.4 107.2L253.7 106.3L253.0 105.4L252.3 104.5L251.6 103.6L250.9 102.7L250.2 101.9L249.5 101.0L248.8 100.2L248.1 99.3L247.4 98.4L246.7 97.4L246.0 96.5L245.3 95.6L244.6 94.8L243.9 94.1L243.2 93.5L242.5 92.9L241.8 92.3L241.1 91.8L240.4 91.3L239.7 90.8L239.0 90.4L238.3 90.1L237.6 89.7L236.9 89.5L236.2 89.2L235.5 89.0L234.8 88.9L234.1 88.7L233.4 88.6L232.7 88.4L232.0 88.3L231.3 88.2L230.6 88.2L229.9 88.1L229.2 88.0L228.5 88.0L227.8 88.0L227.1 87.9L226.4 87.9L225.7 87.9L225.1 87.9L225.0 87.9L224.8 87.9L224.6 87.8L224.3 87.8L224.3 87.8L224.1 87.8L223.8 87.8L223.6 87.8Z" stroke="#941c94"/>
</g>
<rect x="210.50" y="7.50" width="156.70" height="111.60" fill="none" stroke="#707070" stroke-width="1"/>
<line x1="223.56" y1="119.10" x2="223.56" y2="121.30" stroke="#707070" stroke-width="0.8"/>
<text x="223.56" y="128.22" font-size="6.00" font-weight="bold" text-anchor="middle" >−0.6</text>
<line x1="249.64" y1="119.10" x2="249.64" y2="121.30" stroke="#707070" stroke-width="0.8"/>
<text x="249.64" y="128.22" font-size="6.00" font-weight="bold" text-anchor="middle" >−0.4</text>
<line x1="275.72" y1="119.10" x2="275.72" y2="121.30" stroke="#707070" stroke-width="0.8"/>
<text x="275.72" y="128.22" font-size="6.00" font-weight="bold" text-anchor="middle" >−0.2</text>
<line x1="301.80" y1="119.10" x2="301.80" y2="121.30" stroke="#707070" stroke-width="0.8"/>
<text x="301.80" y="128.22" font-size="6.00" font-weight="bold" text-anchor="middle" >0.0</text>
<line x1="327.88" y1="119.10" x2="327.88" y2="121.30" stroke="#707070" stroke-width="0.8"/>
<text x="327.88" y="128.22" font-size="6.00" font-weight="bold" text-anchor="middle" >0.2</text>
<line x1="353.96" y1="119.10" x2="353.96" y2="121.30" stroke="#707070" stroke-width="0.8"/>
<text x="353.96" y="128.22" font-size="6.00" font-weight="bold" text-anchor="middle" >0.4</text>
<line x1="210.50" y1="7.76" x2="208.30" y2="7.76" stroke="#707070" stroke-width="0.8"/>
<text x="206.30" y="10.28" font-size="6.00" font-weight="bold" text-anchor="end" >6.0</text>
<line x1="210.50" y1="28.14" x2="208.30" y2="28.14" stroke="#707070" stroke-width="0.8"/>
<text x="206.30" y="30.66" font-size="6.00" font-weight="bold" text-anchor="end" >4.0</text>
<line x1="210.50" y1="48.52" x2="208.30" y2="48.52" stroke="#707070" stroke-width="0.8"/>
<text x="206.30" y="51.04" font-size="6.00" font-weight="bold" text-anchor="end" >2.0</text>
<line x1="210.50" y1="68.90" x2="208.30" y2="68.90" stroke="#707070" stroke-width="0.8"/>
<text x="206.30" y="71.42" font-size="6.00" font-weight="bold" text-anchor="end" >0.0</text>
<line x1="210.50" y1="89.28" x2="208.30" y2="89.28" stroke="#707070" stroke-width="0.8"/>
<text x="206.30" y="91.80" font-size="6.00" font-weight="bold" text-anchor="end" >−2.0</text>
<line x1="210.50" y1="109.66" x2="208.30" y2="109.66" stroke="#707070" stroke-width="0.8"/>
<text x="206.30" y="112.18" font-size="6.00" font-weight="bold" text-anchor="end" >−4.0</text>
<text x="287.50" y="137.80" font-size="6.40" font-weight="bold" text-anchor="middle" >Potential (V vs.SCE)</text>
<text x="0.00" y="0.00" font-size="6.50" font-weight="bold" text-anchor="middle" transform="translate(194.5,61.8) rotate(-90)">Current (mA)</text>
<text x="243.00" y="26.00" font-size="5.50" font-weight="bold" text-anchor="middle" >1.0 mM DA</text>
<text x="246.00" y="50.00" font-size="5.50" font-weight="bold" text-anchor="middle" >0.001 mM DA</text>
<line x1="243.4" y1="30.5" x2="243.4" y2="42" stroke="#000" stroke-width="0.6"/>
<path d="M243.4 28 L244.4 31.2 L242.4 31.2Z" fill="#000"/>
<text x="188.30" y="16.40" font-size="15.00" font-weight="normal" text-anchor="start" style="stroke-width:0.4px">b</text>
<g fill="none" stroke-width="1.20" stroke-linejoin="round">
<path d="M405.2 108.8L405.4 106.3L405.7 105.2L405.9 104.5L405.9 104.4L406.2 103.9L406.4 103.4L406.6 103.2L406.7 103.0L407.3 102.4L408.0 101.9L408.7 101.5L409.4 101.1L410.1 100.9L410.8 100.6L411.5 100.4L412.2 100.3L412.9 100.1L413.6 99.9L414.3 99.8L415.0 99.7L415.7 99.6L416.4 99.4L417.1 99.3L417.8 99.2L418.5 99.1L419.2 99.0L419.9 98.9L420.6 98.8L421.3 98.8L422.0 98.7L422.7 98.6L423.4 98.6L424.1 98.5L424.8 98.5L425.5 98.4L426.2 98.4L426.9 98.3L427.6 98.3L428.3 98.2L429.0 98.2L429.7 98.1L430.4 98.1L431.1 98.0L431.8 98.0L432.5 97.9L433.2 97.9L433.9 97.8L434.6 97.8L435.3 97.7L436.0 97.7L436.7 97.6L437.4 97.6L438.1 97.5L438.8 97.5L439.5 97.4L440.2 97.4L440.9 97.3L441.6 97.3L442.3 97.3L443.0 97.2L443.7 97.2L444.4 97.1L445.1 97.1L445.8 97.0L446.5 97.0L447.2 97.0L447.9 96.9L448.6 96.9L449.3 96.8L450.0 96.8L450.7 96.8L451.4 96.7L452.1 96.7L452.8 96.7L453.5 96.6L454.2 96.6L454.9 96.6L455.6 96.6L456.3 96.5L457.0 96.5L457.7 96.5L458.4 96.4L459.1 96.4L459.8 96.3L460.5 96.3L461.2 96.2L461.9 96.1L462.6 96.0L463.3 95.8L464.0 95.6L464.7 95.3L465.4 95.4L466.1 95.6L466.8 95.9L467.5 96.0L468.2 96.0L468.9 96.1L469.6 96.1L470.3 96.1L471.0 96.1L471.7 96.1L472.4 96.1L473.1 96.1L473.8 96.1L474.5 96.1L475.2 96.1L475.9 96.1L476.6 96.0L477.3 96.0L478.0 96.0L478.7 96.0L479.4 96.0L480.1 96.0L480.8 96.0L481.5 96.0L482.2 96.0L482.9 96.0L483.6 96.0L484.3 96.0L485.0 96.0L485.7 95.9L486.4 95.9L487.1 95.9L487.8 95.9L488.5 95.9L489.2 95.9L489.9 95.9L490.6 95.9L491.3 95.9L492.0 95.9L492.7 95.9L493.4 95.8L494.1 95.8L494.8 95.8L495.5 95.8L496.2 95.8L496.9 95.8L497.6 95.8L498.3 95.7L499.0 95.7L499.7 95.7L500.4 95.7L501.1 95.7L501.8 95.6L502.5 95.6L503.2 95.6L503.9 95.5L504.6 95.5L505.3 95.5L506.0 95.5L506.7 95.4L507.4 95.4L508.1 95.4L508.8 95.3L509.5 95.3L510.2 95.2L510.9 95.1L511.6 95.0L512.3 94.9L513.0 94.9L513.7 94.8L514.4 94.8L515.1 94.8L515.8 94.7L516.5 94.7L517.2 94.7L517.9 94.7L518.6 94.7L519.3 94.7L520.0 94.7L520.7 94.7L521.4 94.7L522.1 94.7L522.8 94.7L523.5 94.7L524.2 94.8L524.9 94.8L525.6 94.8L526.3 94.8L527.0 94.8L527.7 94.9L528.4 94.9L528.8 94.9L529.0 94.9L529.1 94.9L529.3 94.9L529.5 94.9L529.8 94.9L529.8 94.9L530.0 95.0L530.3 95.0L530.3 96.9L530.0 97.1L529.8 97.3L529.8 97.3L529.5 97.5L529.3 97.6L529.1 97.8L529.0 97.8L528.8 97.9L528.4 98.1L527.7 98.3L527.0 98.5L526.3 98.6L525.6 98.7L524.9 98.7L524.2 98.8L523.5 98.8L522.8 98.9L522.1 98.9L521.4 99.0L520.7 99.0L520.0 99.0L519.3 99.1L518.6 99.1L517.9 99.1L517.2 99.2L516.5 99.2L515.8 99.2L515.1 99.3L514.4 99.3L513.7 99.3L513.0 99.4L512.3 99.4L511.6 99.4L510.9 99.5L510.2 99.5L509.5 99.5L508.8 99.5L508.1 99.5L507.4 99.5L506.7 99.6L506.0 99.6L505.3 99.6L504.6 99.6L503.9 99.6L503.2 99.6L502.5 99.6L501.8 99.7L501.1 99.7L500.4 99.7L499.7 99.7L499.0 99.7L498.3 99.7L497.6 99.7L496.9 99.7L496.2 99.8L495.5 99.8L494.8 99.8L494.1 99.8L493.4 99.8L492.7 99.8L492.0 99.8L491.3 99.8L490.6 99.8L489.9 99.8L489.2 99.8L488.5 99.8L487.8 99.8L487.1 99.8L486.4 99.8L485.7 99.8L485.0 99.8L484.3 99.8L483.6 99.8L482.9 99.8L482.2 99.8L481.5 99.8L480.8 99.8L480.1 99.8L479.4 99.8L478.7 99.8L478.0 99.8L477.3 99.8L476.6 99.8L475.9 99.8L475.2 99.8L474.5 99.8L473.8 99.8L473.1 99.9L472.4 99.9L471.7 99.9L471.0 99.9L470.3 99.9L469.6 99.9L468.9 99.9L468.2 99.9L467.5 99.9L466.8 99.9L466.1 100.0L465.4 100.0L464.7 100.0L464.0 100.0L463.3 100.0L462.6 100.0L461.9 100.1L461.2 100.1L460.5 100.1L459.8 100.1L459.1 100.1L458.4 100.1L457.7 100.2L457.0 100.2L456.3 100.2L455.6 100.2L454.9 100.3L454.2 100.3L453.5 100.3L452.8 100.4L452.1 100.4L451.4 100.4L450.7 100.5L450.0 100.5L449.3 100.5L448.6 100.6L447.9 100.6L447.2 100.6L446.5 100.7L445.8 100.7L445.1 100.8L444.4 100.8L443.7 100.8L443.0 100.9L442.3 100.9L441.6 101.0L440.9 101.0L440.2 101.1L439.5 101.1L438.8 101.2L438.1 101.3L437.4 101.3L436.7 101.4L436.0 101.5L435.3 101.5L434.6 101.6L433.9 101.7L433.2 101.8L432.5 101.9L431.8 102.0L431.1 102.0L430.4 102.1L429.7 102.2L429.0 102.4L428.3 102.5L427.6 102.6L426.9 102.7L426.2 102.9L425.5 103.0L424.8 103.1L424.1 103.3L423.4 103.5L422.7 103.7L422.0 104.0L421.3 104.3L420.6 104.6L419.9 104.9L419.2 105.3L418.5 105.8L417.8 106.3L417.1 106.8L416.4 107.3L415.7 107.7L415.0 108.0L414.3 108.3L413.6 108.5L412.9 108.6L412.2 108.7L411.5 108.8L410.8 108.8L410.1 108.9L409.4 108.9L408.7 108.9L408.0 109.0L407.3 109.1L406.7 109.1L406.6 109.1L406.4 109.0L406.2 109.0L405.9 108.9L405.9 108.9L405.7 108.9L405.4 108.8L405.2 108.8Z" stroke="#000000"/>
<path d="M405.2 108.8L405.4 106.3L405.7 105.2L405.9 104.5L405.9 104.4L406.2 103.9L406.4 103.4L406.6 103.2L406.7 103.0L407.3 102.4L408.0 101.9L408.7 101.5L409.4 101.1L410.1 100.9L410.8 100.6L411.5 100.4L412.2 100.3L412.9 100.1L413.6 99.9L414.3 99.8L415.0 99.7L415.7 99.6L416.4 99.4L417.1 99.3L417.8 99.2L418.5 99.1L419.2 99.0L419.9 98.9L420.6 98.8L421.3 98.8L422.0 98.7L422.7 98.6L423.4 98.6L424.1 98.5L424.8 98.5L425.5 98.4L426.2 98.4L426.9 98.3L427.6 98.3L428.3 98.2L429.0 98.2L429.7 98.1L430.4 98.1L431.1 98.0L431.8 98.0L432.5 97.9L433.2 97.9L433.9 97.8L434.6 97.8L435.3 97.7L436.0 97.7L436.7 97.6L437.4 97.6L438.1 97.5L438.8 97.5L439.5 97.4L440.2 97.4L440.9 97.3L441.6 97.3L442.3 97.3L443.0 97.2L443.7 97.2L444.4 97.1L445.1 97.1L445.8 97.0L446.5 97.0L447.2 97.0L447.9 96.9L448.6 96.9L449.3 96.8L450.0 96.8L450.7 96.8L451.4 96.7L452.1 96.7L452.8 96.7L453.5 96.6L454.2 96.6L454.9 96.6L455.6 96.6L456.3 96.5L457.0 96.5L457.7 96.5L458.4 96.4L459.1 96.4L459.8 96.3L460.5 96.3L461.2 96.2L461.9 96.1L462.6 96.0L463.3 95.8L464.0 95.6L464.7 95.3L465.4 95.4L466.1 95.6L466.8 95.9L467.5 96.0L468.2 96.0L468.9 96.1L469.6 96.1L470.3 96.1L471.0 96.1L471.7 96.1L472.4 96.1L473.1 96.1L473.8 96.1L474.5 96.1L475.2 96.1L475.9 96.1L476.6 96.0L477.3 96.0L478.0 96.0L478.7 96.0L479.4 96.0L480.1 96.0L480.8 96.0L481.5 96.0L482.2 96.0L482.9 96.0L483.6 96.0L484.3 96.0L485.0 96.0L485.7 95.9L486.4 95.9L487.1 95.9L487.8 95.9L488.5 95.9L489.2 95.9L489.9 95.9L490.6 95.9L491.3 95.9L492.0 95.9L492.7 95.9L493.4 95.8L494.1 95.8L494.8 95.8L495.5 95.8L496.2 95.8L496.9 95.8L497.6 95.8L498.3 95.7L499.0 95.7L499.7 95.7L500.4 95.7L501.1 95.7L501.8 95.6L502.5 95.6L503.2 95.6L503.9 95.5L504.6 95.5L505.3 95.5L506.0 95.5L506.7 95.4L507.4 95.4L508.1 95.4L508.8 95.3L509.5 95.3L510.2 95.1L510.9 94.9L511.6 94.8L512.3 94.7L513.0 94.6L513.7 94.5L514.4 94.5L515.1 94.6L515.8 94.4L516.5 94.3L517.2 94.4L517.9 94.4L518.6 94.4L519.3 94.4L520.0 94.4L520.7 94.4L521.4 94.4L522.1 94.4L522.8 94.4L523.5 94.4L524.2 94.4L524.9 94.4L525.6 94.5L526.3 94.5L527.0 94.5L527.7 94.5L528.4 94.6L528.8 94.6L529.0 94.6L529.1 94.6L529.3 94.6L529.5 94.6L529.8 94.6L529.8 94.6L530.0 94.6L530.3 94.7L530.3 96.5L530.0 96.7L529.8 96.9L529.8 96.9L529.5 97.1L529.3 97.2L529.1 97.4L529.0 97.4L528.8 97.6L528.4 97.8L527.7 98.0L527.0 98.1L526.3 98.2L525.6 98.3L524.9 98.4L524.2 98.5L523.5 98.6L522.8 98.6L522.1 98.7L521.4 98.7L520.7 98.8L520.0 98.8L519.3 98.9L518.6 98.9L517.9 98.9L517.2 99.0L516.5 99.0L515.8 99.1L515.1 99.1L514.4 99.1L513.7 99.2L513.0 99.2L512.3 99.3L511.6 99.3L510.9 99.4L510.2 99.4L509.5 99.4L508.8 99.4L508.1 99.5L507.4 99.5L506.7 99.5L506.0 99.6L505.3 99.6L504.6 99.6L503.9 99.6L503.2 99.6L502.5 99.6L501.8 99.7L501.1 99.7L500.4 99.7L499.7 99.7L499.0 99.7L498.3 99.7L497.6 99.7L496.9 99.7L496.2 99.8L495.5 99.8L494.8 99.8L494.1 99.8L493.4 99.8L492.7 99.8L492.0 99.8L491.3 99.8L490.6 99.8L489.9 99.8L489.2 99.8L488.5 99.8L487.8 99.8L487.1 99.8L486.4 99.8L485.7 99.8L485.0 99.8L484.3 99.8L483.6 99.8L482.9 99.8L482.2 99.8L481.5 99.8L480.8 99.8L480.1 99.8L479.4 99.8L478.7 99.8L478.0 99.8L477.3 99.8L476.6 99.8L475.9 99.8L475.2 99.8L474.5 99.8L473.8 99.8L473.1 99.9L472.4 99.9L471.7 99.9L471.0 99.9L470.3 99.9L469.6 99.9L468.9 99.9L468.2 99.9L467.5 99.9L466.8 99.9L466.1 100.0L465.4 100.0L464.7 100.0L464.0 100.0L463.3 100.0L462.6 100.0L461.9 100.1L461.2 100.1L460.5 100.1L459.8 100.1L459.1 100.1L458.4 100.1L457.7 100.2L457.0 100.2L456.3 100.2L455.6 100.2L454.9 100.3L454.2 100.3L453.5 100.3L452.8 100.4L452.1 100.4L451.4 100.4L450.7 100.5L450.0 100.5L449.3 100.5L448.6 100.6L447.9 100.6L447.2 100.6L446.5 100.7L445.8 100.7L445.1 100.8L444.4 100.8L443.7 100.8L443.0 100.9L442.3 100.9L441.6 101.0L440.9 101.0L440.2 101.1L439.5 101.1L438.8 101.2L438.1 101.3L437.4 101.3L436.7 101.4L436.0 101.5L435.3 101.5L434.6 101.6L433.9 101.7L433.2 101.8L432.5 101.9L431.8 102.0L431.1 102.0L430.4 102.1L429.7 102.2L429.0 102.4L428.3 102.5L427.6 102.6L426.9 102.7L426.2 102.9L425.5 103.0L424.8 103.1L424.1 103.3L423.4 103.5L422.7 103.7L422.0 104.0L421.3 104.3L420.6 104.6L419.9 104.9L419.2 105.3L418.5 105.8L417.8 106.3L417.1 106.8L416.4 107.3L415.7 107.7L415.0 108.0L414.3 108.3L413.6 108.5L412.9 108.6L412.2 108.7L411.5 108.8L410.8 108.8L410.1 108.9L409.4 108.9L408.7 108.9L408.0 109.0L407.3 109.1L406.7 109.1L406.6 109.1L406.4 109.0L406.2 109.0L405.9 108.9L405.9 108.9L405.7 108.9L405.4 108.8L405.2 108.8Z" stroke="#ff0000"/>
<path d="M405.2 108.8L405.4 106.3L405.7 105.2L405.9 104.5L405.9 104.4L406.2 103.9L406.4 103.4L406.6 103.2L406.7 103.0L407.3 102.4L408.0 101.9L408.7 101.5L409.4 101.1L410.1 100.9L410.8 100.6L411.5 100.4L412.2 100.3L412.9 100.1L413.6 99.9L414.3 99.8L415.0 99.7L415.7 99.6L416.4 99.4L417.1 99.3L417.8 99.2L418.5 99.1L419.2 99.0L419.9 98.9L420.6 98.8L421.3 98.8L422.0 98.7L422.7 98.6L423.4 98.6L424.1 98.5L424.8 98.5L425.5 98.4L426.2 98.4L426.9 98.3L427.6 98.3L428.3 98.2L429.0 98.2L429.7 98.1L430.4 98.1L431.1 98.0L431.8 98.0L432.5 97.9L433.2 97.9L433.9 97.8L434.6 97.8L435.3 97.7L436.0 97.7L436.7 97.6L437.4 97.6L438.1 97.5L438.8 97.5L439.5 97.4L440.2 97.4L440.9 97.3L441.6 97.3L442.3 97.3L443.0 97.2L443.7 97.2L444.4 97.1L445.1 97.1L445.8 97.0L446.5 97.0L447.2 97.0L447.9 96.9L448.6 96.9L449.3 96.8L450.0 96.8L450.7 96.8L451.4 96.7L452.1 96.7L452.8 96.7L453.5 96.6L454.2 96.6L454.9 96.6L455.6 96.6L456.3 96.5L457.0 96.5L457.7 96.5L458.4 96.4L459.1 96.4L459.8 96.3L460.5 96.3L461.2 96.2L461.9 96.1L462.6 96.0L463.3 95.8L464.0 95.6L464.7 95.3L465.4 95.4L466.1 95.6L466.8 95.9L467.5 96.0L468.2 96.0L468.9 96.1L469.6 96.1L470.3 96.1L471.0 96.1L471.7 96.1L472.4 96.1L473.1 96.1L473.8 96.1L474.5 96.1L475.2 96.1L475.9 96.1L476.6 96.0L477.3 96.0L478.0 96.0L478.7 96.0L479.4 96.0L480.1 96.0L480.8 96.0L481.5 96.0L482.2 96.0L482.9 96.0L483.6 96.0L484.3 96.0L485.0 96.0L485.7 95.9L486.4 95.9L487.1 95.9L487.8 95.9L488.5 95.9L489.2 95.9L489.9 95.9L490.6 95.9L491.3 95.9L492.0 95.9L492.7 95.9L493.4 95.8L494.1 95.8L494.8 95.8L495.5 95.8L496.2 95.8L496.9 95.8L497.6 95.8L498.3 95.7L499.0 95.7L499.7 95.7L500.4 95.7L501.1 95.7L501.8 95.6L502.5 95.6L503.2 95.6L503.9 95.5L504.6 95.5L505.3 95.5L506.0 95.5L506.7 95.4L507.4 95.4L508.1 95.4L508.8 95.3L509.5 95.2L510.2 94.9L510.9 94.7L511.6 94.4L512.3 94.3L513.0 94.1L513.7 94.0L514.4 94.0L515.1 94.2L515.8 94.0L516.5 94.0L517.2 94.0L517.9 94.0L518.6 94.0L519.3 94.0L520.0 94.0L520.7 94.0L521.4 94.0L522.1 94.1L522.8 94.1L523.5 94.1L524.2 94.1L524.9 94.1L525.6 94.1L526.3 94.2L527.0 94.2L527.7 94.2L528.4 94.2L528.8 94.3L529.0 94.3L529.1 94.3L529.3 94.3L529.5 94.3L529.8 94.3L529.8 94.3L530.0 94.3L530.3 94.3L530.3 96.0L530.0 96.2L529.8 96.4L529.8 96.4L529.5 96.6L529.3 96.8L529.1 96.9L529.0 96.9L528.8 97.1L528.4 97.3L527.7 97.5L527.0 97.7L526.3 97.8L525.6 97.9L524.9 98.0L524.2 98.1L523.5 98.2L522.8 98.3L522.1 98.3L521.4 98.4L520.7 98.5L520.0 98.5L519.3 98.6L518.6 98.6L517.9 98.7L517.2 98.7L516.5 98.8L515.8 98.8L515.1 98.9L514.4 99.0L513.7 99.0L513.0 99.1L512.3 99.1L511.6 99.2L510.9 99.2L510.2 99.3L509.5 99.3L508.8 99.4L508.1 99.4L507.4 99.5L506.7 99.5L506.0 99.5L505.3 99.6L504.6 99.6L503.9 99.6L503.2 99.6L502.5 99.6L501.8 99.7L501.1 99.7L500.4 99.7L499.7 99.7L499.0 99.7L498.3 99.7L497.6 99.7L496.9 99.7L496.2 99.8L495.5 99.8L494.8 99.8L494.1 99.8L493.4 99.8L492.7 99.8L492.0 99.8L491.3 99.8L490.6 99.8L489.9 99.8L489.2 99.8L488.5 99.8L487.8 99.8L487.1 99.8L486.4 99.8L485.7 99.8L485.0 99.8L484.3 99.8L483.6 99.8L482.9 99.8L482.2 99.8L481.5 99.8L480.8 99.8L480.1 99.8L479.4 99.8L478.7 99.8L478.0 99.8L477.3 99.8L476.6 99.8L475.9 99.8L475.2 99.8L474.5 99.8L473.8 99.8L473.1 99.9L472.4 99.9L471.7 99.9L471.0 99.9L470.3 99.9L469.6 99.9L468.9 99.9L468.2 99.9L467.5 99.9L466.8 99.9L466.1 100.0L465.4 100.0L464.7 100.0L464.0 100.0L463.3 100.0L462.6 100.0L461.9 100.1L461.2 100.1L460.5 100.1L459.8 100.1L459.1 100.1L458.4 100.1L457.7 100.2L457.0 100.2L456.3 100.2L455.6 100.2L454.9 100.3L454.2 100.3L453.5 100.3L452.8 100.4L452.1 100.4L451.4 100.4L450.7 100.5L450.0 100.5L449.3 100.5L448.6 100.6L447.9 100.6L447.2 100.6L446.5 100.7L445.8 100.7L445.1 100.8L444.4 100.8L443.7 100.8L443.0 100.9L442.3 100.9L441.6 101.0L440.9 101.0L440.2 101.1L439.5 101.1L438.8 101.2L438.1 101.3L437.4 101.3L436.7 101.4L436.0 101.5L435.3 101.5L434.6 101.6L433.9 101.7L433.2 101.8L432.5 101.9L431.8 102.0L431.1 102.0L430.4 102.1L429.7 102.2L429.0 102.4L428.3 102.5L427.6 102.6L426.9 102.7L426.2 102.9L425.5 103.0L424.8 103.1L424.1 103.3L423.4 103.5L422.7 103.7L422.0 104.0L421.3 104.3L420.6 104.6L419.9 104.9L419.2 105.3L418.5 105.8L417.8 106.3L417.1 106.8L416.4 107.3L415.7 107.7L415.0 108.0L414.3 108.3L413.6 108.5L412.9 108.6L412.2 108.7L411.5 108.8L410.8 108.8L410.1 108.9L409.4 108.9L408.7 108.9L408.0 109.0L407.3 109.1L406.7 109.1L406.6 109.1L406.4 109.0L406.2 109.0L405.9 108.9L405.9 108.9L405.7 108.9L405.4 108.8L405.2 108.8Z" stroke="#00ff00"/>
<path d="M405.2 108.8L405.4 106.3L405.7 105.2L405.9 104.5L405.9 104.4L406.2 103.9L406.4 103.4L406.6 103.2L406.7 103.0L407.3 102.4L408.0 101.9L408.7 101.5L409.4 101.1L410.1 100.9L410.8 100.6L411.5 100.4L412.2 100.3L412.9 100.1L413.6 99.9L414.3 99.8L415.0 99.7L415.7 99.6L416.4 99.4L417.1 99.3L417.8 99.2L418.5 99.1L419.2 99.0L419.9 98.9L420.6 98.8L421.3 98.8L422.0 98.7L422.7 98.6L423.4 98.6L424.1 98.5L424.8 98.5L425.5 98.4L426.2 98.4L426.9 98.3L427.6 98.3L428.3 98.2L429.0 98.2L429.7 98.1L430.4 98.1L431.1 98.0L431.8 98.0L432.5 97.9L433.2 97.9L433.9 97.8L434.6 97.8L435.3 97.7L436.0 97.7L436.7 97.6L437.4 97.6L438.1 97.5L438.8 97.5L439.5 97.4L440.2 97.4L440.9 97.3L441.6 97.3L442.3 97.3L443.0 97.2L443.7 97.2L444.4 97.1L445.1 97.1L445.8 97.0L446.5 97.0L447.2 97.0L447.9 96.9L448.6 96.9L449.3 96.8L450.0 96.8L450.7 96.8L451.4 96.7L452.1 96.7L452.8 96.7L453.5 96.6L454.2 96.6L454.9 96.6L455.6 96.6L456.3 96.5L457.0 96.5L457.7 96.5L458.4 96.4L459.1 96.4L459.8 96.3L460.5 96.3L461.2 96.2L461.9 96.1L462.6 96.0L463.3 95.8L464.0 95.6L464.7 95.3L465.4 95.4L466.1 95.6L466.8 95.9L467.5 96.0L468.2 96.0L468.9 96.1L469.6 96.1L470.3 96.1L471.0 96.1L471.7 96.1L472.4 96.1L473.1 96.1L473.8 96.1L474.5 96.1L475.2 96.1L475.9 96.1L476.6 96.0L477.3 96.0L478.0 96.0L478.7 96.0L479.4 96.0L480.1 96.0L480.8 96.0L481.5 96.0L482.2 96.0L482.9 96.0L483.6 96.0L484.3 96.0L485.0 96.0L485.7 95.9L486.4 95.9L487.1 95.9L487.8 95.9L488.5 95.9L489.2 95.9L489.9 95.9L490.6 95.9L491.3 95.9L492.0 95.9L492.7 95.9L493.4 95.8L494.1 95.8L494.8 95.8L495.5 95.8L496.2 95.8L496.9 95.8L497.6 95.8L498.3 95.7L499.0 95.7L499.7 95.7L500.4 95.7L501.1 95.7L501.8 95.6L502.5 95.6L503.2 95.6L503.9 95.5L504.6 95.5L505.3 95.5L506.0 95.5L506.7 95.4L507.4 95.4L508.1 95.3L508.8 95.3L509.5 95.1L510.2 94.7L510.9 94.3L511.6 93.9L512.3 93.7L513.0 93.5L513.7 93.3L514.4 93.3L515.1 93.8L515.8 93.8L516.5 93.8L517.2 93.8L517.9 93.8L518.6 93.8L519.3 93.8L520.0 93.8L520.7 93.8L521.4 93.8L522.1 93.8L522.8 93.9L523.5 93.9L524.2 93.9L524.9 93.9L525.6 93.9L526.3 94.0L527.0 94.0L527.7 94.0L528.4 94.0L528.8 94.0L529.0 94.1L529.1 94.1L529.3 94.1L529.5 94.1L529.8 94.1L529.8 94.1L530.0 94.1L530.3 94.1L530.3 95.5L530.0 95.7L529.8 95.9L529.8 95.9L529.5 96.1L529.3 96.3L529.1 96.4L529.0 96.5L528.8 96.6L528.4 96.8L527.7 97.1L527.0 97.2L526.3 97.4L525.6 97.5L524.9 97.6L524.2 97.7L523.5 97.8L522.8 97.9L522.1 98.0L521.4 98.1L520.7 98.1L520.0 98.2L519.3 98.3L518.6 98.4L517.9 98.4L517.2 98.5L516.5 98.6L515.8 98.6L515.1 98.7L514.4 98.8L513.7 98.8L513.0 98.9L512.3 99.0L511.6 99.1L510.9 99.1L510.2 99.2L509.5 99.2L508.8 99.3L508.1 99.4L507.4 99.4L506.7 99.5L506.0 99.5L505.3 99.6L504.6 99.6L503.9 99.6L503.2 99.6L502.5 99.6L501.8 99.7L501.1 99.7L500.4 99.7L499.7 99.7L499.0 99.7L498.3 99.7L497.6 99.7L496.9 99.7L496.2 99.8L495.5 99.8L494.8 99.8L494.1 99.8L493.4 99.8L492.7 99.8L492.0 99.8L491.3 99.8L490.6 99.8L489.9 99.8L489.2 99.8L488.5 99.8L487.8 99.8L487.1 99.8L486.4 99.8L485.7 99.8L485.0 99.8L484.3 99.8L483.6 99.8L482.9 99.8L482.2 99.8L481.5 99.8L480.8 99.8L480.1 99.8L479.4 99.8L478.7 99.8L478.0 99.8L477.3 99.8L476.6 99.8L475.9 99.8L475.2 99.8L474.5 99.8L473.8 99.8L473.1 99.9L472.4 99.9L471.7 99.9L471.0 99.9L470.3 99.9L469.6 99.9L468.9 99.9L468.2 99.9L467.5 99.9L466.8 99.9L466.1 100.0L465.4 100.0L464.7 100.0L464.0 100.0L463.3 100.0L462.6 100.0L461.9 100.1L461.2 100.1L460.5 100.1L459.8 100.1L459.1 100.1L458.4 100.1L457.7 100.2L457.0 100.2L456.3 100.2L455.6 100.2L454.9 100.3L454.2 100.3L453.5 100.3L452.8 100.4L452.1 100.4L451.4 100.4L450.7 100.5L450.0 100.5L449.3 100.5L448.6 100.6L447.9 100.6L447.2 100.6L446.5 100.7L445.8 100.7L445.1 100.8L444.4 100.8L443.7 100.8L443.0 100.9L442.3 100.9L441.6 101.0L440.9 101.0L440.2 101.1L439.5 101.1L438.8 101.2L438.1 101.3L437.4 101.3L436.7 101.4L436.0 101.5L435.3 101.5L434.6 101.6L433.9 101.7L433.2 101.8L432.5 101.9L431.8 102.0L431.1 102.0L430.4 102.1L429.7 102.2L429.0 102.4L428.3 102.5L427.6 102.6L426.9 102.7L426.2 102.9L425.5 103.0L424.8 103.1L424.1 103.3L423.4 103.5L422.7 103.7L422.0 104.0L421.3 104.3L420.6 104.6L419.9 104.9L419.2 105.3L418.5 105.8L417.8 106.3L417.1 106.8L416.4 107.3L415.7 107.7L415.0 108.0L414.3 108.3L413.6 108.5L412.9 108.6L412.2 108.7L411.5 108.8L410.8 108.8L410.1 108.9L409.4 108.9L408.7 108.9L408.0 109.0L407.3 109.1L406.7 109.1L406.6 109.1L406.4 109.0L406.2 109.0L405.9 108.9L405.9 108.9L405.7 108.9L405.4 108.8L405.2 108.8Z" stroke="#0000ff"/>
<path d="M405.2 108.8L405.4 106.3L405.7 105.2L405.9 104.5L405.9 104.4L406.2 103.9L406.4 103.4L406.6 103.2L406.7 103.0L407.3 102.4L408.0 101.9L408.7 101.5L409.4 101.1L410.1 100.9L410.8 100.6L411.5 100.4L412.2 100.3L412.9 100.1L413.6 99.9L414.3 99.8L415.0 99.7L415.7 99.6L416.4 99.4L417.1 99.3L417.8 99.2L418.5 99.1L419.2 99.0L419.9 98.9L420.6 98.8L421.3 98.8L422.0 98.7L422.7 98.6L423.4 98.6L424.1 98.5L424.8 98.5L425.5 98.4L426.2 98.4L426.9 98.3L427.6 98.3L428.3 98.2L429.0 98.2L429.7 98.1L430.4 98.1L431.1 98.0L431.8 98.0L432.5 97.9L433.2 97.9L433.9 97.8L434.6 97.8L435.3 97.7L436.0 97.7L436.7 97.6L437.4 97.6L438.1 97.5L438.8 97.5L439.5 97.4L440.2 97.4L440.9 97.3L441.6 97.3L442.3 97.3L443.0 97.2L443.7 97.2L444.4 97.1L445.1 97.1L445.8 97.0L446.5 97.0L447.2 97.0L447.9 96.9L448.6 96.9L449.3 96.8L450.0 96.8L450.7 96.8L451.4 96.7L452.1 96.7L452.8 96.7L453.5 96.6L454.2 96.6L454.9 96.6L455.6 96.6L456.3 96.5L457.0 96.5L457.7 96.5L458.4 96.4L459.1 96.4L459.8 96.3L460.5 96.3L461.2 96.2L461.9 96.1L462.6 96.0L463.3 95.8L464.0 95.6L464.7 95.3L465.4 95.4L466.1 95.6L466.8 95.9L467.5 96.0L468.2 96.0L468.9 96.1L469.6 96.1L470.3 96.1L471.0 96.1L471.7 96.1L472.4 96.1L473.1 96.1L473.8 96.1L474.5 96.1L475.2 96.1L475.9 96.1L476.6 96.0L477.3 96.0L478.0 96.0L478.7 96.0L479.4 96.0L480.1 96.0L480.8 96.0L481.5 96.0L482.2 96.0L482.9 96.0L483.6 96.0L484.3 96.0L485.0 96.0L485.7 95.9L486.4 95.9L487.1 95.9L487.8 95.9L488.5 95.9L489.2 95.9L489.9 95.9L490.6 95.9L491.3 95.9L492.0 95.9L492.7 95.9L493.4 95.8L494.1 95.8L494.8 95.8L495.5 95.8L496.2 95.8L496.9 95.8L497.6 95.8L498.3 95.7L499.0 95.7L499.7 95.7L500.4 95.7L501.1 95.7L501.8 95.6L502.5 95.6L503.2 95.6L503.9 95.5L504.6 95.5L505.3 95.5L506.0 95.4L506.7 95.4L507.4 95.3L508.1 95.2L508.8 94.9L509.5 94.3L510.2 93.6L510.9 92.9L511.6 92.5L512.3 92.1L513.0 91.7L513.7 91.4L514.4 91.5L515.1 92.5L515.8 93.3L516.5 93.4L517.2 93.6L517.9 93.6L518.6 93.6L519.3 93.6L520.0 93.6L520.7 93.6L521.4 93.6L522.1 93.6L522.8 93.6L523.5 93.7L524.2 93.7L524.9 93.7L525.6 93.7L526.3 93.7L527.0 93.8L527.7 93.8L528.4 93.8L528.8 93.8L529.0 93.8L529.1 93.8L529.3 93.9L529.5 93.9L529.8 93.9L529.8 93.9L530.0 93.9L530.3 93.9L530.3 94.5L530.0 94.7L529.8 94.9L529.8 94.9L529.5 95.1L529.3 95.3L529.1 95.5L529.0 95.5L528.8 95.7L528.4 95.9L527.7 96.2L527.0 96.4L526.3 96.6L525.6 96.7L524.9 96.8L524.2 97.0L523.5 97.1L522.8 97.2L522.1 97.3L521.4 97.4L520.7 97.5L520.0 97.6L519.3 97.7L518.6 97.8L517.9 97.9L517.2 98.0L516.5 98.1L515.8 98.2L515.1 98.3L514.4 98.4L513.7 98.5L513.0 98.6L512.3 98.7L511.6 98.8L510.9 98.9L510.2 99.0L509.5 99.1L508.8 99.1L508.1 99.2L507.4 99.3L506.7 99.4L506.0 99.5L505.3 99.6L504.6 99.6L503.9 99.6L503.2 99.6L502.5 99.6L501.8 99.7L501.1 99.7L500.4 99.7L499.7 99.7L499.0 99.7L498.3 99.7L497.6 99.7L496.9 99.7L496.2 99.8L495.5 99.8L494.8 99.8L494.1 99.8L493.4 99.8L492.7 99.8L492.0 99.8L491.3 99.8L490.6 99.8L489.9 99.8L489.2 99.8L488.5 99.8L487.8 99.8L487.1 99.8L486.4 99.8L485.7 99.8L485.0 99.8L484.3 99.8L483.6 99.8L482.9 99.8L482.2 99.8L481.5 99.8L480.8 99.8L480.1 99.8L479.4 99.8L478.7 99.8L478.0 99.8L477.3 99.8L476.6 99.8L475.9 99.8L475.2 99.8L474.5 99.8L473.8 99.8L473.1 99.9L472.4 99.9L471.7 99.9L471.0 99.9L470.3 99.9L469.6 99.9L468.9 99.9L468.2 99.9L467.5 99.9L466.8 99.9L466.1 100.0L465.4 100.0L464.7 100.0L464.0 100.0L463.3 100.0L462.6 100.0L461.9 100.1L461.2 100.1L460.5 100.1L459.8 100.1L459.1 100.1L458.4 100.1L457.7 100.2L457.0 100.2L456.3 100.2L455.6 100.2L454.9 100.3L454.2 100.3L453.5 100.3L452.8 100.4L452.1 100.4L451.4 100.4L450.7 100.5L450.0 100.5L449.3 100.5L448.6 100.6L447.9 100.6L447.2 100.6L446.5 100.7L445.8 100.7L445.1 100.8L444.4 100.8L443.7 100.8L443.0 100.9L442.3 100.9L441.6 101.0L440.9 101.0L440.2 101.1L439.5 101.1L438.8 101.2L438.1 101.3L437.4 101.3L436.7 101.4L436.0 101.5L435.3 101.5L434.6 101.6L433.9 101.7L433.2 101.8L432.5 101.9L431.8 102.0L431.1 102.0L430.4 102.1L429.7 102.2L429.0 102.4L428.3 102.5L427.6 102.6L426.9 102.7L426.2 102.9L425.5 103.0L424.8 103.1L424.1 103.3L423.4 103.5L422.7 103.7L422.0 104.0L421.3 104.3L420.6 104.6L419.9 104.9L419.2 105.3L418.5 105.8L417.8 106.3L417.1 106.8L416.4 107.3L415.7 107.7L415.0 108.0L414.3 108.3L413.6 108.5L412.9 108.6L412.2 108.7L411.5 108.8L410.8 108.8L410.1 108.9L409.4 108.9L408.7 108.9L408.0 109.0L407.3 109.1L406.7 109.1L406.6 109.1L406.4 109.0L406.2 109.0L405.9 108.9L405.9 108.9L405.7 108.9L405.4 108.8L405.2 108.8Z" stroke="#00ffff"/>
<path d="M405.2 108.8L405.4 106.3L405.7 105.2L405.9 104.5L405.9 104.4L406.2 103.9L406.4 103.4L406.6 103.2L406.7 103.0L407.3 102.4L408.0 101.9L408.7 101.5L409.4 101.1L410.1 100.9L410.8 100.6L411.5 100.4L412.2 100.3L412.9 100.1L413.6 99.9L414.3 99.8L415.0 99.7L415.7 99.6L416.4 99.4L417.1 99.3L417.8 99.2L418.5 99.1L419.2 99.0L419.9 98.9L420.6 98.8L421.3 98.8L422.0 98.7L422.7 98.6L423.4 98.6L424.1 98.5L424.8 98.5L425.5 98.4L426.2 98.4L426.9 98.3L427.6 98.3L428.3 98.2L429.0 98.2L429.7 98.1L430.4 98.1L431.1 98.0L431.8 98.0L432.5 97.9L433.2 97.9L433.9 97.8L434.6 97.8L435.3 97.7L436.0 97.7L436.7 97.6L437.4 97.6L438.1 97.5L438.8 97.5L439.5 97.4L440.2 97.4L440.9 97.3L441.6 97.3L442.3 97.3L443.0 97.2L443.7 97.2L444.4 97.1L445.1 97.1L445.8 97.0L446.5 97.0L447.2 97.0L447.9 96.9L448.6 96.9L449.3 96.8L450.0 96.8L450.7 96.8L451.4 96.7L452.1 96.7L452.8 96.7L453.5 96.6L454.2 96.6L454.9 96.6L455.6 96.6L456.3 96.5L457.0 96.5L457.7 96.5L458.4 96.4L459.1 96.4L459.8 96.3L460.5 96.3L461.2 96.2L461.9 96.1L462.6 96.0L463.3 95.8L464.0 95.6L464.7 95.3L465.4 95.4L466.1 95.6L466.8 95.9L467.5 96.0L468.2 96.0L468.9 96.1L469.6 96.1L470.3 96.1L471.0 96.1L471.7 96.1L472.4 96.1L473.1 96.1L473.8 96.1L474.5 96.1L475.2 96.1L475.9 96.1L476.6 96.0L477.3 96.0L478.0 96.0L478.7 96.0L479.4 96.0L480.1 96.0L480.8 96.0L481.5 96.0L482.2 96.0L482.9 96.0L483.6 96.0L484.3 96.0L485.0 96.0L485.7 95.9L486.4 95.9L487.1 95.9L487.8 95.9L488.5 95.9L489.2 95.9L489.9 95.9L490.6 95.9L491.3 95.9L492.0 95.9L492.7 95.9L493.4 95.8L494.1 95.8L494.8 95.8L495.5 95.8L496.2 95.8L496.9 95.8L497.6 95.8L498.3 95.7L499.0 95.7L499.7 95.7L500.4 95.7L501.1 95.7L501.8 95.6L502.5 95.6L503.2 95.6L503.9 95.5L504.6 95.5L505.3 95.5L506.0 95.4L506.7 95.3L507.4 95.2L508.1 95.0L508.8 94.4L509.5 93.0L510.2 91.4L510.9 89.8L511.6 88.8L512.3 88.0L513.0 87.2L513.7 86.5L514.4 86.2L515.1 87.5L515.8 90.6L516.5 92.2L517.2 92.7L517.9 93.0L518.6 93.0L519.3 93.0L520.0 93.0L520.7 93.0L521.4 93.0L522.1 93.0L522.8 93.0L523.5 93.0L524.2 93.0L524.9 93.1L525.6 93.1L526.3 93.1L527.0 93.1L527.7 93.1L528.4 93.2L528.8 93.2L529.0 93.2L529.1 93.2L529.3 93.2L529.5 93.2L529.8 93.2L529.8 93.2L530.0 93.2L530.3 93.3L530.3 93.5L530.0 93.7L529.8 93.9L529.8 93.9L529.5 94.2L529.3 94.4L529.1 94.5L529.0 94.6L528.8 94.7L528.4 95.0L527.7 95.3L527.0 95.5L526.3 95.7L525.6 95.9L524.9 96.1L524.2 96.2L523.5 96.4L522.8 96.5L522.1 96.6L521.4 96.8L520.7 96.9L520.0 97.0L519.3 97.2L518.6 97.3L517.9 97.4L517.2 97.5L516.5 97.7L515.8 97.8L515.1 97.9L514.4 98.1L513.7 98.2L513.0 98.4L512.3 98.5L511.6 98.7L510.9 98.9L510.2 99.0L509.5 99.1L508.8 99.3L508.1 99.4L507.4 99.5L506.7 99.6L506.0 99.6L505.3 99.7L504.6 99.8L503.9 99.8L503.2 99.8L502.5 99.8L501.8 99.8L501.1 99.8L500.4 99.8L499.7 99.8L499.0 99.8L498.3 99.8L497.6 99.8L496.9 99.8L496.2 99.8L495.5 99.8L494.8 99.8L494.1 99.8L493.4 99.8L492.7 99.8L492.0 99.8L491.3 99.8L490.6 99.8L489.9 99.8L489.2 99.8L488.5 99.8L487.8 99.8L487.1 99.8L486.4 99.8L485.7 99.8L485.0 99.8L484.3 99.8L483.6 99.8L482.9 99.8L482.2 99.8L481.5 99.8L480.8 99.8L480.1 99.8L479.4 99.8L478.7 99.8L478.0 99.8L477.3 99.8L476.6 99.8L475.9 99.8L475.2 99.8L474.5 99.8L473.8 99.8L473.1 99.9L472.4 99.9L471.7 99.9L471.0 99.9L470.3 99.9L469.6 99.9L468.9 99.9L468.2 99.9L467.5 99.9L466.8 99.9L466.1 100.0L465.4 100.0L464.7 100.0L464.0 100.0L463.3 100.0L462.6 100.0L461.9 100.1L461.2 100.1L460.5 100.1L459.8 100.1L459.1 100.1L458.4 100.1L457.7 100.2L457.0 100.2L456.3 100.2L455.6 100.2L454.9 100.3L454.2 100.3L453.5 100.3L452.8 100.4L452.1 100.4L451.4 100.4L450.7 100.5L450.0 100.5L449.3 100.5L448.6 100.6L447.9 100.6L447.2 100.6L446.5 100.7L445.8 100.7L445.1 100.8L444.4 100.8L443.7 100.8L443.0 100.9L442.3 100.9L441.6 101.0L440.9 101.0L440.2 101.1L439.5 101.1L438.8 101.2L438.1 101.3L437.4 101.3L436.7 101.4L436.0 101.5L435.3 101.5L434.6 101.6L433.9 101.7L433.2 101.8L432.5 101.9L431.8 102.0L431.1 102.0L430.4 102.1L429.7 102.2L429.0 102.4L428.3 102.5L427.6 102.6L426.9 102.7L426.2 102.9L425.5 103.0L424.8 103.1L424.1 103.3L423.4 103.5L422.7 103.7L422.0 104.0L421.3 104.3L420.6 104.6L419.9 104.9L419.2 105.3L418.5 105.8L417.8 106.3L417.1 106.8L416.4 107.3L415.7 107.7L415.0 108.0L414.3 108.3L413.6 108.5L412.9 108.6L412.2 108.7L411.5 108.8L410.8 108.8L410.1 108.9L409.4 108.9L408.7 108.9L408.0 109.0L407.3 109.1L406.7 109.1L406.6 109.1L406.4 109.0L406.2 109.0L405.9 108.9L405.9 108.9L405.7 108.9L405.4 108.8L405.2 108.8Z" stroke="#ff00ff"/>
<path d="M405.2 108.8L405.4 106.3L405.7 105.2L405.9 104.5L405.9 104.4L406.2 103.9L406.4 103.4L406.6 103.2L406.7 103.0L407.3 102.4L408.0 101.9L408.7 101.5L409.4 101.1L410.1 100.9L410.8 100.6L411.5 100.4L412.2 100.3L412.9 100.1L413.6 99.9L414.3 99.8L415.0 99.7L415.7 99.6L416.4 99.4L417.1 99.3L417.8 99.2L418.5 99.1L419.2 99.0L419.9 98.9L420.6 98.8L421.3 98.8L422.0 98.7L422.7 98.6L423.4 98.6L424.1 98.5L424.8 98.5L425.5 98.4L426.2 98.4L426.9 98.3L427.6 98.3L428.3 98.2L429.0 98.2L429.7 98.1L430.4 98.1L431.1 98.0L431.8 98.0L432.5 97.9L433.2 97.9L433.9 97.8L434.6 97.8L435.3 97.7L436.0 97.7L436.7 97.6L437.4 97.6L438.1 97.5L438.8 97.5L439.5 97.4L440.2 97.4L440.9 97.3L441.6 97.3L442.3 97.3L443.0 97.2L443.7 97.2L444.4 97.1L445.1 97.1L445.8 97.0L446.5 97.0L447.2 97.0L447.9 96.9L448.6 96.9L449.3 96.8L450.0 96.8L450.7 96.8L451.4 96.7L452.1 96.7L452.8 96.7L453.5 96.6L454.2 96.6L454.9 96.6L455.6 96.6L456.3 96.5L457.0 96.5L457.7 96.5L458.4 96.4L459.1 96.4L459.8 96.3L460.5 96.3L461.2 96.2L461.9 96.1L462.6 96.0L463.3 95.8L464.0 95.6L464.7 95.3L465.4 95.4L466.1 95.6L466.8 95.9L467.5 96.0L468.2 96.0L468.9 96.1L469.6 96.1L470.3 96.1L471.0 96.1L471.7 96.1L472.4 96.1L473.1 96.1L473.8 96.1L474.5 96.1L475.2 96.1L475.9 96.1L476.6 96.0L477.3 96.0L478.0 96.0L478.7 96.0L479.4 96.0L480.1 96.0L480.8 96.0L481.5 96.0L482.2 96.0L482.9 96.0L483.6 96.0L484.3 96.0L485.0 96.0L485.7 95.9L486.4 95.9L487.1 95.9L487.8 95.9L488.5 95.9L489.2 95.9L489.9 95.9L490.6 95.9L491.3 95.9L492.0 95.9L492.7 95.9L493.4 95.8L494.1 95.8L494.8 95.8L495.5 95.8L496.2 95.8L496.9 95.8L497.6 95.8L498.3 95.7L499.0 95.7L499.7 95.7L500.4 95.7L501.1 95.7L501.8 95.6L502.5 95.6L503.2 95.6L503.9 95.5L504.6 95.5L505.3 95.5L506.0 95.4L506.7 95.4L507.4 95.4L508.1 95.3L508.8 95.2L509.5 95.1L510.2 94.9L510.9 94.4L511.6 92.9L512.3 89.5L513.0 85.5L513.7 81.4L514.4 79.0L515.1 77.2L515.8 75.3L516.5 73.4L517.2 72.8L517.9 76.0L518.6 83.7L519.3 87.5L520.0 88.7L520.7 89.3L521.4 89.3L522.1 89.3L522.8 89.4L523.5 89.4L524.2 89.4L524.9 89.4L525.6 89.4L526.3 89.5L527.0 89.5L527.7 89.5L528.4 89.5L528.8 89.6L529.0 89.6L529.1 89.6L529.3 89.6L529.5 89.6L529.8 89.6L529.8 89.6L530.0 89.6L530.3 89.6L530.3 91.0L530.0 91.3L529.8 91.5L529.8 91.5L529.5 91.7L529.3 92.0L529.1 92.1L529.0 92.2L528.8 92.4L528.4 92.7L527.7 93.0L527.0 93.3L526.3 93.6L525.6 93.9L524.9 94.1L524.2 94.3L523.5 94.5L522.8 94.7L522.1 94.9L521.4 95.1L520.7 95.3L520.0 95.5L519.3 95.7L518.6 95.9L517.9 96.1L517.2 96.3L516.5 96.5L515.8 96.7L515.1 96.9L514.4 97.2L513.7 97.4L513.0 97.7L512.3 97.9L511.6 98.2L510.9 98.5L510.2 98.7L509.5 99.0L508.8 99.1L508.1 99.3L507.4 99.5L506.7 99.6L506.0 99.8L505.3 99.9L504.6 100.0L503.9 99.9L503.2 99.9L502.5 99.9L501.8 99.9L501.1 99.9L500.4 99.9L499.7 99.9L499.0 99.9L498.3 99.9L497.6 99.9L496.9 99.9L496.2 99.9L495.5 99.9L494.8 99.9L494.1 99.9L493.4 99.8L492.7 99.8L492.0 99.8L491.3 99.8L490.6 99.8L489.9 99.8L489.2 99.8L488.5 99.8L487.8 99.8L487.1 99.8L486.4 99.8L485.7 99.8L485.0 99.8L484.3 99.8L483.6 99.8L482.9 99.8L482.2 99.8L481.5 99.8L480.8 99.8L480.1 99.8L479.4 99.8L478.7 99.8L478.0 99.8L477.3 99.8L476.6 99.8L475.9 99.8L475.2 99.8L474.5 99.8L473.8 99.8L473.1 99.9L472.4 99.9L471.7 99.9L471.0 99.9L470.3 99.9L469.6 99.9L468.9 99.9L468.2 99.9L467.5 99.9L466.8 99.9L466.1 100.0L465.4 100.0L464.7 100.0L464.0 100.0L463.3 100.0L462.6 100.0L461.9 100.1L461.2 100.1L460.5 100.1L459.8 100.1L459.1 100.1L458.4 100.1L457.7 100.2L457.0 100.2L456.3 100.2L455.6 100.2L454.9 100.3L454.2 100.3L453.5 100.3L452.8 100.4L452.1 100.4L451.4 100.4L450.7 100.5L450.0 100.5L449.3 100.5L448.6 100.6L447.9 100.6L447.2 100.6L446.5 100.7L445.8 100.7L445.1 100.8L444.4 100.8L443.7 100.8L443.0 100.9L442.3 100.9L441.6 101.0L440.9 101.0L440.2 101.1L439.5 101.1L438.8 101.2L438.1 101.3L437.4 101.3L436.7 101.4L436.0 101.5L435.3 101.5L434.6 101.6L433.9 101.7L433.2 101.8L432.5 101.9L431.8 102.0L431.1 102.0L430.4 102.1L429.7 102.2L429.0 102.4L428.3 102.5L427.6 102.6L426.9 102.7L426.2 102.9L425.5 103.0L424.8 103.1L424.1 103.3L423.4 103.5L422.7 103.7L422.0 104.0L421.3 104.3L420.6 104.6L419.9 104.9L419.2 105.3L418.5 105.8L417.8 106.3L417.1 106.8L416.4 107.3L415.7 107.7L415.0 108.0L414.3 108.3L413.6 108.5L412.9 108.6L412.2 108.7L411.5 108.8L410.8 108.8L410.1 108.9L409.4 108.9L408.7 108.9L408.0 109.0L407.3 109.1L406.7 109.1L406.6 109.1L406.4 109.0L406.2 109.0L405.9 108.9L405.9 108.9L405.7 108.9L405.4 108.8L405.2 108.8Z" stroke="#ffff00"/>
<path d="M405.2 108.8L405.4 106.3L405.7 105.2L405.9 104.5L405.9 104.4L406.2 103.9L406.4 103.4L406.6 103.2L406.7 103.0L407.3 102.4L408.0 101.9L408.7 101.5L409.4 101.1L410.1 100.9L410.8 100.6L411.5 100.4L412.2 100.3L412.9 100.1L413.6 99.9L414.3 99.8L415.0 99.7L415.7 99.6L416.4 99.4L417.1 99.3L417.8 99.2L418.5 99.1L419.2 99.0L419.9 98.9L420.6 98.8L421.3 98.8L422.0 98.7L422.7 98.6L423.4 98.6L424.1 98.5L424.8 98.5L425.5 98.4L426.2 98.4L426.9 98.3L427.6 98.3L428.3 98.2L429.0 98.2L429.7 98.1L430.4 98.1L431.1 98.0L431.8 98.0L432.5 97.9L433.2 97.9L433.9 97.8L434.6 97.8L435.3 97.7L436.0 97.7L436.7 97.6L437.4 97.6L438.1 97.5L438.8 97.5L439.5 97.4L440.2 97.4L440.9 97.3L441.6 97.3L442.3 97.3L443.0 97.2L443.7 97.2L444.4 97.1L445.1 97.1L445.8 97.0L446.5 97.0L447.2 97.0L447.9 96.9L448.6 96.9L449.3 96.8L450.0 96.8L450.7 96.8L451.4 96.7L452.1 96.7L452.8 96.7L453.5 96.6L454.2 96.6L454.9 96.6L455.6 96.6L456.3 96.5L457.0 96.5L457.7 96.5L458.4 96.4L459.1 96.4L459.8 96.3L460.5 96.3L461.2 96.2L461.9 96.1L462.6 96.0L463.3 95.8L464.0 95.6L464.7 95.3L465.4 95.4L466.1 95.6L466.8 95.9L467.5 96.0L468.2 96.0L468.9 96.1L469.6 96.1L470.3 96.1L471.0 96.1L471.7 96.1L472.4 96.1L473.1 96.1L473.8 96.1L474.5 96.1L475.2 96.1L475.9 96.1L476.6 96.0L477.3 96.0L478.0 96.0L478.7 96.0L479.4 96.0L480.1 96.0L480.8 96.0L481.5 96.0L482.2 96.0L482.9 96.0L483.6 96.0L484.3 96.0L485.0 96.0L485.7 95.9L486.4 95.9L487.1 95.9L487.8 95.9L488.5 95.9L489.2 95.9L489.9 95.9L490.6 95.9L491.3 95.9L492.0 95.9L492.7 95.9L493.4 95.8L494.1 95.8L494.8 95.8L495.5 95.8L496.2 95.8L496.9 95.8L497.6 95.8L498.3 95.7L499.0 95.7L499.7 95.7L500.4 95.7L501.1 95.7L501.8 95.6L502.5 95.6L503.2 95.6L503.9 95.5L504.6 95.5L505.3 95.4L506.0 95.4L506.7 95.3L507.4 95.2L508.1 95.1L508.8 94.9L509.5 94.5L510.2 93.6L510.9 91.7L511.6 87.8L512.3 83.5L513.0 78.9L513.7 74.9L514.4 72.7L515.1 70.7L515.8 68.6L516.5 66.4L517.2 64.8L517.9 65.0L518.6 69.2L519.3 77.8L520.0 84.1L520.7 86.1L521.4 87.3L522.1 87.8L522.8 87.9L523.5 87.9L524.2 87.9L524.9 87.9L525.6 87.9L526.3 88.0L527.0 88.0L527.7 88.0L528.4 88.0L528.8 88.1L529.0 88.1L529.1 88.1L529.3 88.1L529.5 88.1L529.8 88.1L529.8 88.1L530.0 88.1L530.3 88.1L530.3 90.5L530.0 90.8L529.8 91.0L529.8 91.0L529.5 91.3L529.3 91.5L529.1 91.7L529.0 91.7L528.8 91.9L528.4 92.2L527.7 92.6L527.0 92.9L526.3 93.2L525.6 93.5L524.9 93.7L524.2 93.9L523.5 94.2L522.8 94.4L522.1 94.6L521.4 94.8L520.7 95.0L520.0 95.2L519.3 95.5L518.6 95.7L517.9 95.9L517.2 96.1L516.5 96.3L515.8 96.5L515.1 96.8L514.4 97.0L513.7 97.3L513.0 97.6L512.3 97.9L511.6 98.2L510.9 98.6L510.2 98.9L509.5 99.1L508.8 99.3L508.1 99.5L507.4 99.6L506.7 99.8L506.0 99.9L505.3 100.1L504.6 100.1L503.9 100.1L503.2 100.1L502.5 100.1L501.8 100.0L501.1 100.0L500.4 100.0L499.7 100.0L499.0 100.0L498.3 100.0L497.6 100.0L496.9 99.9L496.2 99.9L495.5 99.9L494.8 99.9L494.1 99.9L493.4 99.9L492.7 99.9L492.0 99.9L491.3 99.8L490.6 99.8L489.9 99.8L489.2 99.8L488.5 99.8L487.8 99.8L487.1 99.8L486.4 99.8L485.7 99.8L485.0 99.8L484.3 99.8L483.6 99.8L482.9 99.8L482.2 99.8L481.5 99.8L480.8 99.8L480.1 99.8L479.4 99.8L478.7 99.8L478.0 99.8L477.3 99.8L476.6 99.8L475.9 99.8L475.2 99.8L474.5 99.8L473.8 99.8L473.1 99.9L472.4 99.9L471.7 99.9L471.0 99.9L470.3 99.9L469.6 99.9L468.9 99.9L468.2 99.9L467.5 99.9L466.8 99.9L466.1 100.0L465.4 100.0L464.7 100.0L464.0 100.0L463.3 100.0L462.6 100.0L461.9 100.1L461.2 100.1L460.5 100.1L459.8 100.1L459.1 100.1L458.4 100.1L457.7 100.2L457.0 100.2L456.3 100.2L455.6 100.2L454.9 100.3L454.2 100.3L453.5 100.3L452.8 100.4L452.1 100.4L451.4 100.4L450.7 100.5L450.0 100.5L449.3 100.5L448.6 100.6L447.9 100.6L447.2 100.6L446.5 100.7L445.8 100.7L445.1 100.8L444.4 100.8L443.7 100.8L443.0 100.9L442.3 100.9L441.6 101.0L440.9 101.0L440.2 101.1L439.5 101.1L438.8 101.2L438.1 101.3L437.4 101.3L436.7 101.4L436.0 101.5L435.3 101.5L434.6 101.6L433.9 101.7L433.2 101.8L432.5 101.9L431.8 102.0L431.1 102.0L430.4 102.1L429.7 102.2L429.0 102.4L428.3 102.5L427.6 102.6L426.9 102.7L426.2 102.9L425.5 103.0L424.8 103.1L424.1 103.3L423.4 103.5L422.7 103.7L422.0 104.0L421.3 104.3L420.6 104.6L419.9 104.9L419.2 105.3L418.5 105.8L417.8 106.3L417.1 106.8L416.4 107.3L415.7 107.7L415.0 108.0L414.3 108.3L413.6 108.5L412.9 108.6L412.2 108.7L411.5 108.8L410.8 108.8L410.1 108.9L409.4 108.9L408.7 108.9L408.0 109.0L407.3 109.1L406.7 109.1L406.6 109.1L406.4 109.0L406.2 109.0L405.9 108.9L405.9 108.9L405.7 108.9L405.4 108.8L405.2 108.8Z" stroke="#959500"/>
<path d="M405.2 108.8L405.4 106.3L405.7 105.2L405.9 104.5L405.9 104.4L406.2 103.9L406.4 103.4L406.6 103.2L406.7 103.0L407.3 102.4L408.0 101.9L408.7 101.5L409.4 101.1L410.1 100.9L410.8 100.6L411.5 100.4L412.2 100.3L412.9 100.1L413.6 99.9L414.3 99.8L415.0 99.7L415.7 99.6L416.4 99.4L417.1 99.3L417.8 99.2L418.5 99.1L419.2 99.0L419.9 98.9L420.6 98.8L421.3 98.8L422.0 98.7L422.7 98.6L423.4 98.6L424.1 98.5L424.8 98.5L425.5 98.4L426.2 98.4L426.9 98.3L427.6 98.3L428.3 98.2L429.0 98.2L429.7 98.1L430.4 98.1L431.1 98.0L431.8 98.0L432.5 97.9L433.2 97.9L433.9 97.8L434.6 97.8L435.3 97.7L436.0 97.7L436.7 97.6L437.4 97.6L438.1 97.5L438.8 97.5L439.5 97.4L440.2 97.4L440.9 97.3L441.6 97.3L442.3 97.3L443.0 97.2L443.7 97.2L444.4 97.1L445.1 97.1L445.8 97.0L446.5 97.0L447.2 97.0L447.9 96.9L448.6 96.9L449.3 96.8L450.0 96.8L450.7 96.8L451.4 96.7L452.1 96.7L452.8 96.7L453.5 96.6L454.2 96.6L454.9 96.6L455.6 96.6L456.3 96.5L457.0 96.5L457.7 96.5L458.4 96.4L459.1 96.4L459.8 96.3L460.5 96.3L461.2 96.2L461.9 96.1L462.6 96.0L463.3 95.8L464.0 95.6L464.7 95.3L465.4 95.4L466.1 95.6L466.8 95.9L467.5 96.0L468.2 96.0L468.9 96.1L469.6 96.1L470.3 96.1L471.0 96.1L471.7 96.1L472.4 96.1L473.1 96.1L473.8 96.1L474.5 96.1L475.2 96.1L475.9 96.1L476.6 96.0L477.3 96.0L478.0 96.0L478.7 96.0L479.4 96.0L480.1 96.0L480.8 96.0L481.5 96.0L482.2 96.0L482.9 96.0L483.6 96.0L484.3 96.0L485.0 96.0L485.7 95.9L486.4 95.9L487.1 95.9L487.8 95.9L488.5 95.9L489.2 95.9L489.9 95.9L490.6 95.9L491.3 95.9L492.0 95.9L492.7 95.9L493.4 95.8L494.1 95.8L494.8 95.8L495.5 95.8L496.2 95.8L496.9 95.8L497.6 95.8L498.3 95.7L499.0 95.7L499.7 95.7L500.4 95.7L501.1 95.6L501.8 95.6L502.5 95.6L503.2 95.5L503.9 95.5L504.6 95.4L505.3 95.3L506.0 95.2L506.7 95.1L507.4 94.9L508.1 94.7L508.8 94.3L509.5 93.2L510.2 91.3L510.9 87.3L511.6 82.9L512.3 78.0L513.0 73.2L513.7 69.7L514.4 67.5L515.1 65.4L515.8 63.2L516.5 60.9L517.2 58.9L517.9 57.8L518.6 59.5L519.3 65.0L520.0 74.6L520.7 81.5L521.4 84.1L522.1 85.5L522.8 86.6L523.5 86.6L524.2 86.6L524.9 86.6L525.6 86.7L526.3 86.7L527.0 86.7L527.7 86.7L528.4 86.8L528.8 86.8L529.0 86.8L529.1 86.8L529.3 86.8L529.5 86.8L529.8 86.8L529.8 86.8L530.0 86.8L530.3 86.8L530.3 90.0L530.0 90.3L529.8 90.5L529.8 90.5L529.5 90.8L529.3 91.0L529.1 91.2L529.0 91.2L528.8 91.4L528.4 91.7L527.7 92.1L527.0 92.5L526.3 92.8L525.6 93.0L524.9 93.3L524.2 93.6L523.5 93.8L522.8 94.0L522.1 94.3L521.4 94.5L520.7 94.7L520.0 95.0L519.3 95.2L518.6 95.4L517.9 95.6L517.2 95.8L516.5 96.1L515.8 96.3L515.1 96.6L514.4 96.9L513.7 97.3L513.0 97.6L512.3 98.0L511.6 98.4L510.9 98.9L510.2 99.3L509.5 99.5L508.8 99.7L508.1 99.9L507.4 100.1L506.7 100.2L506.0 100.3L505.3 100.5L504.6 100.5L503.9 100.4L503.2 100.4L502.5 100.3L501.8 100.3L501.1 100.3L500.4 100.2L499.7 100.2L499.0 100.2L498.3 100.1L497.6 100.1L496.9 100.1L496.2 100.1L495.5 100.0L494.8 100.0L494.1 100.0L493.4 99.9L492.7 99.9L492.0 99.9L491.3 99.9L490.6 99.8L489.9 99.8L489.2 99.8L488.5 99.8L487.8 99.8L487.1 99.8L486.4 99.8L485.7 99.8L485.0 99.8L484.3 99.8L483.6 99.8L482.9 99.8L482.2 99.8L481.5 99.8L480.8 99.8L480.1 99.8L479.4 99.8L478.7 99.8L478.0 99.8L477.3 99.8L476.6 99.8L475.9 99.8L475.2 99.8L474.5 99.8L473.8 99.8L473.1 99.9L472.4 99.9L471.7 99.9L471.0 99.9L470.3 99.9L469.6 99.9L468.9 99.9L468.2 99.9L467.5 99.9L466.8 99.9L466.1 100.0L465.4 100.0L464.7 100.0L464.0 100.0L463.3 100.0L462.6 100.0L461.9 100.1L461.2 100.1L460.5 100.1L459.8 100.1L459.1 100.1L458.4 100.1L457.7 100.2L457.0 100.2L456.3 100.2L455.6 100.2L454.9 100.3L454.2 100.3L453.5 100.3L452.8 100.4L452.1 100.4L451.4 100.4L450.7 100.5L450.0 100.5L449.3 100.5L448.6 100.6L447.9 100.6L447.2 100.6L446.5 100.7L445.8 100.7L445.1 100.8L444.4 100.8L443.7 100.8L443.0 100.9L442.3 100.9L441.6 101.0L440.9 101.0L440.2 101.1L439.5 101.1L438.8 101.2L438.1 101.3L437.4 101.3L436.7 101.4L436.0 101.5L435.3 101.5L434.6 101.6L433.9 101.7L433.2 101.8L432.5 101.9L431.8 102.0L431.1 102.0L430.4 102.1L429.7 102.2L429.0 102.4L428.3 102.5L427.6 102.6L426.9 102.7L426.2 102.9L425.5 103.0L424.8 103.1L424.1 103.3L423.4 103.5L422.7 103.7L422.0 104.0L421.3 104.3L420.6 104.6L419.9 104.9L419.2 105.3L418.5 105.8L417.8 106.3L417.1 106.8L416.4 107.3L415.7 107.7L415.0 108.0L414.3 108.3L413.6 108.5L412.9 108.6L412.2 108.7L411.5 108.8L410.8 108.8L410.1 108.9L409.4 108.9L408.7 108.9L408.0 109.0L407.3 109.1L406.7 109.1L406.6 109.1L406.4 109.0L406.2 109.0L405.9 108.9L405.9 108.9L405.7 108.9L405.4 108.8L405.2 108.8Z" stroke="#141490"/>
<path d="M405.2 108.8L405.4 106.3L405.7 105.2L405.9 104.5L405.9 104.4L406.2 103.9L406.4 103.4L406.6 103.2L406.7 103.0L407.3 102.4L408.0 101.9L408.7 101.5L409.4 101.1L410.1 100.9L410.8 100.6L411.5 100.4L412.2 100.3L412.9 100.1L413.6 99.9L414.3 99.8L415.0 99.7L415.7 99.6L416.4 99.4L417.1 99.3L417.8 99.2L418.5 99.1L419.2 99.0L419.9 98.9L420.6 98.8L421.3 98.8L422.0 98.7L422.7 98.6L423.4 98.6L424.1 98.5L424.8 98.5L425.5 98.4L426.2 98.4L426.9 98.3L427.6 98.3L428.3 98.2L429.0 98.2L429.7 98.1L430.4 98.1L431.1 98.0L431.8 98.0L432.5 97.9L433.2 97.9L433.9 97.8L434.6 97.8L435.3 97.7L436.0 97.7L436.7 97.6L437.4 97.6L438.1 97.5L438.8 97.5L439.5 97.4L440.2 97.4L440.9 97.3L441.6 97.3L442.3 97.3L443.0 97.2L443.7 97.2L444.4 97.1L445.1 97.1L445.8 97.0L446.5 97.0L447.2 97.0L447.9 96.9L448.6 96.9L449.3 96.8L450.0 96.8L450.7 96.8L451.4 96.7L452.1 96.7L452.8 96.7L453.5 96.6L454.2 96.6L454.9 96.6L455.6 96.6L456.3 96.5L457.0 96.5L457.7 96.5L458.4 96.4L459.1 96.4L459.8 96.3L460.5 96.3L461.2 96.2L461.9 96.1L462.6 96.0L463.3 95.8L464.0 95.6L464.7 95.3L465.4 95.4L466.1 95.6L466.8 95.9L467.5 96.0L468.2 96.0L468.9 96.1L469.6 96.1L470.3 96.1L471.0 96.1L471.7 96.1L472.4 96.1L473.1 96.1L473.8 96.1L474.5 96.1L475.2 96.1L475.9 96.1L476.6 96.0L477.3 96.0L478.0 96.0L478.7 96.0L479.4 96.0L480.1 96.0L480.8 96.0L481.5 96.0L482.2 96.0L482.9 96.0L483.6 96.0L484.3 96.0L485.0 96.0L485.7 96.0L486.4 95.9L487.1 95.9L487.8 95.9L488.5 95.9L489.2 95.9L489.9 95.9L490.6 95.9L491.3 95.9L492.0 95.9L492.7 95.8L493.4 95.8L494.1 95.8L494.8 95.8L495.5 95.8L496.2 95.7L496.9 95.7L497.6 95.7L498.3 95.6L499.0 95.6L499.7 95.5L500.4 95.5L501.1 95.4L501.8 95.2L502.5 95.1L503.2 95.0L503.9 94.8L504.6 94.6L505.3 94.4L506.0 94.1L506.7 93.6L507.4 92.9L508.1 91.5L508.8 89.4L509.5 86.8L510.2 82.0L510.9 76.8L511.6 71.6L512.3 66.0L513.0 60.0L513.7 54.3L514.4 48.7L515.1 44.8L515.8 41.9L516.5 39.5L517.2 37.0L517.9 34.5L518.6 31.8L519.3 29.0L520.0 26.3L520.7 23.7L521.4 21.7L522.1 20.7L522.8 21.2L523.5 24.5L524.2 30.4L524.9 39.7L525.6 51.0L526.3 60.3L527.0 65.6L527.7 68.2L528.4 70.0L528.8 70.9L529.0 71.4L529.1 71.5L529.3 71.9L529.5 72.5L529.8 73.0L529.8 73.0L530.0 73.5L530.3 74.0L530.3 79.3L530.0 79.9L529.8 80.6L529.8 80.6L529.5 81.1L529.3 81.7L529.1 82.1L529.0 82.2L528.8 82.7L528.4 83.3L527.7 84.4L527.0 85.4L526.3 86.4L525.6 87.3L524.9 88.2L524.2 89.0L523.5 89.8L522.8 90.5L522.1 91.3L521.4 92.1L520.7 92.9L520.0 93.7L519.3 94.5L518.6 95.3L517.9 96.2L517.2 97.3L516.5 98.3L515.8 99.3L515.1 100.3L514.4 101.4L513.7 102.6L513.0 104.0L512.3 105.7L511.6 107.6L510.9 110.3L510.2 111.7L509.5 112.3L508.8 112.2L508.1 112.0L507.4 111.4L506.7 110.7L506.0 109.9L505.3 109.0L504.6 108.3L503.9 107.7L503.2 107.1L502.5 106.5L501.8 106.0L501.1 105.5L500.4 105.1L499.7 104.6L499.0 104.2L498.3 103.8L497.6 103.4L496.9 103.1L496.2 102.8L495.5 102.4L494.8 102.1L494.1 101.8L493.4 101.4L492.7 101.1L492.0 100.7L491.3 100.5L490.6 100.3L489.9 100.2L489.2 100.1L488.5 100.1L487.8 100.0L487.1 100.0L486.4 100.0L485.7 99.9L485.0 99.9L484.3 99.9L483.6 99.9L482.9 99.8L482.2 99.8L481.5 99.8L480.8 99.8L480.1 99.8L479.4 99.8L478.7 99.8L478.0 99.8L477.3 99.8L476.6 99.8L475.9 99.8L475.2 99.8L474.5 99.8L473.8 99.8L473.1 99.9L472.4 99.9L471.7 99.9L471.0 99.9L470.3 99.9L469.6 99.9L468.9 99.9L468.2 99.9L467.5 99.9L466.8 99.9L466.1 100.0L465.4 100.0L464.7 100.0L464.0 100.0L463.3 100.0L462.6 100.0L461.9 100.1L461.2 100.1L460.5 100.1L459.8 100.1L459.1 100.1L458.4 100.1L457.7 100.2L457.0 100.2L456.3 100.2L455.6 100.2L454.9 100.3L454.2 100.3L453.5 100.3L452.8 100.4L452.1 100.4L451.4 100.4L450.7 100.5L450.0 100.5L449.3 100.5L448.6 100.6L447.9 100.6L447.2 100.6L446.5 100.7L445.8 100.7L445.1 100.8L444.4 100.8L443.7 100.8L443.0 100.9L442.3 100.9L441.6 101.0L440.9 101.0L440.2 101.1L439.5 101.1L438.8 101.2L438.1 101.3L437.4 101.3L436.7 101.4L436.0 101.5L435.3 101.5L434.6 101.6L433.9 101.7L433.2 101.8L432.5 101.9L431.8 102.0L431.1 102.0L430.4 102.1L429.7 102.2L429.0 102.4L428.3 102.5L427.6 102.6L426.9 102.7L426.2 102.9L425.5 103.0L424.8 103.1L424.1 103.3L423.4 103.4L422.7 103.6L422.0 103.8L421.3 104.0L420.6 104.3L419.9 104.5L419.2 104.8L418.5 105.3L417.8 105.7L417.1 106.2L416.4 106.7L415.7 107.1L415.0 107.4L414.3 107.7L413.6 107.9L412.9 108.0L412.2 108.1L411.5 108.2L410.8 108.2L410.1 108.3L409.4 108.3L408.7 108.3L408.0 108.4L407.3 108.5L406.7 108.5L406.6 108.5L406.4 108.5L406.2 108.6L405.9 108.6L405.9 108.6L405.7 108.7L405.4 108.7L405.2 108.8Z" stroke="#941c94"/>
</g>
<rect x="392.50" y="8.10" width="150.80" height="111.40" fill="none" stroke="#707070" stroke-width="1"/>
<line x1="404.48" y1="119.50" x2="404.48" y2="121.70" stroke="#707070" stroke-width="0.8"/>
<text x="404.48" y="128.47" font-size="5.60" font-weight="bold" text-anchor="middle" >−0.6</text>
<line x1="429.62" y1="119.50" x2="429.62" y2="121.70" stroke="#707070" stroke-width="0.8"/>
<text x="429.62" y="128.47" font-size="5.60" font-weight="bold" text-anchor="middle" >−0.4</text>
<line x1="454.76" y1="119.50" x2="454.76" y2="121.70" stroke="#707070" stroke-width="0.8"/>
<text x="454.76" y="128.47" font-size="5.60" font-weight="bold" text-anchor="middle" >−0.2</text>
<line x1="479.90" y1="119.50" x2="479.90" y2="121.70" stroke="#707070" stroke-width="0.8"/>
<text x="479.90" y="128.47" font-size="5.60" font-weight="bold" text-anchor="middle" >0.0</text>
<line x1="505.04" y1="119.50" x2="505.04" y2="121.70" stroke="#707070" stroke-width="0.8"/>
<text x="505.04" y="128.47" font-size="5.60" font-weight="bold" text-anchor="middle" >0.2</text>
<line x1="530.18" y1="119.50" x2="530.18" y2="121.70" stroke="#707070" stroke-width="0.8"/>
<text x="530.18" y="128.47" font-size="5.60" font-weight="bold" text-anchor="middle" >0.4</text>
<line x1="392.50" y1="8.10" x2="390.30" y2="8.10" stroke="#707070" stroke-width="0.8"/>
<text x="389.00" y="10.41" font-size="5.50" font-weight="bold" text-anchor="end" >4.0</text>
<line x1="392.50" y1="30.30" x2="390.30" y2="30.30" stroke="#707070" stroke-width="0.8"/>
<text x="389.00" y="32.61" font-size="5.50" font-weight="bold" text-anchor="end" >3.0</text>
<line x1="392.50" y1="52.50" x2="390.30" y2="52.50" stroke="#707070" stroke-width="0.8"/>
<text x="389.00" y="54.81" font-size="5.50" font-weight="bold" text-anchor="end" >2.0</text>
<line x1="392.50" y1="74.70" x2="390.30" y2="74.70" stroke="#707070" stroke-width="0.8"/>
<text x="389.00" y="77.01" font-size="5.50" font-weight="bold" text-anchor="end" >1.0</text>
<line x1="392.50" y1="96.90" x2="390.30" y2="96.90" stroke="#707070" stroke-width="0.8"/>
<text x="389.00" y="99.21" font-size="5.50" font-weight="bold" text-anchor="end" >0.0</text>
<line x1="392.50" y1="119.10" x2="390.30" y2="119.10" stroke="#707070" stroke-width="0.8"/>
<text x="389.00" y="121.41" font-size="5.50" font-weight="bold" text-anchor="end" >−0.1</text>
<text x="468.00" y="136.20" font-size="5.70" font-weight="bold" text-anchor="middle" >Potential (V vs.SCE)</text>
<text x="0.00" y="0.00" font-size="5.80" font-weight="bold" text-anchor="middle" transform="translate(380,59.3) rotate(-90)">Current (mA)</text>
<text x="431.60" y="27.70" font-size="5.50" font-weight="bold" text-anchor="middle" >1.0 mM UA</text>
<text x="433.00" y="55.80" font-size="5.50" font-weight="bold" text-anchor="middle" >0.01 mM UA</text>
<line x1="430.6" y1="34.5" x2="430.6" y2="47.8" stroke="#555" stroke-width="0.6"/>
<path d="M430.6 32.2 L431.5 35.2 L429.7 35.2Z" fill="#333"/>
<text x="369.80" y="14.70" font-size="16.00" font-weight="normal" text-anchor="start" style="stroke-width:0.4px">c</text>
<rect x="27.30" y="145.70" width="156.20" height="115.50" fill="none" stroke="#707070" stroke-width="1"/>
<g stroke-width="1.15" fill="none">
<line x1="43.40" y1="248.00" x2="168.50" y2="185.00" stroke="#000000"/>
<line x1="43.40" y1="245.60" x2="168.50" y2="170.40" stroke="#ff0000"/>
<line x1="43.20" y1="243.00" x2="168.50" y2="158.80" stroke="#00ff00"/>
<line x1="43.40" y1="244.60" x2="168.50" y2="187.20" stroke="#0000ff"/>
</g>
<rect x="42.36" y="247.15" width="2.70" height="2.70" fill="#000"/>
<rect x="43.61" y="246.25" width="2.70" height="2.70" fill="#000"/>
<rect x="45.17" y="245.15" width="2.70" height="2.70" fill="#000"/>
<rect x="48.29" y="242.65" width="2.70" height="2.70" fill="#000"/>
<rect x="54.53" y="238.65" width="2.70" height="2.70" fill="#000"/>
<rect x="67.01" y="231.65" width="2.70" height="2.70" fill="#000"/>
<rect x="73.25" y="229.15" width="2.70" height="2.70" fill="#000"/>
<rect x="104.45" y="214.15" width="2.70" height="2.70" fill="#000"/>
<rect x="166.85" y="183.95" width="2.70" height="2.70" fill="#000"/>
<circle cx="43.71" cy="244.50" r="1.42" fill="#f00"/>
<circle cx="44.96" cy="243.50" r="1.42" fill="#f00"/>
<circle cx="46.52" cy="242.30" r="1.42" fill="#f00"/>
<circle cx="49.64" cy="239.80" r="1.42" fill="#f00"/>
<circle cx="55.88" cy="235.00" r="1.42" fill="#f00"/>
<circle cx="68.36" cy="226.50" r="1.42" fill="#f00"/>
<circle cx="74.60" cy="224.50" r="1.42" fill="#f00"/>
<circle cx="105.80" cy="207.80" r="1.42" fill="#f00"/>
<circle cx="137.00" cy="188.40" r="1.42" fill="#f00"/>
<circle cx="168.20" cy="170.70" r="1.42" fill="#f00"/>
<path d="M43.71 239.81L45.40 242.93L42.02 242.93Z" fill="#0f0"/>
<path d="M44.96 238.61L46.65 241.73L43.27 241.73Z" fill="#0f0"/>
<path d="M46.52 237.51L48.21 240.63L44.83 240.63Z" fill="#0f0"/>
<path d="M49.64 235.31L51.33 238.43L47.95 238.43Z" fill="#0f0"/>
<path d="M55.88 230.01L57.57 233.13L54.19 233.13Z" fill="#0f0"/>
<path d="M68.36 218.11L70.05 221.23L66.67 221.23Z" fill="#0f0"/>
<path d="M74.60 217.01L76.29 220.13L72.91 220.13Z" fill="#0f0"/>
<path d="M105.80 193.91L107.49 197.03L104.11 197.03Z" fill="#0f0"/>
<path d="M168.20 159.81L169.89 162.93L166.51 162.93Z" fill="#0f0"/>
<path d="M43.71 244.69L45.40 241.57L42.02 241.57Z" fill="#00f"/>
<path d="M44.96 243.99L46.65 240.87L43.27 240.87Z" fill="#00f"/>
<path d="M46.52 243.19L48.21 240.07L44.83 240.07Z" fill="#00f"/>
<path d="M49.64 241.19L51.33 238.07L47.95 238.07Z" fill="#00f"/>
<path d="M55.88 237.99L57.57 234.87L54.19 234.87Z" fill="#00f"/>
<path d="M68.36 230.19L70.05 227.07L66.67 227.07Z" fill="#00f"/>
<path d="M74.60 228.19L76.29 225.07L72.91 225.07Z" fill="#00f"/>
<path d="M105.80 215.09L107.49 211.97L104.11 211.97Z" fill="#00f"/>
<path d="M137.00 204.19L138.69 201.07L135.31 201.07Z" fill="#00f"/>
<path d="M168.20 188.49L169.89 185.37L166.51 185.37Z" fill="#00f"/>
<line x1="43.40" y1="261.20" x2="43.40" y2="263.40" stroke="#707070" stroke-width="0.8"/>
<text x="43.40" y="269.82" font-size="6.00" font-weight="bold" text-anchor="middle" >0.0</text>
<line x1="74.60" y1="261.20" x2="74.60" y2="263.40" stroke="#707070" stroke-width="0.8"/>
<text x="74.60" y="269.82" font-size="6.00" font-weight="bold" text-anchor="middle" >1.0</text>
<line x1="105.80" y1="261.20" x2="105.80" y2="263.40" stroke="#707070" stroke-width="0.8"/>
<text x="105.80" y="269.82" font-size="6.00" font-weight="bold" text-anchor="middle" >2.0</text>
<line x1="137.00" y1="261.20" x2="137.00" y2="263.40" stroke="#707070" stroke-width="0.8"/>
<text x="137.00" y="269.82" font-size="6.00" font-weight="bold" text-anchor="middle" >3.0</text>
<line x1="168.20" y1="261.20" x2="168.20" y2="263.40" stroke="#707070" stroke-width="0.8"/>
<text x="168.20" y="269.82" font-size="6.00" font-weight="bold" text-anchor="middle" >4.0</text>
<line x1="27.30" y1="146.03" x2="25.10" y2="146.03" stroke="#707070" stroke-width="0.8"/>
<text x="23.60" y="148.55" font-size="6.00" font-weight="bold" text-anchor="end" >2.5</text>
<line x1="27.30" y1="166.90" x2="25.10" y2="166.90" stroke="#707070" stroke-width="0.8"/>
<line x1="27.30" y1="187.78" x2="25.10" y2="187.78" stroke="#707070" stroke-width="0.8"/>
<text x="23.60" y="190.30" font-size="6.00" font-weight="bold" text-anchor="end" >1.5</text>
<line x1="27.30" y1="208.65" x2="25.10" y2="208.65" stroke="#707070" stroke-width="0.8"/>
<line x1="27.30" y1="229.53" x2="25.10" y2="229.53" stroke="#707070" stroke-width="0.8"/>
<text x="23.60" y="232.05" font-size="6.00" font-weight="bold" text-anchor="end" >0.5</text>
<line x1="27.30" y1="250.40" x2="25.10" y2="250.40" stroke="#707070" stroke-width="0.8"/>
<text x="106.20" y="277.30" font-size="5.90" font-weight="bold" text-anchor="middle" >Concentration (mM)</text>
<text x="0.00" y="0.00" font-size="6.10" font-weight="bold" text-anchor="middle" transform="translate(13.2,203.3) rotate(-90)">Current (mA)</text>
<rect x="32.10" y="151.10" width="2.60" height="2.60" fill="#000"/>
<text x="76.30" y="154.45" font-size="5.70" font-weight="bold" text-anchor="end" >1 h GNSs/CC</text>
<text x="86.20" y="154.45" font-size="5.70" font-weight="bold">Slope = 3.66×10<tspan font-size="3.53" dy="-2.17">−4</tspan></text>
<circle cx="33.40" cy="158.80" r="1.37" fill="#f00"/>
<text x="76.30" y="160.85" font-size="5.70" font-weight="bold" text-anchor="end" >5 h GNSs/CC</text>
<text x="86.20" y="160.85" font-size="5.70" font-weight="bold">Slope = 4.41×10<tspan font-size="3.53" dy="-2.17">−4</tspan></text>
<path d="M33.40 163.47L35.02 166.48L31.77 166.48Z" fill="#0f0"/>
<text x="76.30" y="167.15" font-size="5.70" font-weight="bold" text-anchor="end" >7 h GNSs/CC</text>
<text x="86.20" y="167.15" font-size="5.70" font-weight="bold">Slope = 4.89×10<tspan font-size="3.53" dy="-2.17">−4</tspan></text>
<path d="M33.40 173.03L35.02 170.02L31.77 170.02Z" fill="#00f"/>
<text x="76.30" y="173.45" font-size="5.70" font-weight="bold" text-anchor="end" >10 h GNSs/CC</text>
<text x="86.20" y="173.45" font-size="5.70" font-weight="bold">Slope = 3.32×10<tspan font-size="3.53" dy="-2.17">−4</tspan></text>
<text x="40.50" y="186.05" font-size="5.70" font-weight="bold">R<tspan font-size="3.53" dy="-2.17">2</tspan><tspan dy="2.17"> = 0.998</tspan></text>
<text x="40.50" y="192.55" font-size="5.70" font-weight="bold">R<tspan font-size="3.53" dy="-2.17">2</tspan><tspan dy="2.17"> = 0.999</tspan></text>
<text x="40.50" y="199.15" font-size="5.70" font-weight="bold">R<tspan font-size="3.53" dy="-2.17">2</tspan><tspan dy="2.17"> = 0.988</tspan></text>
<text x="40.50" y="205.85" font-size="5.70" font-weight="bold">R<tspan font-size="3.53" dy="-2.17">2</tspan><tspan dy="2.17"> = 0.997</tspan></text>
<text x="4.00" y="154.30" font-size="15.00" font-weight="normal" text-anchor="start" style="stroke-width:0.4px">d</text>
<rect x="210.60" y="145.70" width="156.70" height="114.50" fill="none" stroke="#707070" stroke-width="1"/>
<g stroke-width="1.15" fill="none">
<line x1="223.80" y1="248.40" x2="352.60" y2="186.80" stroke="#000000"/>
<line x1="223.80" y1="246.10" x2="352.60" y2="170.50" stroke="#ff0000"/>
<line x1="223.80" y1="245.10" x2="352.60" y2="154.40" stroke="#00ff00"/>
<line x1="223.80" y1="248.30" x2="352.60" y2="191.70" stroke="#0000ff"/>
</g>
<rect x="223.44" y="246.65" width="2.70" height="2.70" fill="#000"/>
<rect x="228.62" y="244.25" width="2.70" height="2.70" fill="#000"/>
<rect x="235.08" y="240.65" width="2.70" height="2.70" fill="#000"/>
<rect x="248.01" y="233.85" width="2.70" height="2.70" fill="#000"/>
<rect x="273.87" y="222.75" width="2.70" height="2.70" fill="#000"/>
<rect x="325.59" y="198.85" width="2.70" height="2.70" fill="#000"/>
<rect x="351.45" y="185.45" width="2.70" height="2.70" fill="#000"/>
<circle cx="224.79" cy="248.90" r="1.42" fill="#f00"/>
<circle cx="229.97" cy="242.10" r="1.42" fill="#f00"/>
<circle cx="236.43" cy="238.20" r="1.42" fill="#f00"/>
<circle cx="249.36" cy="230.00" r="1.42" fill="#f00"/>
<circle cx="275.22" cy="210.80" r="1.42" fill="#f00"/>
<circle cx="326.94" cy="190.20" r="1.42" fill="#f00"/>
<circle cx="352.80" cy="169.10" r="1.42" fill="#f00"/>
<path d="M224.79 244.31L226.48 247.43L223.11 247.43Z" fill="#0f0"/>
<path d="M229.97 238.41L231.65 241.53L228.28 241.53Z" fill="#0f0"/>
<path d="M236.43 233.51L238.12 236.63L234.74 236.63Z" fill="#0f0"/>
<path d="M249.36 222.81L251.05 225.93L247.67 225.93Z" fill="#0f0"/>
<path d="M275.22 204.31L276.91 207.43L273.53 207.43Z" fill="#0f0"/>
<path d="M326.94 173.61L328.63 176.73L325.25 176.73Z" fill="#0f0"/>
<path d="M352.80 151.51L354.49 154.63L351.11 154.63Z" fill="#0f0"/>
<path d="M224.79 249.19L226.48 246.07L223.11 246.07Z" fill="#00f"/>
<path d="M229.97 246.69L231.65 243.57L228.28 243.57Z" fill="#00f"/>
<path d="M236.43 243.79L238.12 240.67L234.74 240.67Z" fill="#00f"/>
<path d="M249.36 238.89L251.05 235.77L247.67 235.77Z" fill="#00f"/>
<path d="M275.22 227.79L276.91 224.67L273.53 224.67Z" fill="#00f"/>
<path d="M326.94 206.19L328.63 203.07L325.25 203.07Z" fill="#00f"/>
<path d="M352.80 193.39L354.49 190.27L351.11 190.27Z" fill="#00f"/>
<line x1="223.50" y1="260.20" x2="223.50" y2="262.40" stroke="#707070" stroke-width="0.8"/>
<text x="223.50" y="268.22" font-size="6.00" font-weight="bold" text-anchor="middle" >0.0</text>
<line x1="249.36" y1="260.20" x2="249.36" y2="262.40" stroke="#707070" stroke-width="0.8"/>
<text x="249.36" y="268.22" font-size="6.00" font-weight="bold" text-anchor="middle" >0.2</text>
<line x1="275.22" y1="260.20" x2="275.22" y2="262.40" stroke="#707070" stroke-width="0.8"/>
<text x="275.22" y="268.22" font-size="6.00" font-weight="bold" text-anchor="middle" >0.4</text>
<line x1="301.08" y1="260.20" x2="301.08" y2="262.40" stroke="#707070" stroke-width="0.8"/>
<text x="301.08" y="268.22" font-size="6.00" font-weight="bold" text-anchor="middle" >0.6</text>
<line x1="326.94" y1="260.20" x2="326.94" y2="262.40" stroke="#707070" stroke-width="0.8"/>
<text x="326.94" y="268.22" font-size="6.00" font-weight="bold" text-anchor="middle" >0.8</text>
<line x1="352.80" y1="260.20" x2="352.80" y2="262.40" stroke="#707070" stroke-width="0.8"/>
<text x="352.80" y="268.22" font-size="6.00" font-weight="bold" text-anchor="middle" >1.0</text>
<line x1="210.60" y1="155.30" x2="208.40" y2="155.30" stroke="#707070" stroke-width="0.8"/>
<text x="206.30" y="157.82" font-size="6.00" font-weight="bold" text-anchor="end" >5.0</text>
<line x1="210.60" y1="174.30" x2="208.40" y2="174.30" stroke="#707070" stroke-width="0.8"/>
<text x="206.30" y="176.82" font-size="6.00" font-weight="bold" text-anchor="end" >4.0</text>
<line x1="210.60" y1="193.30" x2="208.40" y2="193.30" stroke="#707070" stroke-width="0.8"/>
<text x="206.30" y="195.82" font-size="6.00" font-weight="bold" text-anchor="end" >3.0</text>
<line x1="210.60" y1="212.30" x2="208.40" y2="212.30" stroke="#707070" stroke-width="0.8"/>
<text x="206.30" y="214.82" font-size="6.00" font-weight="bold" text-anchor="end" >2.0</text>
<line x1="210.60" y1="231.30" x2="208.40" y2="231.30" stroke="#707070" stroke-width="0.8"/>
<text x="206.30" y="233.82" font-size="6.00" font-weight="bold" text-anchor="end" >1.0</text>
<line x1="210.60" y1="250.30" x2="208.40" y2="250.30" stroke="#707070" stroke-width="0.8"/>
<text x="206.30" y="252.82" font-size="6.00" font-weight="bold" text-anchor="end" >0.0</text>
<text x="288.20" y="277.30" font-size="5.90" font-weight="bold" text-anchor="middle" >Concentration (mM)</text>
<text x="0.00" y="0.00" font-size="6.00" font-weight="bold" text-anchor="middle" transform="translate(195.6,200.7) rotate(-90)">Current (mA)</text>
<rect x="217.40" y="150.30" width="2.60" height="2.60" fill="#000"/>
<text x="262.80" y="153.65" font-size="5.70" font-weight="bold" text-anchor="end" >1 h GNSs/CC</text>
<text x="272.60" y="153.65" font-size="5.70" font-weight="bold">Slope = 3.02×10<tspan font-size="3.53" dy="-2.17">−3</tspan></text>
<circle cx="218.70" cy="157.90" r="1.37" fill="#f00"/>
<text x="262.80" y="159.95" font-size="5.70" font-weight="bold" text-anchor="end" >5 h GNSs/CC</text>
<text x="272.60" y="159.95" font-size="5.70" font-weight="bold">Slope = 4.03×10<tspan font-size="3.53" dy="-2.17">−3</tspan></text>
<path d="M218.70 162.78L220.32 165.78L217.07 165.78Z" fill="#0f0"/>
<text x="262.80" y="166.45" font-size="5.70" font-weight="bold" text-anchor="end" >7 h GNSs/CC</text>
<text x="272.60" y="166.45" font-size="5.70" font-weight="bold">Slope = 4.76×10<tspan font-size="3.53" dy="-2.17">−3</tspan></text>
<path d="M218.70 172.43L220.32 169.42L217.07 169.42Z" fill="#00f"/>
<text x="262.80" y="172.85" font-size="5.70" font-weight="bold" text-anchor="end" >10 h GNSs/CC</text>
<text x="272.60" y="172.85" font-size="5.70" font-weight="bold">Slope = 2.87×10<tspan font-size="3.53" dy="-2.17">−3</tspan></text>
<rect x="217.40" y="182.90" width="2.60" height="2.60" fill="#000"/>
<text x="228.60" y="186.25" font-size="5.70" font-weight="bold">R<tspan font-size="3.53" dy="-2.17">2</tspan><tspan dy="2.17"> = 0.999</tspan></text>
<circle cx="218.70" cy="190.90" r="1.37" fill="#f00"/>
<text x="228.60" y="192.95" font-size="5.70" font-weight="bold">R<tspan font-size="3.53" dy="-2.17">2</tspan><tspan dy="2.17"> = 0.988</tspan></text>
<path d="M218.70 195.88L220.32 198.88L217.07 198.88Z" fill="#0f0"/>
<text x="228.60" y="199.55" font-size="5.70" font-weight="bold">R<tspan font-size="3.53" dy="-2.17">2</tspan><tspan dy="2.17"> = 0.996</tspan></text>
<path d="M218.70 205.82L220.32 202.82L217.07 202.82Z" fill="#00f"/>
<text x="228.60" y="206.25" font-size="5.70" font-weight="bold">R<tspan font-size="3.53" dy="-2.17">2</tspan><tspan dy="2.17"> = 0.999</tspan></text>
<text x="187.10" y="155.00" font-size="16.00" font-weight="normal" text-anchor="start" style="stroke-width:0.4px">e</text>
<rect x="391.60" y="145.70" width="151.50" height="112.30" fill="none" stroke="#707070" stroke-width="1"/>
<g stroke-width="1.15" fill="none">
<line x1="404.30" y1="249.40" x2="531.40" y2="206.20" stroke="#000000"/>
<line x1="404.30" y1="248.30" x2="531.40" y2="155.70" stroke="#ff0000"/>
<line x1="404.30" y1="245.70" x2="531.40" y2="171.90" stroke="#00ff00"/>
<line x1="404.30" y1="244.80" x2="531.40" y2="199.70" stroke="#0000ff"/>
</g>
<rect x="403.92" y="248.15" width="2.70" height="2.70" fill="#000"/>
<rect x="409.00" y="245.55" width="2.70" height="2.70" fill="#000"/>
<rect x="415.35" y="242.85" width="2.70" height="2.70" fill="#000"/>
<rect x="428.05" y="236.65" width="2.70" height="2.70" fill="#000"/>
<rect x="453.45" y="225.65" width="2.70" height="2.70" fill="#000"/>
<rect x="504.25" y="213.35" width="2.70" height="2.70" fill="#000"/>
<rect x="529.65" y="204.85" width="2.70" height="2.70" fill="#000"/>
<circle cx="405.27" cy="248.00" r="1.42" fill="#f00"/>
<circle cx="410.35" cy="244.00" r="1.42" fill="#f00"/>
<circle cx="416.70" cy="240.00" r="1.42" fill="#f00"/>
<circle cx="429.40" cy="231.90" r="1.42" fill="#f00"/>
<circle cx="454.80" cy="213.00" r="1.42" fill="#f00"/>
<circle cx="505.60" cy="172.70" r="1.42" fill="#f00"/>
<circle cx="531.00" cy="155.70" r="1.42" fill="#f00"/>
<path d="M405.27 244.81L406.96 247.93L403.58 247.93Z" fill="#0f0"/>
<path d="M410.35 240.51L412.04 243.63L408.66 243.63Z" fill="#0f0"/>
<path d="M416.70 236.31L418.39 239.43L415.01 239.43Z" fill="#0f0"/>
<path d="M429.40 230.21L431.09 233.33L427.71 233.33Z" fill="#0f0"/>
<path d="M454.80 212.91L456.49 216.03L453.11 216.03Z" fill="#0f0"/>
<path d="M505.60 180.91L507.29 184.03L503.91 184.03Z" fill="#0f0"/>
<path d="M531.00 175.31L532.69 178.43L529.31 178.43Z" fill="#0f0"/>
<path d="M405.27 246.69L406.96 243.57L403.58 243.57Z" fill="#00f"/>
<path d="M410.35 244.69L412.04 241.57L408.66 241.57Z" fill="#00f"/>
<path d="M416.70 243.89L418.39 240.77L415.01 240.77Z" fill="#00f"/>
<path d="M429.40 234.19L431.09 231.07L427.71 231.07Z" fill="#00f"/>
<path d="M454.80 222.49L456.49 219.37L453.11 219.37Z" fill="#00f"/>
<path d="M505.60 213.59L507.29 210.47L503.91 210.47Z" fill="#00f"/>
<path d="M531.00 201.39L532.69 198.27L529.31 198.27Z" fill="#00f"/>
<line x1="404.00" y1="258.00" x2="404.00" y2="260.20" stroke="#707070" stroke-width="0.8"/>
<text x="404.00" y="266.82" font-size="6.00" font-weight="bold" text-anchor="middle" >0.0</text>
<line x1="429.40" y1="258.00" x2="429.40" y2="260.20" stroke="#707070" stroke-width="0.8"/>
<text x="429.40" y="266.82" font-size="6.00" font-weight="bold" text-anchor="middle" >0.2</text>
<line x1="454.80" y1="258.00" x2="454.80" y2="260.20" stroke="#707070" stroke-width="0.8"/>
<text x="454.80" y="266.82" font-size="6.00" font-weight="bold" text-anchor="middle" >0.4</text>
<line x1="480.20" y1="258.00" x2="480.20" y2="260.20" stroke="#707070" stroke-width="0.8"/>
<text x="480.20" y="266.82" font-size="6.00" font-weight="bold" text-anchor="middle" >0.6</text>
<line x1="505.60" y1="258.00" x2="505.60" y2="260.20" stroke="#707070" stroke-width="0.8"/>
<text x="505.60" y="266.82" font-size="6.00" font-weight="bold" text-anchor="middle" >0.8</text>
<line x1="531.00" y1="258.00" x2="531.00" y2="260.20" stroke="#707070" stroke-width="0.8"/>
<text x="531.00" y="266.82" font-size="6.00" font-weight="bold" text-anchor="middle" >1.0</text>
<line x1="391.60" y1="151.80" x2="389.40" y2="151.80" stroke="#707070" stroke-width="0.8"/>
<text x="387.50" y="154.32" font-size="6.00" font-weight="bold" text-anchor="end" >4.0</text>
<line x1="391.60" y1="176.90" x2="389.40" y2="176.90" stroke="#707070" stroke-width="0.8"/>
<text x="387.50" y="179.42" font-size="6.00" font-weight="bold" text-anchor="end" >3.0</text>
<line x1="391.60" y1="202.00" x2="389.40" y2="202.00" stroke="#707070" stroke-width="0.8"/>
<text x="387.50" y="204.52" font-size="6.00" font-weight="bold" text-anchor="end" >2.0</text>
<line x1="391.60" y1="227.10" x2="389.40" y2="227.10" stroke="#707070" stroke-width="0.8"/>
<text x="387.50" y="229.62" font-size="6.00" font-weight="bold" text-anchor="end" >1.0</text>
<line x1="391.60" y1="252.20" x2="389.40" y2="252.20" stroke="#707070" stroke-width="0.8"/>
<text x="387.50" y="254.72" font-size="6.00" font-weight="bold" text-anchor="end" >0.0</text>
<text x="467.90" y="273.60" font-size="5.80" font-weight="bold" text-anchor="middle" >Concentration (mM)</text>
<text x="0.00" y="0.00" font-size="5.90" font-weight="bold" text-anchor="middle" transform="translate(378.8,201.7) rotate(-90)">Current (mA)</text>
<rect x="398.10" y="150.00" width="2.60" height="2.60" fill="#000"/>
<text x="444.80" y="153.35" font-size="5.70" font-weight="bold" text-anchor="end" >1 h GNSs/CC</text>
<text x="454.20" y="153.35" font-size="5.70" font-weight="bold">Slope = 1.73×10<tspan font-size="3.53" dy="-2.17">−3</tspan></text>
<circle cx="399.40" cy="157.60" r="1.37" fill="#f00"/>
<text x="444.80" y="159.65" font-size="5.70" font-weight="bold" text-anchor="end" >5 h GNSs/CC</text>
<text x="454.20" y="159.65" font-size="5.70" font-weight="bold">Slope = 3.74×10<tspan font-size="3.53" dy="-2.17">−3</tspan></text>
<path d="M399.40 162.57L401.02 165.58L397.77 165.58Z" fill="#0f0"/>
<text x="444.80" y="166.25" font-size="5.70" font-weight="bold" text-anchor="end" >7 h GNSs/CC</text>
<text x="454.20" y="166.25" font-size="5.70" font-weight="bold">Slope = 2.93×10<tspan font-size="3.53" dy="-2.17">−3</tspan></text>
<path d="M399.40 172.32L401.02 169.32L397.77 169.32Z" fill="#00f"/>
<text x="444.80" y="172.75" font-size="5.70" font-weight="bold" text-anchor="end" >10 h GNSs/CC</text>
<text x="454.20" y="172.75" font-size="5.70" font-weight="bold">Slope = 1.83×10<tspan font-size="3.53" dy="-2.17">−3</tspan></text>
<rect x="398.10" y="182.70" width="2.60" height="2.60" fill="#000"/>
<text x="410.20" y="186.05" font-size="5.70" font-weight="bold">R<tspan font-size="3.53" dy="-2.17">2</tspan><tspan dy="2.17"> = 0.985</tspan></text>
<circle cx="399.40" cy="190.90" r="1.37" fill="#f00"/>
<text x="410.20" y="192.95" font-size="5.70" font-weight="bold">R<tspan font-size="3.53" dy="-2.17">2</tspan><tspan dy="2.17"> = 0.998</tspan></text>
<path d="M399.40 195.97L401.02 198.98L397.77 198.98Z" fill="#0f0"/>
<text x="410.20" y="199.65" font-size="5.70" font-weight="bold">R<tspan font-size="3.53" dy="-2.17">2</tspan><tspan dy="2.17"> = 0.989</tspan></text>
<path d="M399.40 205.72L401.02 202.72L397.77 202.72Z" fill="#00f"/>
<text x="410.20" y="206.15" font-size="5.70" font-weight="bold">R<tspan font-size="3.53" dy="-2.17">2</tspan><tspan dy="2.17"> = 0.957</tspan></text>
<text x="371.20" y="156.40" font-size="15.00" font-weight="normal" text-anchor="start" style="stroke-width:0.4px">f</text>
</svg></body></html>
